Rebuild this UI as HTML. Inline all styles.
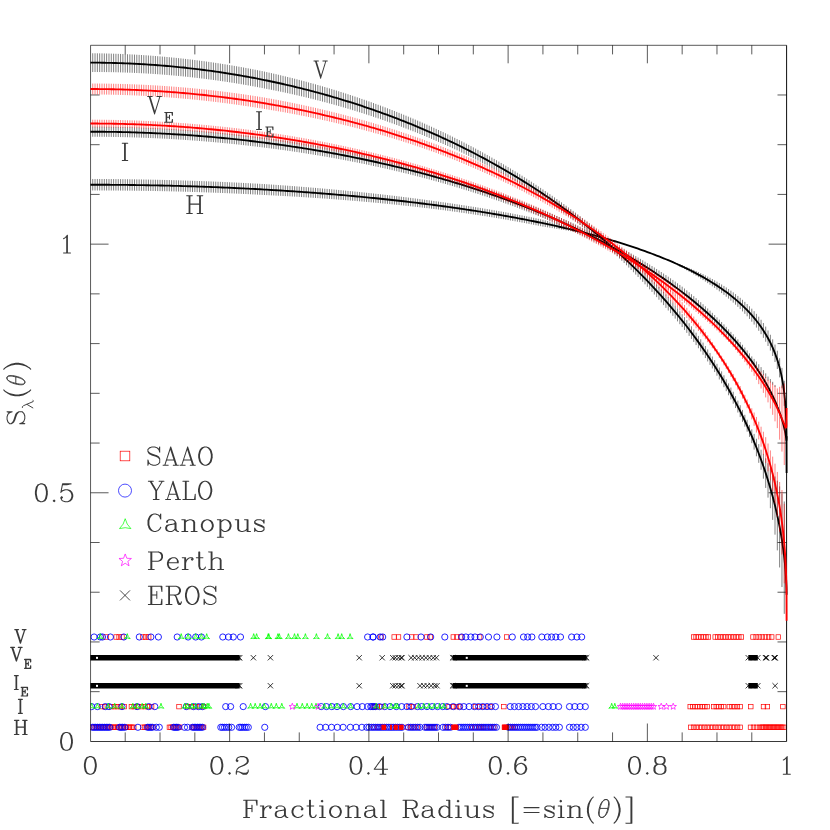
<!DOCTYPE html>
<html><head><meta charset="utf-8"><title>Limb darkening</title>
<style>html,body{margin:0;padding:0;background:#fff;font-family:"Liberation Serif",serif}body{width:830px;height:830px;overflow:hidden;position:relative}</style></head>
<body>
<svg width="830" height="830" viewBox="0 0 830 830" style="position:absolute;left:0;top:0">
<rect width="830" height="830" fill="#fff"/>
<clipPath id="cp"><rect x="90.4" y="40" width="700" height="705"/></clipPath>
<g clip-path="url(#cp)">
<rect x="88.00" y="655.00" width="151.70" height="5.5" fill="#000"/>
<rect x="452.60" y="655.00" width="134.00" height="5.5" fill="#000"/>
<rect x="748.30" y="655.00" width="9.50" height="5.5" fill="#000"/>
<rect x="88.00" y="683.00" width="151.70" height="5.5" fill="#000"/>
<rect x="452.60" y="683.00" width="134.00" height="5.5" fill="#000"/>
<rect x="748.30" y="683.00" width="9.50" height="5.5" fill="#000"/>
<path d="M237.05 655.10l5.30 5.30M237.05 660.40l5.30 -5.30M235.85 655.10l5.30 5.30M235.85 660.40l5.30 -5.30M250.75 655.10l5.30 5.30M250.75 660.40l5.30 -5.30M267.75 655.10l5.30 5.30M267.75 660.40l5.30 -5.30M356.55 655.10l5.30 5.30M356.55 660.40l5.30 -5.30M379.55 655.10l5.30 5.30M379.55 660.40l5.30 -5.30M390.15 655.10l5.30 5.30M390.15 660.40l5.30 -5.30M392.65 655.10l5.30 5.30M392.65 660.40l5.30 -5.30M395.85 655.10l5.30 5.30M395.85 660.40l5.30 -5.30M398.55 655.10l5.30 5.30M398.55 660.40l5.30 -5.30M399.35 655.10l5.30 5.30M399.35 660.40l5.30 -5.30M408.45 655.10l5.30 5.30M408.45 660.40l5.30 -5.30M412.05 655.10l5.30 5.30M412.05 660.40l5.30 -5.30M415.85 655.10l5.30 5.30M415.85 660.40l5.30 -5.30M419.45 655.10l5.30 5.30M419.45 660.40l5.30 -5.30M423.25 655.10l5.30 5.30M423.25 660.40l5.30 -5.30M426.85 655.10l5.30 5.30M426.85 660.40l5.30 -5.30M430.65 655.10l5.30 5.30M430.65 660.40l5.30 -5.30M433.75 655.10l5.30 5.30M433.75 660.40l5.30 -5.30M449.95 655.10l5.30 5.30M449.95 660.40l5.30 -5.30M451.15 655.10l5.30 5.30M451.15 660.40l5.30 -5.30M583.95 655.10l5.30 5.30M583.95 660.40l5.30 -5.30M582.75 655.10l5.30 5.30M582.75 660.40l5.30 -5.30M745.65 655.10l5.30 5.30M745.65 660.40l5.30 -5.30M755.15 655.10l5.30 5.30M755.15 660.40l5.30 -5.30M653.35 655.10l5.30 5.30M653.35 660.40l5.30 -5.30M762.85 655.10l5.30 5.30M762.85 660.40l5.30 -5.30M763.35 655.10l5.30 5.30M763.35 660.40l5.30 -5.30M763.85 655.10l5.30 5.30M763.85 660.40l5.30 -5.30M771.55 655.10l5.30 5.30M771.55 660.40l5.30 -5.30M772.05 655.10l5.30 5.30M772.05 660.40l5.30 -5.30M772.55 655.10l5.30 5.30M772.55 660.40l5.30 -5.30M237.05 683.10l5.30 5.30M237.05 688.40l5.30 -5.30M235.85 683.10l5.30 5.30M235.85 688.40l5.30 -5.30M267.75 683.10l5.30 5.30M267.75 688.40l5.30 -5.30M356.55 683.10l5.30 5.30M356.55 688.40l5.30 -5.30M390.15 683.10l5.30 5.30M390.15 688.40l5.30 -5.30M392.65 683.10l5.30 5.30M392.65 688.40l5.30 -5.30M395.85 683.10l5.30 5.30M395.85 688.40l5.30 -5.30M398.55 683.10l5.30 5.30M398.55 688.40l5.30 -5.30M399.35 683.10l5.30 5.30M399.35 688.40l5.30 -5.30M417.35 683.10l5.30 5.30M417.35 688.40l5.30 -5.30M421.15 683.10l5.30 5.30M421.15 688.40l5.30 -5.30M424.65 683.10l5.30 5.30M424.65 688.40l5.30 -5.30M428.45 683.10l5.30 5.30M428.45 688.40l5.30 -5.30M432.05 683.10l5.30 5.30M432.05 688.40l5.30 -5.30M434.35 683.10l5.30 5.30M434.35 688.40l5.30 -5.30M449.95 683.10l5.30 5.30M449.95 688.40l5.30 -5.30M451.15 683.10l5.30 5.30M451.15 688.40l5.30 -5.30M583.95 683.10l5.30 5.30M583.95 688.40l5.30 -5.30M582.75 683.10l5.30 5.30M582.75 688.40l5.30 -5.30M745.65 683.10l5.30 5.30M745.65 688.40l5.30 -5.30M755.15 683.10l5.30 5.30M755.15 688.40l5.30 -5.30M772.45 683.10l5.30 5.30M772.45 688.40l5.30 -5.30" stroke="#000" stroke-width="0.8" fill="none" stroke-linejoin="miter"/>
<g stroke="#f00" stroke-width="0.7" fill="none"><rect x="103.85" y="634.75" width="4.50" height="4.50"/><rect x="113.95" y="634.75" width="4.50" height="4.50"/><rect x="116.85" y="634.75" width="4.50" height="4.50"/><rect x="119.75" y="634.75" width="4.50" height="4.50"/><rect x="140.65" y="634.75" width="4.50" height="4.50"/><rect x="143.55" y="634.75" width="4.50" height="4.50"/><rect x="146.45" y="634.75" width="4.50" height="4.50"/><rect x="378.75" y="634.75" width="4.50" height="4.50"/><rect x="391.95" y="634.75" width="4.50" height="4.50"/><rect x="396.25" y="634.75" width="4.50" height="4.50"/><rect x="409.45" y="634.75" width="4.50" height="4.50"/><rect x="413.75" y="634.75" width="4.50" height="4.50"/><rect x="424.65" y="634.75" width="4.50" height="4.50"/><rect x="427.85" y="634.75" width="4.50" height="4.50"/><rect x="451.05" y="634.75" width="4.50" height="4.50"/><rect x="454.65" y="634.75" width="4.50" height="4.50"/><rect x="458.45" y="634.75" width="4.50" height="4.50"/><rect x="477.35" y="634.75" width="4.50" height="4.50"/><rect x="504.35" y="634.75" width="4.50" height="4.50"/><rect x="691.35" y="634.75" width="4.50" height="4.50"/><rect x="693.82" y="634.75" width="4.50" height="4.50"/><rect x="696.28" y="634.75" width="4.50" height="4.50"/><rect x="698.75" y="634.75" width="4.50" height="4.50"/><rect x="701.22" y="634.75" width="4.50" height="4.50"/><rect x="703.68" y="634.75" width="4.50" height="4.50"/><rect x="706.15" y="634.75" width="4.50" height="4.50"/><rect x="712.95" y="634.75" width="4.50" height="4.50"/><rect x="715.57" y="634.75" width="4.50" height="4.50"/><rect x="718.19" y="634.75" width="4.50" height="4.50"/><rect x="720.81" y="634.75" width="4.50" height="4.50"/><rect x="723.43" y="634.75" width="4.50" height="4.50"/><rect x="726.05" y="634.75" width="4.50" height="4.50"/><rect x="728.67" y="634.75" width="4.50" height="4.50"/><rect x="731.29" y="634.75" width="4.50" height="4.50"/><rect x="733.91" y="634.75" width="4.50" height="4.50"/><rect x="736.53" y="634.75" width="4.50" height="4.50"/><rect x="739.15" y="634.75" width="4.50" height="4.50"/><rect x="750.75" y="634.75" width="4.50" height="4.50"/><rect x="753.87" y="634.75" width="4.50" height="4.50"/><rect x="756.98" y="634.75" width="4.50" height="4.50"/><rect x="760.10" y="634.75" width="4.50" height="4.50"/><rect x="763.22" y="634.75" width="4.50" height="4.50"/><rect x="766.33" y="634.75" width="4.50" height="4.50"/><rect x="769.45" y="634.75" width="4.50" height="4.50"/><rect x="776.05" y="634.75" width="4.50" height="4.50"/><rect x="99.45" y="704.35" width="4.50" height="4.50"/><rect x="102.35" y="704.35" width="4.50" height="4.50"/><rect x="109.55" y="704.35" width="4.50" height="4.50"/><rect x="112.45" y="704.35" width="4.50" height="4.50"/><rect x="115.35" y="704.35" width="4.50" height="4.50"/><rect x="118.25" y="704.35" width="4.50" height="4.50"/><rect x="121.85" y="704.35" width="4.50" height="4.50"/><rect x="129.15" y="704.35" width="4.50" height="4.50"/><rect x="131.95" y="704.35" width="4.50" height="4.50"/><rect x="135.65" y="704.35" width="4.50" height="4.50"/><rect x="139.25" y="704.35" width="4.50" height="4.50"/><rect x="142.85" y="704.35" width="4.50" height="4.50"/><rect x="145.75" y="704.35" width="4.50" height="4.50"/><rect x="149.35" y="704.35" width="4.50" height="4.50"/><rect x="176.75" y="704.35" width="4.50" height="4.50"/><rect x="185.45" y="704.35" width="4.50" height="4.50"/><rect x="189.05" y="704.35" width="4.50" height="4.50"/><rect x="193.45" y="704.35" width="4.50" height="4.50"/><rect x="197.75" y="704.35" width="4.50" height="4.50"/><rect x="201.35" y="704.35" width="4.50" height="4.50"/><rect x="372.75" y="704.35" width="4.50" height="4.50"/><rect x="371.97" y="704.35" width="4.50" height="4.50"/><rect x="375.13" y="704.35" width="4.50" height="4.50"/><rect x="379.35" y="704.35" width="4.50" height="4.50"/><rect x="406.75" y="704.35" width="4.50" height="4.50"/><rect x="410.97" y="704.35" width="4.50" height="4.50"/><rect x="446.81" y="704.35" width="4.50" height="4.50"/><rect x="451.03" y="704.35" width="4.50" height="4.50"/><rect x="454.19" y="704.35" width="4.50" height="4.50"/><rect x="457.36" y="704.35" width="4.50" height="4.50"/><rect x="473.17" y="704.35" width="4.50" height="4.50"/><rect x="477.39" y="704.35" width="4.50" height="4.50"/><rect x="481.60" y="704.35" width="4.50" height="4.50"/><rect x="487.93" y="704.35" width="4.50" height="4.50"/><rect x="501.63" y="704.35" width="4.50" height="4.50"/><rect x="687.95" y="704.35" width="4.50" height="4.50"/><rect x="690.39" y="704.35" width="4.50" height="4.50"/><rect x="692.84" y="704.35" width="4.50" height="4.50"/><rect x="695.28" y="704.35" width="4.50" height="4.50"/><rect x="697.72" y="704.35" width="4.50" height="4.50"/><rect x="700.16" y="704.35" width="4.50" height="4.50"/><rect x="702.61" y="704.35" width="4.50" height="4.50"/><rect x="705.05" y="704.35" width="4.50" height="4.50"/><rect x="711.55" y="704.35" width="4.50" height="4.50"/><rect x="714.02" y="704.35" width="4.50" height="4.50"/><rect x="716.50" y="704.35" width="4.50" height="4.50"/><rect x="718.98" y="704.35" width="4.50" height="4.50"/><rect x="721.45" y="704.35" width="4.50" height="4.50"/><rect x="727.05" y="704.35" width="4.50" height="4.50"/><rect x="729.75" y="704.35" width="4.50" height="4.50"/><rect x="732.45" y="704.35" width="4.50" height="4.50"/><rect x="735.15" y="704.35" width="4.50" height="4.50"/><rect x="737.85" y="704.35" width="4.50" height="4.50"/><rect x="748.55" y="704.35" width="4.50" height="4.50"/><rect x="761.25" y="704.35" width="4.50" height="4.50"/><rect x="765.15" y="704.35" width="4.50" height="4.50"/><rect x="780.65" y="704.35" width="4.50" height="4.50"/><rect x="90.25" y="725.05" width="4.50" height="4.50"/><rect x="91.72" y="725.05" width="4.50" height="4.50"/><rect x="93.20" y="725.05" width="4.50" height="4.50"/><rect x="94.67" y="725.05" width="4.50" height="4.50"/><rect x="96.15" y="725.05" width="4.50" height="4.50"/><rect x="97.62" y="725.05" width="4.50" height="4.50"/><rect x="99.10" y="725.05" width="4.50" height="4.50"/><rect x="100.58" y="725.05" width="4.50" height="4.50"/><rect x="102.05" y="725.05" width="4.50" height="4.50"/><rect x="103.53" y="725.05" width="4.50" height="4.50"/><rect x="105.00" y="725.05" width="4.50" height="4.50"/><rect x="106.48" y="725.05" width="4.50" height="4.50"/><rect x="107.95" y="725.05" width="4.50" height="4.50"/><rect x="109.43" y="725.05" width="4.50" height="4.50"/><rect x="110.90" y="725.05" width="4.50" height="4.50"/><rect x="112.38" y="725.05" width="4.50" height="4.50"/><rect x="113.85" y="725.05" width="4.50" height="4.50"/><rect x="115.33" y="725.05" width="4.50" height="4.50"/><rect x="116.80" y="725.05" width="4.50" height="4.50"/><rect x="118.28" y="725.05" width="4.50" height="4.50"/><rect x="119.75" y="725.05" width="4.50" height="4.50"/><rect x="121.23" y="725.05" width="4.50" height="4.50"/><rect x="122.70" y="725.05" width="4.50" height="4.50"/><rect x="124.18" y="725.05" width="4.50" height="4.50"/><rect x="125.65" y="725.05" width="4.50" height="4.50"/><rect x="127.12" y="725.05" width="4.50" height="4.50"/><rect x="128.60" y="725.05" width="4.50" height="4.50"/><rect x="130.08" y="725.05" width="4.50" height="4.50"/><rect x="131.55" y="725.05" width="4.50" height="4.50"/><rect x="140.55" y="725.05" width="4.50" height="4.50"/><rect x="142.25" y="725.05" width="4.50" height="4.50"/><rect x="143.95" y="725.05" width="4.50" height="4.50"/><rect x="145.65" y="725.05" width="4.50" height="4.50"/><rect x="147.35" y="725.05" width="4.50" height="4.50"/><rect x="149.05" y="725.05" width="4.50" height="4.50"/><rect x="150.75" y="725.05" width="4.50" height="4.50"/><rect x="167.15" y="725.05" width="4.50" height="4.50"/><rect x="168.85" y="725.05" width="4.50" height="4.50"/><rect x="170.55" y="725.05" width="4.50" height="4.50"/><rect x="172.25" y="725.05" width="4.50" height="4.50"/><rect x="173.95" y="725.05" width="4.50" height="4.50"/><rect x="175.65" y="725.05" width="4.50" height="4.50"/><rect x="177.35" y="725.05" width="4.50" height="4.50"/><rect x="189.95" y="725.05" width="4.50" height="4.50"/><rect x="191.58" y="725.05" width="4.50" height="4.50"/><rect x="193.21" y="725.05" width="4.50" height="4.50"/><rect x="194.84" y="725.05" width="4.50" height="4.50"/><rect x="196.46" y="725.05" width="4.50" height="4.50"/><rect x="198.09" y="725.05" width="4.50" height="4.50"/><rect x="199.72" y="725.05" width="4.50" height="4.50"/><rect x="201.35" y="725.05" width="4.50" height="4.50"/><rect x="371.65" y="725.05" width="4.50" height="4.50"/><rect x="375.75" y="725.05" width="4.50" height="4.50"/><rect x="381.55" y="725.05" width="4.50" height="4.50"/><rect x="393.55" y="725.05" width="4.50" height="4.50"/><rect x="398.85" y="725.05" width="4.50" height="4.50"/><rect x="405.25" y="725.05" width="4.50" height="4.50"/><rect x="408.58" y="725.05" width="4.50" height="4.50"/><rect x="411.92" y="725.05" width="4.50" height="4.50"/><rect x="415.25" y="725.05" width="4.50" height="4.50"/><rect x="424.25" y="725.05" width="4.50" height="4.50"/><rect x="426.92" y="725.05" width="4.50" height="4.50"/><rect x="429.58" y="725.05" width="4.50" height="4.50"/><rect x="432.25" y="725.05" width="4.50" height="4.50"/><rect x="444.25" y="725.05" width="4.50" height="4.50"/><rect x="446.75" y="725.05" width="4.50" height="4.50"/><rect x="451.55" y="725.05" width="4.50" height="4.50"/><rect x="453.75" y="725.05" width="4.50" height="4.50"/><rect x="469.25" y="725.05" width="4.50" height="4.50"/><rect x="472.75" y="725.05" width="4.50" height="4.50"/><rect x="476.75" y="725.05" width="4.50" height="4.50"/><rect x="479.00" y="725.05" width="4.50" height="4.50"/><rect x="481.25" y="725.05" width="4.50" height="4.50"/><rect x="488.25" y="725.05" width="4.50" height="4.50"/><rect x="491.45" y="725.05" width="4.50" height="4.50"/><rect x="502.15" y="725.05" width="4.50" height="4.50"/><rect x="503.85" y="725.05" width="4.50" height="4.50"/><rect x="507.75" y="725.05" width="4.50" height="4.50"/><rect x="510.25" y="725.05" width="4.50" height="4.50"/><rect x="512.75" y="725.05" width="4.50" height="4.50"/><rect x="688.55" y="725.05" width="4.50" height="4.50"/><rect x="691.30" y="725.05" width="4.50" height="4.50"/><rect x="694.05" y="725.05" width="4.50" height="4.50"/><rect x="696.80" y="725.05" width="4.50" height="4.50"/><rect x="699.55" y="725.05" width="4.50" height="4.50"/><rect x="702.30" y="725.05" width="4.50" height="4.50"/><rect x="705.05" y="725.05" width="4.50" height="4.50"/><rect x="707.80" y="725.05" width="4.50" height="4.50"/><rect x="710.55" y="725.05" width="4.50" height="4.50"/><rect x="713.30" y="725.05" width="4.50" height="4.50"/><rect x="716.05" y="725.05" width="4.50" height="4.50"/><rect x="718.80" y="725.05" width="4.50" height="4.50"/><rect x="721.55" y="725.05" width="4.50" height="4.50"/><rect x="724.30" y="725.05" width="4.50" height="4.50"/><rect x="727.05" y="725.05" width="4.50" height="4.50"/><rect x="729.80" y="725.05" width="4.50" height="4.50"/><rect x="732.55" y="725.05" width="4.50" height="4.50"/><rect x="735.30" y="725.05" width="4.50" height="4.50"/><rect x="738.05" y="725.05" width="4.50" height="4.50"/><rect x="748.25" y="725.05" width="4.50" height="4.50"/><rect x="751.25" y="725.05" width="4.50" height="4.50"/><rect x="754.25" y="725.05" width="4.50" height="4.50"/><rect x="757.25" y="725.05" width="4.50" height="4.50"/><rect x="759.25" y="725.05" width="4.50" height="4.50"/><rect x="760.57" y="725.05" width="4.50" height="4.50"/><rect x="761.90" y="725.05" width="4.50" height="4.50"/><rect x="763.22" y="725.05" width="4.50" height="4.50"/><rect x="764.54" y="725.05" width="4.50" height="4.50"/><rect x="765.87" y="725.05" width="4.50" height="4.50"/><rect x="767.19" y="725.05" width="4.50" height="4.50"/><rect x="768.51" y="725.05" width="4.50" height="4.50"/><rect x="769.84" y="725.05" width="4.50" height="4.50"/><rect x="771.16" y="725.05" width="4.50" height="4.50"/><rect x="772.49" y="725.05" width="4.50" height="4.50"/><rect x="773.81" y="725.05" width="4.50" height="4.50"/><rect x="775.13" y="725.05" width="4.50" height="4.50"/><rect x="776.46" y="725.05" width="4.50" height="4.50"/><rect x="777.78" y="725.05" width="4.50" height="4.50"/><rect x="779.10" y="725.05" width="4.50" height="4.50"/><rect x="780.43" y="725.05" width="4.50" height="4.50"/><rect x="781.75" y="725.05" width="4.50" height="4.50"/></g>
<g stroke="#00f" stroke-width="0.85" fill="none"><circle cx="94.10" cy="637.00" r="3.10"/><circle cx="100.30" cy="637.00" r="3.10"/><circle cx="102.50" cy="637.00" r="3.10"/><circle cx="110.40" cy="637.00" r="3.10"/><circle cx="123.80" cy="637.00" r="3.10"/><circle cx="139.30" cy="637.00" r="3.10"/><circle cx="150.90" cy="637.00" r="3.10"/><circle cx="158.40" cy="637.00" r="3.10"/><circle cx="177.20" cy="637.00" r="3.10"/><circle cx="188.10" cy="637.00" r="3.10"/><circle cx="195.70" cy="637.00" r="3.10"/><circle cx="201.40" cy="637.00" r="3.10"/><circle cx="222.80" cy="637.00" r="3.10"/><circle cx="228.50" cy="637.00" r="3.10"/><circle cx="233.30" cy="637.00" r="3.10"/><circle cx="240.50" cy="637.00" r="3.10"/><circle cx="367.60" cy="637.00" r="3.10"/><circle cx="372.90" cy="637.00" r="3.10"/><circle cx="373.20" cy="637.00" r="3.10"/><circle cx="380.10" cy="637.00" r="3.10"/><circle cx="382.70" cy="637.00" r="3.10"/><circle cx="406.90" cy="637.00" r="3.10"/><circle cx="421.00" cy="637.00" r="3.10"/><circle cx="430.70" cy="637.00" r="3.10"/><circle cx="444.80" cy="637.00" r="3.10"/><circle cx="461.70" cy="637.00" r="3.10"/><circle cx="465.90" cy="637.00" r="3.10"/><circle cx="470.80" cy="637.00" r="3.10"/><circle cx="475.00" cy="637.00" r="3.10"/><circle cx="480.30" cy="637.00" r="3.10"/><circle cx="488.50" cy="637.00" r="3.10"/><circle cx="496.90" cy="637.00" r="3.10"/><circle cx="512.30" cy="637.00" r="3.10"/><circle cx="523.50" cy="637.00" r="3.10"/><circle cx="527.70" cy="637.00" r="3.10"/><circle cx="531.90" cy="637.00" r="3.10"/><circle cx="541.80" cy="637.00" r="3.10"/><circle cx="547.40" cy="637.00" r="3.10"/><circle cx="551.60" cy="637.00" r="3.10"/><circle cx="555.80" cy="637.00" r="3.10"/><circle cx="560.50" cy="637.00" r="3.10"/><circle cx="571.60" cy="637.00" r="3.10"/><circle cx="576.90" cy="637.00" r="3.10"/><circle cx="581.70" cy="637.00" r="3.10"/><circle cx="91.60" cy="706.60" r="3.10"/><circle cx="97.40" cy="706.60" r="3.10"/><circle cx="105.30" cy="706.60" r="3.10"/><circle cx="109.00" cy="706.60" r="3.10"/><circle cx="122.00" cy="706.60" r="3.10"/><circle cx="137.10" cy="706.60" r="3.10"/><circle cx="148.70" cy="706.60" r="3.10"/><circle cx="154.80" cy="706.60" r="3.10"/><circle cx="186.30" cy="706.60" r="3.10"/><circle cx="193.50" cy="706.60" r="3.10"/><circle cx="198.50" cy="706.60" r="3.10"/><circle cx="202.50" cy="706.60" r="3.10"/><circle cx="225.70" cy="706.60" r="3.10"/><circle cx="230.60" cy="706.60" r="3.10"/><circle cx="243.20" cy="706.60" r="3.10"/><circle cx="265.40" cy="706.60" r="3.10"/><circle cx="321.20" cy="706.60" r="3.10"/><circle cx="326.50" cy="706.60" r="3.10"/><circle cx="331.80" cy="706.60" r="3.10"/><circle cx="337.00" cy="706.60" r="3.10"/><circle cx="343.40" cy="706.60" r="3.10"/><circle cx="350.70" cy="706.60" r="3.10"/><circle cx="357.10" cy="706.60" r="3.10"/><circle cx="362.30" cy="706.60" r="3.10"/><circle cx="367.60" cy="706.60" r="3.10"/><circle cx="370.80" cy="706.60" r="3.10"/><circle cx="373.90" cy="706.60" r="3.10"/><circle cx="372.11" cy="706.60" r="3.10"/><circle cx="375.27" cy="706.60" r="3.10"/><circle cx="379.49" cy="706.60" r="3.10"/><circle cx="384.76" cy="706.60" r="3.10"/><circle cx="390.03" cy="706.60" r="3.10"/><circle cx="396.35" cy="706.60" r="3.10"/><circle cx="401.63" cy="706.60" r="3.10"/><circle cx="406.90" cy="706.60" r="3.10"/><circle cx="411.11" cy="706.60" r="3.10"/><circle cx="417.44" cy="706.60" r="3.10"/><circle cx="421.66" cy="706.60" r="3.10"/><circle cx="426.93" cy="706.60" r="3.10"/><circle cx="432.20" cy="706.60" r="3.10"/><circle cx="437.47" cy="706.60" r="3.10"/><circle cx="442.74" cy="706.60" r="3.10"/><circle cx="446.96" cy="706.60" r="3.10"/><circle cx="453.28" cy="706.60" r="3.10"/><circle cx="459.61" cy="706.60" r="3.10"/><circle cx="463.82" cy="706.60" r="3.10"/><circle cx="469.09" cy="706.60" r="3.10"/><circle cx="474.36" cy="706.60" r="3.10"/><circle cx="478.58" cy="706.60" r="3.10"/><circle cx="482.80" cy="706.60" r="3.10"/><circle cx="487.01" cy="706.60" r="3.10"/><circle cx="491.23" cy="706.60" r="3.10"/><circle cx="495.45" cy="706.60" r="3.10"/><circle cx="510.21" cy="706.60" r="3.10"/><circle cx="514.42" cy="706.60" r="3.10"/><circle cx="518.64" cy="706.60" r="3.10"/><circle cx="522.86" cy="706.60" r="3.10"/><circle cx="527.07" cy="706.60" r="3.10"/><circle cx="531.29" cy="706.60" r="3.10"/><circle cx="535.51" cy="706.60" r="3.10"/><circle cx="542.89" cy="706.60" r="3.10"/><circle cx="548.40" cy="706.60" r="3.10"/><circle cx="553.10" cy="706.60" r="3.10"/><circle cx="558.60" cy="706.60" r="3.10"/><circle cx="569.50" cy="706.60" r="3.10"/><circle cx="574.80" cy="706.60" r="3.10"/><circle cx="580.10" cy="706.60" r="3.10"/><circle cx="585.30" cy="706.60" r="3.10"/><circle cx="92.30" cy="727.30" r="3.10"/><circle cx="94.04" cy="727.30" r="3.10"/><circle cx="95.78" cy="727.30" r="3.10"/><circle cx="97.52" cy="727.30" r="3.10"/><circle cx="99.26" cy="727.30" r="3.10"/><circle cx="101.00" cy="727.30" r="3.10"/><circle cx="102.74" cy="727.30" r="3.10"/><circle cx="104.48" cy="727.30" r="3.10"/><circle cx="106.22" cy="727.30" r="3.10"/><circle cx="107.96" cy="727.30" r="3.10"/><circle cx="109.70" cy="727.30" r="3.10"/><circle cx="119.50" cy="727.30" r="3.10"/><circle cx="121.00" cy="727.30" r="3.10"/><circle cx="122.70" cy="727.30" r="3.10"/><circle cx="124.80" cy="727.30" r="3.10"/><circle cx="137.90" cy="727.30" r="3.10"/><circle cx="147.50" cy="727.30" r="3.10"/><circle cx="149.00" cy="727.30" r="3.10"/><circle cx="150.90" cy="727.30" r="3.10"/><circle cx="152.30" cy="727.30" r="3.10"/><circle cx="156.30" cy="727.30" r="3.10"/><circle cx="159.30" cy="727.30" r="3.10"/><circle cx="173.50" cy="727.30" r="3.10"/><circle cx="175.00" cy="727.30" r="3.10"/><circle cx="176.50" cy="727.30" r="3.10"/><circle cx="178.00" cy="727.30" r="3.10"/><circle cx="184.50" cy="727.30" r="3.10"/><circle cx="187.50" cy="727.30" r="3.10"/><circle cx="192.50" cy="727.30" r="3.10"/><circle cx="194.17" cy="727.30" r="3.10"/><circle cx="195.83" cy="727.30" r="3.10"/><circle cx="197.50" cy="727.30" r="3.10"/><circle cx="199.17" cy="727.30" r="3.10"/><circle cx="200.83" cy="727.30" r="3.10"/><circle cx="202.50" cy="727.30" r="3.10"/><circle cx="220.80" cy="727.30" r="3.10"/><circle cx="222.50" cy="727.30" r="3.10"/><circle cx="224.50" cy="727.30" r="3.10"/><circle cx="226.60" cy="727.30" r="3.10"/><circle cx="228.80" cy="727.30" r="3.10"/><circle cx="231.60" cy="727.30" r="3.10"/><circle cx="239.20" cy="727.30" r="3.10"/><circle cx="240.80" cy="727.30" r="3.10"/><circle cx="242.50" cy="727.30" r="3.10"/><circle cx="244.50" cy="727.30" r="3.10"/><circle cx="246.30" cy="727.30" r="3.10"/><circle cx="248.30" cy="727.30" r="3.10"/><circle cx="264.75" cy="727.30" r="3.10"/><circle cx="320.10" cy="727.30" r="3.10"/><circle cx="325.70" cy="727.30" r="3.10"/><circle cx="331.50" cy="727.30" r="3.10"/><circle cx="337.30" cy="727.30" r="3.10"/><circle cx="343.10" cy="727.30" r="3.10"/><circle cx="350.30" cy="727.30" r="3.10"/><circle cx="356.10" cy="727.30" r="3.10"/><circle cx="361.90" cy="727.30" r="3.10"/><circle cx="366.70" cy="727.30" r="3.10"/><circle cx="369.10" cy="727.30" r="3.10"/><circle cx="371.50" cy="727.30" r="3.10"/><circle cx="373.50" cy="727.30" r="3.10"/><circle cx="375.69" cy="727.30" r="3.10"/><circle cx="377.88" cy="727.30" r="3.10"/><circle cx="380.08" cy="727.30" r="3.10"/><circle cx="382.27" cy="727.30" r="3.10"/><circle cx="384.46" cy="727.30" r="3.10"/><circle cx="386.65" cy="727.30" r="3.10"/><circle cx="388.85" cy="727.30" r="3.10"/><circle cx="391.04" cy="727.30" r="3.10"/><circle cx="393.23" cy="727.30" r="3.10"/><circle cx="395.42" cy="727.30" r="3.10"/><circle cx="397.62" cy="727.30" r="3.10"/><circle cx="399.81" cy="727.30" r="3.10"/><circle cx="402.00" cy="727.30" r="3.10"/><circle cx="408.50" cy="727.30" r="3.10"/><circle cx="410.80" cy="727.30" r="3.10"/><circle cx="413.10" cy="727.30" r="3.10"/><circle cx="415.40" cy="727.30" r="3.10"/><circle cx="417.70" cy="727.30" r="3.10"/><circle cx="420.00" cy="727.30" r="3.10"/><circle cx="425.00" cy="727.30" r="3.10"/><circle cx="427.00" cy="727.30" r="3.10"/><circle cx="429.00" cy="727.30" r="3.10"/><circle cx="431.00" cy="727.30" r="3.10"/><circle cx="433.00" cy="727.30" r="3.10"/><circle cx="435.00" cy="727.30" r="3.10"/><circle cx="437.00" cy="727.30" r="3.10"/><circle cx="443.00" cy="727.30" r="3.10"/><circle cx="445.50" cy="727.30" r="3.10"/><circle cx="448.00" cy="727.30" r="3.10"/><circle cx="450.50" cy="727.30" r="3.10"/><circle cx="459.00" cy="727.30" r="3.10"/><circle cx="461.08" cy="727.30" r="3.10"/><circle cx="463.16" cy="727.30" r="3.10"/><circle cx="465.23" cy="727.30" r="3.10"/><circle cx="467.31" cy="727.30" r="3.10"/><circle cx="469.39" cy="727.30" r="3.10"/><circle cx="471.47" cy="727.30" r="3.10"/><circle cx="473.54" cy="727.30" r="3.10"/><circle cx="475.62" cy="727.30" r="3.10"/><circle cx="477.70" cy="727.30" r="3.10"/><circle cx="479.78" cy="727.30" r="3.10"/><circle cx="481.86" cy="727.30" r="3.10"/><circle cx="483.93" cy="727.30" r="3.10"/><circle cx="486.01" cy="727.30" r="3.10"/><circle cx="488.09" cy="727.30" r="3.10"/><circle cx="490.17" cy="727.30" r="3.10"/><circle cx="492.24" cy="727.30" r="3.10"/><circle cx="494.32" cy="727.30" r="3.10"/><circle cx="496.40" cy="727.30" r="3.10"/><circle cx="508.50" cy="727.30" r="3.10"/><circle cx="510.54" cy="727.30" r="3.10"/><circle cx="512.57" cy="727.30" r="3.10"/><circle cx="514.61" cy="727.30" r="3.10"/><circle cx="516.64" cy="727.30" r="3.10"/><circle cx="518.68" cy="727.30" r="3.10"/><circle cx="520.71" cy="727.30" r="3.10"/><circle cx="522.75" cy="727.30" r="3.10"/><circle cx="524.79" cy="727.30" r="3.10"/><circle cx="526.82" cy="727.30" r="3.10"/><circle cx="528.86" cy="727.30" r="3.10"/><circle cx="530.89" cy="727.30" r="3.10"/><circle cx="532.93" cy="727.30" r="3.10"/><circle cx="534.96" cy="727.30" r="3.10"/><circle cx="537.00" cy="727.30" r="3.10"/><circle cx="541.60" cy="727.30" r="3.10"/><circle cx="545.00" cy="727.30" r="3.10"/><circle cx="548.90" cy="727.30" r="3.10"/><circle cx="552.70" cy="727.30" r="3.10"/><circle cx="555.80" cy="727.30" r="3.10"/><circle cx="559.40" cy="727.30" r="3.10"/><circle cx="569.50" cy="727.30" r="3.10"/><circle cx="573.30" cy="727.30" r="3.10"/><circle cx="576.90" cy="727.30" r="3.10"/><circle cx="581.10" cy="727.30" r="3.10"/><circle cx="585.30" cy="727.30" r="3.10"/></g>
<rect x="381.50" y="724.65" width="4.60" height="5.3" fill="#f00"/>
<rect x="390.00" y="724.65" width="2.00" height="5.3" fill="#f00"/>
<rect x="393.80" y="724.65" width="4.00" height="5.3" fill="#f00"/>
<rect x="399.10" y="724.65" width="4.00" height="5.3" fill="#f00"/>
<rect x="451.50" y="724.65" width="6.80" height="5.3" fill="#f00"/>
<rect x="502.10" y="724.65" width="6.30" height="5.3" fill="#f00"/>
<path d="M100.30 633.65L101.17 636.50L103.20 638.67L100.30 638.00L97.40 638.67L99.43 636.50ZM127.30 633.65L128.17 636.50L130.20 638.67L127.30 638.00L124.40 638.67L126.43 636.50ZM181.20 633.65L182.07 636.50L184.10 638.67L181.20 638.00L178.30 638.67L180.33 636.50ZM188.10 633.65L188.97 636.50L191.00 638.67L188.10 638.00L185.20 638.67L187.23 636.50ZM195.70 633.65L196.57 636.50L198.60 638.67L195.70 638.00L192.80 638.67L194.83 636.50ZM201.40 633.65L202.27 636.50L204.30 638.67L201.40 638.00L198.50 638.67L200.53 636.50ZM206.70 633.65L207.57 636.50L209.60 638.67L206.70 638.00L203.80 638.67L205.83 636.50ZM253.70 633.65L254.57 636.50L256.60 638.67L253.70 638.00L250.80 638.67L252.83 636.50ZM256.60 633.65L257.47 636.50L259.50 638.67L256.60 638.00L253.70 638.67L255.73 636.50ZM268.20 633.65L269.07 636.50L271.10 638.67L268.20 638.00L265.30 638.67L267.33 636.50ZM268.80 633.65L269.67 636.50L271.70 638.67L268.80 638.00L265.90 638.67L267.93 636.50ZM277.90 633.65L278.77 636.50L280.80 638.67L277.90 638.00L275.00 638.67L277.03 636.50ZM279.30 633.65L280.17 636.50L282.20 638.67L279.30 638.00L276.40 638.67L278.43 636.50ZM288.40 633.65L289.27 636.50L291.30 638.67L288.40 638.00L285.50 638.67L287.53 636.50ZM294.50 633.65L295.37 636.50L297.40 638.67L294.50 638.00L291.60 638.67L293.63 636.50ZM297.80 633.65L298.67 636.50L300.70 638.67L297.80 638.00L294.90 638.67L296.93 636.50ZM305.40 633.65L306.27 636.50L308.30 638.67L305.40 638.00L302.50 638.67L304.53 636.50ZM316.40 633.65L317.27 636.50L319.30 638.67L316.40 638.00L313.50 638.67L315.53 636.50ZM327.50 633.65L328.37 636.50L330.40 638.67L327.50 638.00L324.60 638.67L326.63 636.50ZM338.10 633.65L338.97 636.50L341.00 638.67L338.10 638.00L335.20 638.67L337.23 636.50ZM341.70 633.65L342.57 636.50L344.60 638.67L341.70 638.00L338.80 638.67L340.83 636.50ZM350.10 633.65L350.97 636.50L353.00 638.67L350.10 638.00L347.20 638.67L349.23 636.50ZM91.60 703.25L92.47 706.10L94.50 708.27L91.60 707.61L88.70 708.27L90.73 706.10ZM97.40 703.25L98.27 706.10L100.30 708.27L97.40 707.61L94.50 708.27L96.53 706.10ZM108.20 703.25L109.07 706.10L111.10 708.27L108.20 707.61L105.30 708.27L107.33 706.10ZM114.70 703.25L115.57 706.10L117.60 708.27L114.70 707.61L111.80 708.27L113.83 706.10ZM122.00 703.25L122.87 706.10L124.90 708.27L122.00 707.61L119.10 708.27L121.13 706.10ZM132.80 703.25L133.67 706.10L135.70 708.27L132.80 707.61L129.90 708.27L131.93 706.10ZM137.10 703.25L137.97 706.10L140.00 708.27L137.10 707.61L134.20 708.27L136.23 706.10ZM142.20 703.25L143.07 706.10L145.10 708.27L142.20 707.61L139.30 708.27L141.33 706.10ZM145.80 703.25L146.67 706.10L148.70 708.27L145.80 707.61L142.90 708.27L144.93 706.10ZM161.00 703.25L161.87 706.10L163.90 708.27L161.00 707.61L158.10 708.27L160.13 706.10ZM184.80 703.25L185.67 706.10L187.70 708.27L184.80 707.61L181.90 708.27L183.93 706.10ZM187.70 703.25L188.57 706.10L190.60 708.27L187.70 707.61L184.80 708.27L186.83 706.10ZM192.00 703.25L192.87 706.10L194.90 708.27L192.00 707.61L189.10 708.27L191.13 706.10ZM195.70 703.25L196.57 706.10L198.60 708.27L195.70 707.61L192.80 708.27L194.83 706.10ZM202.20 703.25L203.07 706.10L205.10 708.27L202.20 707.61L199.30 708.27L201.33 706.10ZM207.20 703.25L208.07 706.10L210.10 708.27L207.20 707.61L204.30 708.27L206.33 706.10ZM204.20 703.25L205.07 706.10L207.10 708.27L204.20 707.61L201.30 708.27L203.33 706.10ZM208.90 703.25L209.77 706.10L211.80 708.27L208.90 707.61L206.00 708.27L208.03 706.10ZM250.60 703.25L251.47 706.10L253.50 708.27L250.60 707.61L247.70 708.27L249.73 706.10ZM255.20 703.25L256.07 706.10L258.10 708.27L255.20 707.61L252.30 708.27L254.33 706.10ZM260.10 703.25L260.97 706.10L263.00 708.27L260.10 707.61L257.20 708.27L259.23 706.10ZM264.30 703.25L265.17 706.10L267.20 708.27L264.30 707.61L261.40 708.27L263.43 706.10ZM271.30 703.25L272.17 706.10L274.20 708.27L271.30 707.61L268.40 708.27L270.43 706.10ZM276.30 703.25L277.17 706.10L279.20 708.27L276.30 707.61L273.40 708.27L275.43 706.10ZM281.80 703.25L282.67 706.10L284.70 708.27L281.80 707.61L278.90 708.27L280.93 706.10ZM297.00 703.25L297.87 706.10L299.90 708.27L297.00 707.61L294.10 708.27L296.13 706.10ZM302.30 703.25L303.17 706.10L305.20 708.27L302.30 707.61L299.40 708.27L301.43 706.10ZM307.10 703.25L307.97 706.10L310.00 708.27L307.10 707.61L304.20 708.27L306.23 706.10ZM311.70 703.25L312.57 706.10L314.60 708.27L311.70 707.61L308.80 708.27L310.83 706.10ZM316.00 703.25L316.87 706.10L318.90 708.27L316.00 707.61L313.10 708.27L315.13 706.10ZM324.40 703.25L325.27 706.10L327.30 708.27L324.40 707.61L321.50 708.27L323.53 706.10ZM330.70 703.25L331.57 706.10L333.60 708.27L330.70 707.61L327.80 708.27L329.83 706.10ZM337.00 703.25L337.87 706.10L339.90 708.27L337.00 707.61L334.10 708.27L336.13 706.10ZM343.40 703.25L344.27 706.10L346.30 708.27L343.40 707.61L340.50 708.27L342.53 706.10ZM350.70 703.25L351.57 706.10L353.60 708.27L350.70 707.61L347.80 708.27L349.83 706.10ZM376.33 703.25L377.20 706.10L379.23 708.27L376.33 707.61L373.42 708.27L375.45 706.10ZM384.76 703.25L385.63 706.10L387.66 708.27L384.76 707.61L381.86 708.27L383.89 706.10ZM391.08 703.25L391.95 706.10L393.98 708.27L391.08 707.61L388.18 708.27L390.21 706.10ZM395.30 703.25L396.17 706.10L398.20 708.27L395.30 707.61L392.40 708.27L394.43 706.10ZM397.41 703.25L398.28 706.10L400.31 708.27L397.41 707.61L394.51 708.27L396.54 706.10ZM418.49 703.25L419.36 706.10L421.39 708.27L418.49 707.61L415.59 708.27L417.62 706.10ZM423.76 703.25L424.63 706.10L426.66 708.27L423.76 707.61L420.86 708.27L422.89 706.10ZM429.03 703.25L429.90 706.10L431.94 708.27L429.03 707.61L426.13 708.27L428.16 706.10ZM434.31 703.25L435.18 706.10L437.21 708.27L434.31 707.61L431.40 708.27L433.43 706.10ZM439.58 703.25L440.45 706.10L442.48 708.27L439.58 707.61L436.68 708.27L438.71 706.10ZM443.79 703.25L444.66 706.10L446.69 708.27L443.79 707.61L440.89 708.27L442.92 706.10ZM611.70 703.25L612.57 706.10L614.60 708.27L611.70 707.61L608.80 708.27L610.83 706.10ZM614.80 703.25L615.67 706.10L617.70 708.27L614.80 707.61L611.90 708.27L613.93 706.10Z" stroke="#0f0" stroke-width="0.8" fill="none" stroke-linejoin="miter"/>
<path d="M292.30 703.20L293.14 705.44L295.53 705.55L293.66 707.04L294.30 709.35L292.30 708.03L290.30 709.35L290.94 707.04L289.07 705.55L291.46 705.44ZM318.10 703.20L318.94 705.44L321.33 705.55L319.46 707.04L320.10 709.35L318.10 708.03L316.10 709.35L316.74 707.04L314.87 705.55L317.26 705.44ZM620.50 703.20L621.34 705.44L623.73 705.55L621.86 707.04L622.50 709.35L620.50 708.03L618.50 709.35L619.14 707.04L617.27 705.55L619.66 705.44ZM622.70 703.20L623.54 705.44L625.93 705.55L624.06 707.04L624.70 709.35L622.70 708.03L620.70 709.35L621.34 707.04L619.47 705.55L621.86 705.44ZM624.90 703.20L625.74 705.44L628.13 705.55L626.26 707.04L626.90 709.35L624.90 708.03L622.90 709.35L623.54 707.04L621.67 705.55L624.06 705.44ZM627.10 703.20L627.94 705.44L630.33 705.55L628.46 707.04L629.10 709.35L627.10 708.03L625.10 709.35L625.74 707.04L623.87 705.55L626.26 705.44ZM629.30 703.20L630.14 705.44L632.53 705.55L630.66 707.04L631.30 709.35L629.30 708.03L627.30 709.35L627.94 707.04L626.07 705.55L628.46 705.44ZM631.50 703.20L632.34 705.44L634.73 705.55L632.86 707.04L633.50 709.35L631.50 708.03L629.50 709.35L630.14 707.04L628.27 705.55L630.66 705.44ZM633.70 703.20L634.54 705.44L636.93 705.55L635.06 707.04L635.70 709.35L633.70 708.03L631.70 709.35L632.34 707.04L630.47 705.55L632.86 705.44ZM635.90 703.20L636.74 705.44L639.13 705.55L637.26 707.04L637.90 709.35L635.90 708.03L633.90 709.35L634.54 707.04L632.67 705.55L635.06 705.44ZM638.10 703.20L638.94 705.44L641.33 705.55L639.46 707.04L640.10 709.35L638.10 708.03L636.10 709.35L636.74 707.04L634.87 705.55L637.26 705.44ZM640.30 703.20L641.14 705.44L643.53 705.55L641.66 707.04L642.30 709.35L640.30 708.03L638.30 709.35L638.94 707.04L637.07 705.55L639.46 705.44ZM642.50 703.20L643.34 705.44L645.73 705.55L643.86 707.04L644.50 709.35L642.50 708.03L640.50 709.35L641.14 707.04L639.27 705.55L641.66 705.44ZM644.70 703.20L645.54 705.44L647.93 705.55L646.06 707.04L646.70 709.35L644.70 708.03L642.70 709.35L643.34 707.04L641.47 705.55L643.86 705.44ZM646.90 703.20L647.74 705.44L650.13 705.55L648.26 707.04L648.90 709.35L646.90 708.03L644.90 709.35L645.54 707.04L643.67 705.55L646.06 705.44ZM649.10 703.20L649.94 705.44L652.33 705.55L650.46 707.04L651.10 709.35L649.10 708.03L647.10 709.35L647.74 707.04L645.87 705.55L648.26 705.44ZM651.30 703.20L652.14 705.44L654.53 705.55L652.66 707.04L653.30 709.35L651.30 708.03L649.30 709.35L649.94 707.04L648.07 705.55L650.46 705.44ZM653.50 703.20L654.34 705.44L656.73 705.55L654.86 707.04L655.50 709.35L653.50 708.03L651.50 709.35L652.14 707.04L650.27 705.55L652.66 705.44ZM661.20 703.20L662.04 705.44L664.43 705.55L662.56 707.04L663.20 709.35L661.20 708.03L659.20 709.35L659.84 707.04L657.97 705.55L660.36 705.44ZM666.50 703.20L667.34 705.44L669.73 705.55L667.86 707.04L668.50 709.35L666.50 708.03L664.50 709.35L665.14 707.04L663.27 705.55L665.66 705.44ZM673.20 703.20L674.04 705.44L676.43 705.55L674.56 707.04L675.20 709.35L673.20 708.03L671.20 709.35L671.84 707.04L669.97 705.55L672.36 705.44Z" stroke="#f0f" stroke-width="0.7" fill="none" stroke-linejoin="miter"/>
</g>
<rect x="96.00" y="656.85" width="2.0" height="2.0" fill="#fff"/>
<rect x="465.75" y="656.85" width="2.0" height="2.0" fill="#fff"/>
<rect x="96.00" y="684.85" width="2.0" height="2.0" fill="#fff"/>
<rect x="465.75" y="684.85" width="2.0" height="2.0" fill="#fff"/>
<rect x="120.20" y="451.20" width="9.6" height="9.6" stroke="#f00" stroke-width="0.7" fill="none"/>
<circle cx="125.00" cy="490.60" r="6.5" stroke="#00f" stroke-width="0.7" fill="none"/>
<path d="M125.20 518.70L127.26 524.11L130.92 528.60L125.20 527.68L119.48 528.60L123.14 524.11Z" stroke="#0f0" stroke-width="0.7" fill="none"/>
<path d="M125.20 553.95L126.82 558.27L131.43 558.48L127.82 561.35L129.05 565.80L125.20 563.25L121.35 565.80L122.58 561.35L118.97 558.48L123.58 558.27Z" stroke="#f0f" stroke-width="0.7" fill="none"/>
<path d="M120.00 590.40l10.00 10.00M120.00 600.40l10.00 -10.00" stroke="#000" stroke-width="0.7" fill="none"/>
<path d="M125.21 741.50v-9.10 M125.21 45.30v9.10 M160.02 741.50v-9.10 M160.02 45.30v9.10 M194.83 741.50v-9.10 M194.83 45.30v9.10 M229.64 741.50v-18.00 M229.64 45.30v18.00 M264.45 741.50v-9.10 M264.45 45.30v9.10 M299.26 741.50v-9.10 M299.26 45.30v9.10 M334.07 741.50v-9.10 M334.07 45.30v9.10 M368.88 741.50v-18.00 M368.88 45.30v18.00 M403.69 741.50v-9.10 M403.69 45.30v9.10 M438.50 741.50v-9.10 M438.50 45.30v9.10 M473.31 741.50v-9.10 M473.31 45.30v9.10 M508.12 741.50v-18.00 M508.12 45.30v18.00 M542.93 741.50v-9.10 M542.93 45.30v9.10 M577.74 741.50v-9.10 M577.74 45.30v9.10 M612.55 741.50v-9.10 M612.55 45.30v9.10 M647.36 741.50v-18.00 M647.36 45.30v18.00 M682.17 741.50v-9.10 M682.17 45.30v9.10 M716.98 741.50v-9.10 M716.98 45.30v9.10 M751.79 741.50v-9.10 M751.79 45.30v9.10 M90.55 691.67h9.10 M786.60 691.67h-9.10 M90.55 641.95h9.10 M786.60 641.95h-9.10 M90.55 592.22h9.10 M786.60 592.22h-9.10 M90.55 542.50h9.10 M786.60 542.50h-9.10 M90.55 492.77h18.00 M786.60 492.77h-18.00 M90.55 443.05h9.10 M786.60 443.05h-9.10 M90.55 393.32h9.10 M786.60 393.32h-9.10 M90.55 343.60h9.10 M786.60 343.60h-9.10 M90.55 293.87h9.10 M786.60 293.87h-9.10 M90.55 244.15h18.00 M786.60 244.15h-18.00 M90.55 194.42h9.10 M786.60 194.42h-9.10 M90.55 144.70h9.10 M786.60 144.70h-9.10 M90.55 94.97h9.10 M786.60 94.97h-9.10" stroke="#000" stroke-width="0.65" fill="none"/>
<path d="M90.55 45.30H786.60 M90.55 45.30V741.50" stroke="#000" stroke-width="0.65" fill="none"/>
<path d="M90.55 741.50H786.60" stroke="#000" stroke-width="0.78" fill="none"/>
<path d="M786.60 45.30V741.50" stroke="#000" stroke-width="0.95" fill="none"/>
<path d="M92.72 53.27V72.04M95.04 53.29V72.04M97.36 53.32V72.04M99.68 53.35V72.05M102.00 53.39V72.06M104.32 53.44V72.09M106.64 53.49V72.11M108.97 53.55V72.15M111.29 53.62V72.18M113.61 53.69V72.23M115.93 53.76V72.28M118.25 53.85V72.34M120.57 53.93V72.40M122.89 54.03V72.47M125.21 54.13V72.55M127.53 54.24V72.63M129.85 54.35V72.72M132.17 54.47V72.81M134.49 54.59V72.91M136.81 54.73V73.02M139.13 54.86V73.13M141.45 55.01V73.25M143.78 55.16V73.37M146.10 55.31V73.50M148.42 55.48V73.64M150.74 55.64V73.78M153.06 55.82V73.93M155.38 56.00V74.09M157.70 56.19V74.25M160.02 56.38V74.42M162.34 56.58V74.59M164.66 56.78V74.77M166.98 56.99V74.96M169.30 57.21V75.15M171.62 57.44V75.35M173.94 57.67V75.56M176.26 57.90V75.77M178.59 58.14V75.98M180.91 58.39V76.21M183.23 58.65V76.44M185.55 58.91V76.67M187.87 59.18V76.92M190.19 59.45V77.16M192.51 59.73V77.42M194.83 60.02V77.68M197.15 60.31V77.95M199.47 60.61V78.22M201.79 60.91V78.50M204.11 61.23V78.79M206.43 61.54V79.08M208.75 61.87V79.38M211.07 62.20V79.68M213.40 62.54V80.00M215.72 62.88V80.31M218.04 63.23V80.64M220.36 63.58V80.97M222.68 63.95V81.31M225.00 64.32V81.65M227.32 64.69V82.00M229.64 65.07V82.36M231.96 65.46V82.72M234.28 65.86V83.09M236.60 66.26V83.47M238.92 66.67V83.85M241.24 67.08V84.24M243.56 67.50V84.63M245.88 67.93V85.04M248.21 68.36V85.45M250.53 68.80V85.86M252.85 69.25V86.28M255.17 69.70V86.71M257.49 70.16V87.15M259.81 70.63V87.59M262.13 71.10V88.04M264.45 71.58V88.49M266.77 72.09V88.93M269.09 72.61V89.38M271.41 73.13V89.84M273.73 73.66V90.30M276.05 74.19V90.77M278.37 74.73V91.24M280.69 75.28V91.72M283.02 75.83V92.21M285.34 76.40V92.71M287.66 76.97V93.21M289.98 77.54V93.72M292.30 78.12V94.23M294.62 78.71V94.76M296.94 79.31V95.29M299.26 79.91V95.82M301.58 80.52V96.37M303.90 81.14V96.92M306.22 81.76V97.48M308.54 82.40V98.04M310.86 83.03V98.61M313.18 83.68V99.19M315.50 84.33V99.78M317.83 84.99V100.37M320.15 85.66V100.97M322.47 86.33V101.58M324.79 87.02V102.20M327.11 87.70V102.82M329.43 88.40V103.45M331.75 89.10V104.09M334.07 89.81V104.73M336.39 90.53V105.38M338.71 91.26V106.04M341.03 91.99V106.71M343.35 92.73V107.38M345.67 93.48V108.07M347.99 94.24V108.76M350.31 95.00V109.45M352.64 95.77V110.16M354.96 96.55V110.87M357.28 97.33V111.59M359.60 98.13V112.32M361.92 98.93V113.05M364.24 99.74V113.79M366.56 100.56V114.54M368.88 101.38V115.30M371.20 102.21V116.07M373.52 103.05V116.84M375.84 103.90V117.63M378.16 104.76V118.42M380.48 105.62V119.21M382.80 106.50V120.02M385.12 107.38V120.84M387.45 108.27V121.66M389.77 109.16V122.49M392.09 110.07V123.33M394.41 110.98V124.18M396.73 111.90V125.03M399.05 112.83V125.89M401.37 113.77V126.77M403.69 114.72V127.65M406.01 115.68V128.54M408.33 116.64V129.44M410.65 117.61V130.34M412.97 118.59V131.26M415.29 119.58V132.18M417.61 120.58V133.11M419.93 121.59V134.06M422.26 122.61V135.01M424.58 123.63V135.96M426.90 124.67V136.93M429.22 125.71V137.91M431.54 126.76V138.90M433.86 127.82V139.89M436.18 128.90V140.90M438.50 129.98V141.91M440.82 131.07V142.93M443.14 132.17V143.96M445.46 133.28V145.00M447.78 134.40V146.05M450.10 135.53V147.11M452.42 136.67V148.18M454.74 137.82V149.26M457.07 138.98V150.34M459.39 140.14V151.44M461.71 141.32V152.55M464.03 142.51V153.67M466.35 143.71V154.79M468.67 144.92V155.93M470.99 146.14V157.08M473.31 147.37V158.24M475.63 148.60V159.41M477.95 149.85V160.59M480.27 151.11V161.78M482.59 152.39V162.98M484.91 153.67V164.19M487.23 154.96V165.41M489.55 156.26V166.64M491.88 157.58V167.89M494.20 158.90V169.14M496.52 160.24V170.41M498.84 161.59V171.68M501.16 162.95V172.97M503.48 164.32V174.27M505.80 165.70V175.58M508.12 167.09V176.91M510.44 168.50V178.24M512.76 169.92V179.59M515.08 171.35V180.95M517.40 172.79V182.32M519.72 174.24V183.70M522.04 175.71V185.10M524.36 177.19V186.50M526.69 178.68V187.92M529.01 180.18V189.36M531.33 181.70V190.80M533.65 183.23V192.26M535.97 184.77V193.74M538.29 186.33V195.22M540.61 187.90V196.72M542.93 189.48V198.23M545.25 191.04V199.80M547.57 192.61V201.38M549.89 194.20V202.97M552.21 195.80V204.58M554.53 197.41V206.20M556.85 199.04V207.83M559.17 200.69V209.48M561.50 202.35V211.15M563.82 204.02V212.83M566.14 205.71V214.53M568.46 207.41V216.24M570.78 209.13V217.96M573.10 210.87V219.71M575.42 212.62V221.47M577.74 214.39V223.24M580.06 216.17V225.03M582.38 217.98V226.84M584.70 219.79V228.67M587.02 221.63V230.51M589.34 223.48V232.37M591.66 225.35V234.24M593.98 227.24V236.14M596.31 229.15V238.05M598.63 231.08V239.99M600.95 233.02V241.94M603.27 234.98V243.91M605.59 236.97V245.90M607.91 238.97V247.90M610.23 240.99V249.93M612.55 243.03V251.98M614.87 245.00V254.15M617.19 246.99V256.33M619.51 249.00V258.54M621.83 251.04V260.77M624.15 253.09V263.02M626.47 255.17V265.29M628.79 257.27V267.59M631.12 259.40V269.91M633.44 261.54V272.25M635.76 263.72V274.62M638.08 265.92V277.01M640.40 268.14V279.43M642.72 270.39V281.87M645.04 272.66V284.34M647.36 274.97V286.84M649.68 277.30V289.37M652.00 279.65V291.92M654.32 282.04V294.50M656.64 284.46V297.11M658.96 286.90V299.75M661.28 289.38V302.43M663.60 291.89V305.13M665.93 294.44V307.86M668.25 297.15V310.50M670.57 299.90V313.17M672.89 302.68V315.87M675.21 305.50V318.61M677.53 308.35V321.38M679.85 311.25V324.20M682.17 314.18V327.05M684.49 317.15V329.95M686.81 320.17V332.89M689.13 323.23V335.87M691.45 326.33V338.89M693.77 329.48V341.96M696.09 332.68V345.08M698.41 335.92V348.25M700.74 339.22V351.47M703.06 342.57V354.74M705.38 345.98V358.07M707.70 349.44V361.45M710.02 352.96V364.90M712.34 356.51V368.44M714.66 360.12V372.05M716.98 363.80V375.73M719.30 367.55V379.48M721.62 371.37V383.31M723.94 375.27V387.21M726.26 379.26V391.19M728.58 383.33V395.27M730.90 387.50V399.43M733.22 391.76V403.69M735.55 396.12V408.06M737.87 400.60V412.53M740.19 405.19V417.13M742.51 409.91V421.85M744.83 414.77V426.70M747.15 419.77V431.71M749.47 424.92V436.89M751.79 429.32V443.15M754.11 433.92V449.61M756.43 438.74V456.27M758.75 444.11V462.84M761.07 449.68V469.76M763.39 453.82V478.68M765.71 458.32V487.95M768.03 463.21V497.62M770.36 468.12V508.23M772.68 473.14V519.88M775.00 476.50V534.66M777.32 480.81V550.39M779.64 486.42V567.47M781.96 493.65V587.04M784.28 501.47V613.83" stroke="#000" stroke-width="0.5" fill="none"/>
<polyline points="90.40,62.65 92.72,62.66 95.04,62.67 97.36,62.68 99.68,62.70 102.00,62.73 104.32,62.76 106.64,62.80 108.97,62.85 111.29,62.90 113.61,62.96 115.93,63.02 118.25,63.09 120.57,63.17 122.89,63.25 125.21,63.34 127.53,63.43 129.85,63.53 132.17,63.64 134.49,63.75 136.81,63.87 139.13,64.00 141.45,64.13 143.78,64.27 146.10,64.41 148.42,64.56 150.74,64.71 153.06,64.88 155.38,65.04 157.70,65.22 160.02,65.40 162.34,65.59 164.66,65.78 166.98,65.98 169.30,66.18 171.62,66.39 173.94,66.61 176.26,66.83 178.59,67.06 180.91,67.30 183.23,67.54 185.55,67.79 187.87,68.05 190.19,68.31 192.51,68.58 194.83,68.85 197.15,69.13 199.47,69.42 201.79,69.71 204.11,70.01 206.43,70.31 208.75,70.62 211.07,70.94 213.40,71.27 215.72,71.60 218.04,71.93 220.36,72.28 222.68,72.63 225.00,72.98 227.32,73.35 229.64,73.72 231.96,74.09 234.28,74.47 236.60,74.86 238.92,75.26 241.24,75.66 243.56,76.07 245.88,76.48 248.21,76.90 250.53,77.33 252.85,77.77 255.17,78.21 257.49,78.66 259.81,79.11 262.13,79.57 264.45,80.04 266.77,80.51 269.09,80.99 271.41,81.48 273.73,81.98 276.05,82.48 278.37,82.99 280.69,83.50 283.02,84.02 285.34,84.55 287.66,85.09 289.98,85.63 292.30,86.18 294.62,86.73 296.94,87.30 299.26,87.87 301.58,88.45 303.90,89.03 306.22,89.62 308.54,90.22 310.86,90.82 313.18,91.44 315.50,92.06 317.83,92.68 320.15,93.32 322.47,93.96 324.79,94.61 327.11,95.26 329.43,95.93 331.75,96.60 334.07,97.27 336.39,97.96 338.71,98.65 341.03,99.35 343.35,100.06 345.67,100.77 347.99,101.50 350.31,102.23 352.64,102.96 354.96,103.71 357.28,104.46 359.60,105.22 361.92,105.99 364.24,106.77 366.56,107.55 368.88,108.34 371.20,109.14 373.52,109.95 375.84,110.76 378.16,111.59 380.48,112.42 382.80,113.26 385.12,114.11 387.45,114.96 389.77,115.83 392.09,116.70 394.41,117.58 396.73,118.47 399.05,119.36 401.37,120.27 403.69,121.18 406.01,122.11 408.33,123.04 410.65,123.98 412.97,124.93 415.29,125.88 417.61,126.85 419.93,127.82 422.26,128.81 424.58,129.80 426.90,130.80 429.22,131.81 431.54,132.83 433.86,133.86 436.18,134.90 438.50,135.94 440.82,137.00 443.14,138.06 445.46,139.14 447.78,140.22 450.10,141.32 452.42,142.42 454.74,143.54 457.07,144.66 459.39,145.79 461.71,146.94 464.03,148.09 466.35,149.25 468.67,150.42 470.99,151.61 473.31,152.80 475.63,154.01 477.95,155.22 480.27,156.45 482.59,157.68 484.91,158.93 487.23,160.18 489.55,161.45 491.88,162.73 494.20,164.02 496.52,165.32 498.84,166.64 501.16,167.96 503.48,169.29 505.80,170.64 508.12,172.00 510.44,173.37 512.76,174.75 515.08,176.15 517.40,177.55 519.72,178.97 522.04,180.40 524.36,181.85 526.69,183.30 529.01,184.77 531.33,186.25 533.65,187.75 535.97,189.25 538.29,190.78 540.61,192.31 542.93,193.86 545.25,195.42 547.57,196.99 549.89,198.58 552.21,200.19 554.53,201.81 556.85,203.44 559.17,205.09 561.50,206.75 563.82,208.42 566.14,210.12 568.46,211.83 570.78,213.55 573.10,215.29 575.42,217.04 577.74,218.82 580.06,220.60 582.38,222.41 584.70,224.23 587.02,226.07 589.34,227.93 591.66,229.80 593.98,231.69 596.31,233.60 598.63,235.53 600.95,237.48 603.27,239.44 605.59,241.43 607.91,243.44 610.23,245.46 612.55,247.51 614.87,249.57 617.19,251.66 619.51,253.77 621.83,255.90 624.15,258.05 626.47,260.23 628.79,262.43 631.12,264.65 633.44,266.90 635.76,269.17 638.08,271.46 640.40,273.78 642.72,276.13 645.04,278.50 647.36,280.90 649.68,283.33 652.00,285.79 654.32,288.27 656.64,290.79 658.96,293.33 661.28,295.91 663.60,298.51 665.93,301.15 668.25,303.83 670.57,306.53 672.89,309.28 675.21,312.05 677.53,314.87 679.85,317.72 682.17,320.62 684.49,323.55 686.81,326.53 689.13,329.55 691.45,332.61 693.77,335.72 696.09,338.88 698.41,342.09 700.74,345.34 703.06,348.66 705.38,352.02 707.70,355.45 710.02,358.93 712.34,362.47 714.66,366.09 716.98,369.76 719.30,373.51 721.62,377.34 723.94,381.24 726.26,385.23 728.58,389.30 730.90,393.46 733.22,397.73 735.55,402.09 737.87,406.57 740.19,411.16 742.51,415.88 744.83,420.74 747.15,425.74 749.47,430.90 751.79,436.24 754.11,441.77 756.43,447.50 758.75,453.48 761.07,459.72 763.39,466.25 765.71,473.13 768.03,480.42 770.36,488.17 772.68,496.51 775.00,505.58 777.32,515.60 777.34,515.70 777.46,516.23 777.57,516.77 777.69,517.31 777.80,517.85 777.92,518.39 778.03,518.94 778.15,519.49 778.27,520.05 778.38,520.61 778.50,521.17 778.61,521.74 778.73,522.31 778.85,522.88 778.96,523.46 779.08,524.05 779.19,524.64 779.31,525.23 779.42,525.83 779.54,526.43 779.66,527.04 779.77,527.65 779.89,528.26 780.00,528.89 780.12,529.51 780.23,530.15 780.35,530.79 780.47,531.43 780.58,532.08 780.70,532.74 780.81,533.40 780.93,534.07 781.04,534.75 781.16,535.43 781.28,536.12 781.39,536.82 781.51,537.52 781.62,538.23 781.74,538.95 781.85,539.68 781.97,540.42 782.09,541.17 782.20,541.92 782.32,542.69 782.43,543.46 782.55,544.25 782.66,545.05 782.78,545.86 782.90,546.68 783.01,547.51 783.13,548.35 783.24,549.21 783.36,550.09 783.47,550.98 783.59,551.88 783.71,552.80 783.82,553.74 783.94,554.70 784.05,555.68 784.17,556.68 784.29,557.70 784.40,558.75 784.52,559.82 784.63,560.92 784.75,562.05 784.86,563.22 784.98,564.43 785.10,565.67 785.21,566.97 785.33,568.31 785.44,569.71 785.56,571.18 785.67,572.73 785.79,574.38 785.91,576.13 786.02,578.03 786.14,580.11 786.25,582.45 786.37,585.18 786.48,588.64 786.60,594.71" stroke="#000" stroke-width="1.85" fill="none" stroke-linejoin="round"/>
<path d="M92.72 126.64V136.78M95.04 126.65V136.79M97.36 126.66V136.79M99.68 126.67V136.81M102.00 126.69V136.82M104.32 126.71V136.84M106.64 126.74V136.87M108.97 126.77V136.89M111.29 126.80V136.92M113.61 126.84V136.96M115.93 126.88V137.00M118.25 126.93V137.04M120.57 126.98V137.09M122.89 127.03V137.14M125.21 127.09V137.19M127.53 127.15V137.25M129.85 127.22V137.31M132.17 127.28V137.38M134.49 127.36V137.45M136.81 127.43V137.52M139.13 127.51V137.60M141.45 127.60V137.68M143.78 127.68V137.77M146.10 127.78V137.86M148.42 127.87V137.95M150.74 127.97V138.05M153.06 128.08V138.15M155.38 128.18V138.25M157.70 128.29V138.36M160.02 128.41V138.47M162.34 128.53V138.59M164.66 128.65V138.71M166.98 128.78V138.83M169.30 128.91V138.96M171.62 129.04V139.09M173.94 129.18V139.23M176.26 129.32V139.37M178.59 129.47V139.51M180.91 129.62V139.66M183.23 129.77V139.81M185.55 129.93V139.97M187.87 130.09V140.13M190.19 130.26V140.29M192.51 130.43V140.46M194.83 130.60V140.63M197.15 130.78V140.80M199.47 130.96V140.98M201.79 131.15V141.17M204.11 131.34V141.35M206.43 131.53V141.55M208.75 131.73V141.74M211.07 131.93V141.94M213.40 132.14V142.14M215.72 132.35V142.35M218.04 132.56V142.56M220.36 132.78V142.78M222.68 133.00V143.00M225.00 133.23V143.22M227.32 133.46V143.45M229.64 133.69V143.68M231.96 133.93V143.91M234.28 134.17V144.15M236.60 134.42V144.40M238.92 134.67V144.64M241.24 134.92V144.90M243.56 135.18V145.15M245.88 135.45V145.41M248.21 135.71V145.68M250.53 135.98V145.94M252.85 136.26V146.22M255.17 136.54V146.49M257.49 136.82V146.77M259.81 137.11V147.06M262.13 137.40V147.35M264.45 137.70V147.64M266.77 138.01V147.93M269.09 138.32V148.22M271.41 138.64V148.52M273.73 138.96V148.82M276.05 139.28V149.13M278.37 139.61V149.44M280.69 139.95V149.75M283.02 140.29V150.07M285.34 140.63V150.40M287.66 140.98V150.72M289.98 141.33V151.05M292.30 141.68V151.39M294.62 142.04V151.73M296.94 142.41V152.08M299.26 142.78V152.42M301.58 143.15V152.78M303.90 143.53V153.14M306.22 143.91V153.50M308.54 144.30V153.86M310.86 144.69V154.24M313.18 145.08V154.61M315.50 145.48V154.99M317.83 145.89V155.38M320.15 146.30V155.76M322.47 146.71V156.16M324.79 147.13V156.56M327.11 147.55V156.96M329.43 147.98V157.37M331.75 148.41V157.78M334.07 148.85V158.19M336.39 149.29V158.61M338.71 149.73V159.04M341.03 150.18V159.47M343.35 150.64V159.91M345.67 151.10V160.35M347.99 151.56V160.79M350.31 152.03V161.24M352.64 152.50V161.69M354.96 152.98V162.15M357.28 153.47V162.61M359.60 153.95V163.08M361.92 154.45V163.56M364.24 154.94V164.03M366.56 155.45V164.52M368.88 155.95V165.00M371.20 156.47V165.50M373.52 156.98V165.99M375.84 157.51V166.50M378.16 158.03V167.00M380.48 158.57V167.52M382.80 159.10V168.03M385.12 159.64V168.56M387.45 160.19V169.08M389.77 160.74V169.62M392.09 161.30V170.15M394.41 161.86V170.70M396.73 162.43V171.24M399.05 163.01V171.80M401.37 163.58V172.36M403.69 164.17V172.92M406.01 164.76V173.49M408.33 165.35V174.06M410.65 165.95V174.64M412.97 166.56V175.23M415.29 167.17V175.82M417.61 167.78V176.41M419.93 168.40V177.02M422.26 169.03V177.62M424.58 169.66V178.23M426.90 170.30V178.85M429.22 170.94V179.48M431.54 171.59V180.11M433.86 172.25V180.74M436.18 172.91V181.38M438.50 173.57V182.03M440.82 174.24V182.68M443.14 174.91V183.35M445.46 175.59V184.01M447.78 176.28V184.69M450.10 176.97V185.37M452.42 177.67V186.05M454.74 178.37V186.74M457.07 179.08V187.44M459.39 179.79V188.15M461.71 180.51V188.86M464.03 181.24V189.57M466.35 181.97V190.30M468.67 182.71V191.02M470.99 183.46V191.76M473.31 184.21V192.50M475.63 184.97V193.25M477.95 185.74V194.00M480.27 186.51V194.76M482.59 187.29V195.53M484.91 188.07V196.30M487.23 188.86V197.08M489.55 189.66V197.87M491.88 190.46V198.66M494.20 191.28V199.46M496.52 192.09V200.27M498.84 192.92V201.09M501.16 193.75V201.91M503.48 194.59V202.74M505.80 195.44V203.57M508.12 196.29V204.41M510.44 197.15V205.26M512.76 198.02V206.12M515.08 198.90V206.99M517.40 199.78V207.86M519.72 200.67V208.74M522.04 201.57V209.62M524.36 202.47V210.52M526.69 203.39V211.42M529.01 204.31V212.33M531.33 205.24V213.25M533.65 206.17V214.17M535.97 207.12V215.11M538.29 208.07V216.05M540.61 209.03V217.00M542.93 210.00V217.96M545.25 210.97V218.93M547.57 211.95V219.91M549.89 212.94V220.90M552.21 213.94V221.90M554.53 214.95V222.90M556.85 215.96V223.92M559.17 216.99V224.94M561.50 218.02V225.97M563.82 219.06V227.02M566.14 220.11V228.07M568.46 221.17V229.13M570.78 222.24V230.20M573.10 223.32V231.28M575.42 224.41V232.37M577.74 225.51V233.47M580.06 226.62V234.58M582.38 227.74V235.70M584.70 228.87V236.83M587.02 230.01V237.97M589.34 231.16V239.12M591.66 232.32V240.28M593.98 233.49V241.45M596.31 234.68V242.63M598.63 235.87V243.83M600.95 237.08V245.03M603.27 238.29V246.25M605.59 239.52V247.48M607.91 240.76V248.72M610.23 242.01V249.97M612.55 243.28V251.23M614.87 244.51V252.56M617.19 245.74V253.90M619.51 247.00V255.25M621.83 248.26V256.62M624.15 249.54V257.99M626.47 250.83V259.39M628.79 252.14V260.79M631.12 253.46V262.21M633.44 254.79V263.64M635.76 256.14V265.09M638.08 257.50V266.55M640.40 258.88V268.03M642.72 260.27V269.52M645.04 261.68V271.03M647.36 263.11V272.56M649.68 264.55V269.51M652.00 266.01V271.09M654.32 267.48V272.69M656.64 268.97V274.31M658.96 270.48V275.94M661.28 272.01V277.59M663.60 273.56V279.26M665.93 275.12V280.95M668.25 276.71V282.66M670.57 278.31V284.38M672.89 279.94V286.13M675.21 281.59V287.90M677.53 283.26V289.68M679.85 284.95V291.49M682.17 286.66V293.33M684.49 288.51V295.28M686.81 290.38V297.25M689.13 292.27V299.25M691.45 294.20V301.28M693.77 296.14V303.33M696.09 298.12V305.40M698.41 300.12V307.51M700.74 302.15V309.64M703.06 304.22V311.79M705.38 306.31V313.98M707.70 308.44V316.20M710.02 310.60V318.45M712.34 312.80V320.73M714.66 315.03V323.05M716.98 317.31V325.40M719.30 319.62V327.78M721.62 321.97V330.21M723.94 324.37V332.67M726.26 326.82V335.18M728.58 329.31V337.73M730.90 331.86V340.31M733.22 334.31V342.60M735.55 336.83V344.93M737.87 339.40V347.31M740.19 342.04V349.75M742.51 344.75V352.25M744.83 347.54V354.81M747.15 350.40V357.43M749.47 353.35V360.13M751.79 356.40V362.91M754.11 358.90V365.17M756.43 361.51V367.51M758.75 364.24V369.96M761.07 367.12V372.51M763.39 370.15V375.18M765.71 373.36V377.98M768.03 376.55V380.69M770.36 379.04V382.55M772.68 381.82V384.60M775.00 384.96V386.87" stroke="#000" stroke-width="0.5" fill="none"/>
<polyline points="90.40,131.71 92.72,131.71 95.04,131.72 97.36,131.73 99.68,131.74 102.00,131.76 104.32,131.78 106.64,131.80 108.97,131.83 111.29,131.86 113.61,131.90 115.93,131.94 118.25,131.99 120.57,132.03 122.89,132.09 125.21,132.14 127.53,132.20 129.85,132.26 132.17,132.33 134.49,132.40 136.81,132.48 139.13,132.56 141.45,132.64 143.78,132.73 146.10,132.82 148.42,132.91 150.74,133.01 153.06,133.11 155.38,133.22 157.70,133.33 160.02,133.44 162.34,133.56 164.66,133.68 166.98,133.81 169.30,133.93 171.62,134.07 173.94,134.21 176.26,134.35 178.59,134.49 180.91,134.64 183.23,134.79 185.55,134.95 187.87,135.11 190.19,135.28 192.51,135.44 194.83,135.62 197.15,135.79 199.47,135.97 201.79,136.16 204.11,136.35 206.43,136.54 208.75,136.74 211.07,136.94 213.40,137.14 215.72,137.35 218.04,137.56 220.36,137.78 222.68,138.00 225.00,138.22 227.32,138.45 229.64,138.69 231.96,138.92 234.28,139.16 236.60,139.41 238.92,139.66 241.24,139.91 243.56,140.17 245.88,140.43 248.21,140.69 250.53,140.96 252.85,141.24 255.17,141.52 257.49,141.80 259.81,142.08 262.13,142.38 264.45,142.67 266.77,142.97 269.09,143.27 271.41,143.58 273.73,143.89 276.05,144.21 278.37,144.53 280.69,144.85 283.02,145.18 285.34,145.51 287.66,145.85 289.98,146.19 292.30,146.54 294.62,146.89 296.94,147.24 299.26,147.60 301.58,147.96 303.90,148.33 306.22,148.70 308.54,149.08 310.86,149.46 313.18,149.85 315.50,150.24 317.83,150.63 320.15,151.03 322.47,151.43 324.79,151.84 327.11,152.25 329.43,152.67 331.75,153.09 334.07,153.52 336.39,153.95 338.71,154.39 341.03,154.83 343.35,155.27 345.67,155.72 347.99,156.18 350.31,156.63 352.64,157.10 354.96,157.57 357.28,158.04 359.60,158.52 361.92,159.00 364.24,159.49 366.56,159.98 368.88,160.48 371.20,160.98 373.52,161.49 375.84,162.00 378.16,162.52 380.48,163.04 382.80,163.57 385.12,164.10 387.45,164.64 389.77,165.18 392.09,165.73 394.41,166.28 396.73,166.84 399.05,167.40 401.37,167.97 403.69,168.54 406.01,169.12 408.33,169.71 410.65,170.30 412.97,170.89 415.29,171.49 417.61,172.10 419.93,172.71 422.26,173.33 424.58,173.95 426.90,174.58 429.22,175.21 431.54,175.85 433.86,176.49 436.18,177.14 438.50,177.80 440.82,178.46 443.14,179.13 445.46,179.80 447.78,180.48 450.10,181.17 452.42,181.86 454.74,182.56 457.07,183.26 459.39,183.97 461.71,184.69 464.03,185.41 466.35,186.13 468.67,186.87 470.99,187.61 473.31,188.36 475.63,189.11 477.95,189.87 480.27,190.63 482.59,191.41 484.91,192.19 487.23,192.97 489.55,193.77 491.88,194.56 494.20,195.37 496.52,196.18 498.84,197.00 501.16,197.83 503.48,198.66 505.80,199.50 508.12,200.35 510.44,201.21 512.76,202.07 515.08,202.94 517.40,203.82 519.72,204.70 522.04,205.60 524.36,206.50 526.69,207.40 529.01,208.32 531.33,209.24 533.65,210.17 535.97,211.11 538.29,212.06 540.61,213.01 542.93,213.98 545.25,214.95 547.57,215.93 549.89,216.92 552.21,217.92 554.53,218.92 556.85,219.94 559.17,220.96 561.50,222.00 563.82,223.04 566.14,224.09 568.46,225.15 570.78,226.22 573.10,227.30 575.42,228.39 577.74,229.49 580.06,230.60 582.38,231.72 584.70,232.85 587.02,233.99 589.34,235.14 591.66,236.30 593.98,237.47 596.31,238.66 598.63,239.85 600.95,241.05 603.27,242.27 605.59,243.50 607.91,244.74 610.23,245.99 612.55,247.26 614.87,248.53 617.19,249.82 619.51,251.12 621.83,252.44 624.15,253.77 626.47,255.11 628.79,256.46 631.12,257.83 633.44,259.22 635.76,260.61 638.08,262.03 640.40,263.45 642.72,264.90 645.04,266.36 647.36,267.83 649.68,269.32 652.00,270.83 654.32,272.35 656.64,273.90 658.96,275.46 661.28,277.03 663.60,278.63 665.93,280.25 668.25,281.88 670.57,283.54 672.89,285.21 675.21,286.91 677.53,288.63 679.85,290.37 682.17,292.13 684.49,293.92 686.81,295.73 689.13,297.57 691.45,299.43 693.77,301.32 696.09,303.23 698.41,305.18 700.74,307.15 703.06,309.16 705.38,311.19 707.70,313.26 710.02,315.36 712.34,317.50 714.66,319.68 716.98,321.89 719.30,324.14 721.62,326.44 723.94,328.78 726.26,331.16 728.58,333.60 730.90,336.08 733.22,338.62 735.55,341.22 737.87,343.88 740.19,346.60 742.51,349.39 744.83,352.26 747.15,355.21 749.47,358.24 751.79,361.37 754.11,364.60 756.43,367.94 758.75,371.41 761.07,375.01 763.39,378.77 765.71,382.71 768.03,386.85 770.36,391.24 772.68,395.91 775.00,400.94 777.32,406.43 777.34,406.49 777.46,406.78 777.57,407.07 777.69,407.36 777.80,407.65 777.92,407.94 778.03,408.24 778.15,408.54 778.27,408.84 778.38,409.14 778.50,409.44 778.61,409.75 778.73,410.06 778.85,410.36 778.96,410.67 779.08,410.99 779.19,411.30 779.31,411.62 779.42,411.94 779.54,412.26 779.66,412.58 779.77,412.91 779.89,413.23 780.00,413.56 780.12,413.90 780.23,414.23 780.35,414.57 780.47,414.91 780.58,415.25 780.70,415.60 780.81,415.94 780.93,416.29 781.04,416.65 781.16,417.00 781.28,417.36 781.39,417.72 781.51,418.09 781.62,418.46 781.74,418.83 781.85,419.21 781.97,419.59 782.09,419.97 782.20,420.36 782.32,420.75 782.43,421.14 782.55,421.54 782.66,421.95 782.78,422.36 782.90,422.77 783.01,423.19 783.13,423.61 783.24,424.04 783.36,424.48 783.47,424.92 783.59,425.36 783.71,425.81 783.82,426.27 783.94,426.74 784.05,427.22 784.17,427.70 784.29,428.19 784.40,428.69 784.52,429.19 784.63,429.71 784.75,430.24 784.86,430.78 784.98,431.34 785.10,431.90 785.21,432.48 785.33,433.08 785.44,433.69 785.56,434.32 785.67,434.98 785.79,435.65 785.91,436.36 786.02,437.09 786.14,437.86 786.25,438.66 786.37,439.50 786.48,440.33 786.60,436.34" stroke="#000" stroke-width="1.85" fill="none" stroke-linejoin="round"/>
<path d="M92.72 178.97V190.49M95.04 178.97V190.49M97.36 178.98V190.49M99.68 178.99V190.49M102.00 179.00V190.50M104.32 179.01V190.50M106.64 179.03V190.51M108.97 179.05V190.52M111.29 179.06V190.53M113.61 179.08V190.54M115.93 179.11V190.55M118.25 179.13V190.57M120.57 179.15V190.59M122.89 179.18V190.61M125.21 179.21V190.63M127.53 179.24V190.65M129.85 179.27V190.67M132.17 179.30V190.70M134.49 179.34V190.72M136.81 179.38V190.75M139.13 179.41V190.78M141.45 179.45V190.82M143.78 179.50V190.85M146.10 179.54V190.88M148.42 179.58V190.92M150.74 179.63V190.96M153.06 179.68V191.00M155.38 179.73V191.04M157.70 179.78V191.09M160.02 179.84V191.13M162.34 179.89V191.18M164.66 179.95V191.23M166.98 180.01V191.28M169.30 180.07V191.33M171.62 180.13V191.39M173.94 180.20V191.44M176.26 180.26V191.50M178.59 180.33V191.56M180.91 180.40V191.62M183.23 180.47V191.69M185.55 180.54V191.75M187.87 180.62V191.82M190.19 180.69V191.89M192.51 180.77V191.96M194.83 180.85V192.03M197.15 180.93V192.10M199.47 181.01V192.18M201.79 181.10V192.25M204.11 181.19V192.33M206.43 181.28V192.41M208.75 181.37V192.50M211.07 181.46V192.58M213.40 181.55V192.67M215.72 181.65V192.75M218.04 181.75V192.84M220.36 181.84V192.94M222.68 181.95V193.03M225.00 182.05V193.12M227.32 182.15V193.22M229.64 182.26V193.32M231.96 182.37V193.42M234.28 182.48V193.52M236.60 182.59V193.63M238.92 182.70V193.73M241.24 182.82V193.84M243.56 182.94V193.95M245.88 183.06V194.06M248.21 183.18V194.17M250.53 183.30V194.29M252.85 183.43V194.41M255.17 183.55V194.53M257.49 183.68V194.65M259.81 183.81V194.77M262.13 183.95V194.90M264.45 184.08V195.02M266.77 184.23V195.13M269.09 184.39V195.25M271.41 184.55V195.37M273.73 184.70V195.48M276.05 184.86V195.61M278.37 185.03V195.73M280.69 185.19V195.85M283.02 185.36V195.98M285.34 185.53V196.11M287.66 185.70V196.24M289.98 185.87V196.37M292.30 186.04V196.50M294.62 186.22V196.64M296.94 186.40V196.78M299.26 186.58V196.92M301.58 186.76V197.06M303.90 186.94V197.21M306.22 187.13V197.35M308.54 187.32V197.50M310.86 187.51V197.65M313.18 187.70V197.81M315.50 187.90V197.96M317.83 188.10V198.12M320.15 188.29V198.28M322.47 188.50V198.44M324.79 188.70V198.60M327.11 188.90V198.77M329.43 189.11V198.94M331.75 189.32V199.11M334.07 189.54V199.28M336.39 189.75V199.46M338.71 189.97V199.63M341.03 190.19V199.81M343.35 190.41V199.99M345.67 190.63V200.18M347.99 190.86V200.36M350.31 191.08V200.55M352.64 191.31V200.74M354.96 191.55V200.93M357.28 191.78V201.13M359.60 192.02V201.33M361.92 192.26V201.53M364.24 192.50V201.73M366.56 192.75V201.93M368.88 192.99V202.14M371.20 193.24V202.35M373.52 193.49V202.56M375.84 193.75V202.78M378.16 194.00V203.00M380.48 194.26V203.21M382.80 194.53V203.44M385.12 194.79V203.66M387.45 195.06V203.89M389.77 195.33V204.12M392.09 195.60V204.35M394.41 195.87V204.58M396.73 196.15V204.82M399.05 196.43V205.06M401.37 196.71V205.31M403.69 197.00V205.55M406.01 197.29V205.80M408.33 197.58V206.05M410.65 197.87V206.30M412.97 198.17V206.56M415.29 198.47V206.82M417.61 198.77V207.08M419.93 199.07V207.35M422.26 199.38V207.61M424.58 199.69V207.88M426.90 200.00V208.16M429.22 200.32V208.43M431.54 200.64V208.71M433.86 200.96V209.00M436.18 201.29V209.28M438.50 201.61V209.57M440.82 201.94V209.87M443.14 202.26V210.17M445.46 202.59V210.48M447.78 202.92V210.79M450.10 203.26V211.10M452.42 203.60V211.42M454.74 203.94V211.74M457.07 204.28V212.06M459.39 204.63V212.39M461.71 204.98V212.72M464.03 205.34V213.05M466.35 205.70V213.39M468.67 206.06V213.73M470.99 206.42V214.07M473.31 206.79V214.42M475.63 207.16V214.77M477.95 207.54V215.12M480.27 207.92V215.48M482.59 208.30V215.84M484.91 208.69V216.20M487.23 209.08V216.57M489.55 209.47V216.94M491.88 209.87V217.32M494.20 210.27V217.70M496.52 210.68V218.08M498.84 211.09V218.47M501.16 211.50V218.86M503.48 211.92V219.26M505.80 212.34V219.66M508.12 212.77V220.06M510.44 213.20V220.47M512.76 213.64V220.89M515.08 214.08V221.30M517.40 214.52V221.72M519.72 214.97V222.15M522.04 215.42V222.58M524.36 215.88V223.02M526.69 216.34V223.46M529.01 216.81V223.90M531.33 217.28V224.35M533.65 217.75V224.80M535.97 218.23V225.26M538.29 218.72V225.73M540.61 219.21V226.19M542.93 219.71V226.67M545.25 220.34V227.02M547.57 220.98V227.37M549.89 221.62V227.73M552.21 222.27V228.09M554.53 222.92V228.46M556.85 223.58V228.84M559.17 224.25V229.22M561.50 224.92V229.60M563.82 225.59V230.00M566.14 226.28V230.40M568.46 226.96V230.80M570.78 227.66V231.21M573.10 228.36V231.63M575.42 229.07V232.05M577.74 229.78V232.48M580.06 230.50V232.92M582.38 231.23V233.36M584.70 231.96V233.81M587.02 232.70V234.27M589.34 233.45V234.73M591.66 234.21V235.20M593.98 234.83V235.81M596.31 235.47V236.43M598.63 236.11V237.06M600.95 236.76V237.70M603.27 237.42V238.34M605.59 238.09V238.99M607.91 238.76V239.65M610.23 239.45V240.32M612.55 240.14V241.00M614.87 240.84V241.68M617.19 241.55V242.38M619.51 242.27V243.08M621.83 243.00V243.80M624.15 243.74V244.52M626.47 244.49V245.25M628.79 245.24V246.00M631.12 246.01V246.75M633.44 246.79V247.52M635.76 247.58V248.29M638.08 248.38V249.08M640.40 249.20V249.88M642.72 250.02V250.68M645.04 250.86V251.51M647.36 251.71V252.34M649.68 252.57V253.19M652.00 253.44V254.05M654.32 254.33V254.92M656.64 255.23V255.81M658.96 256.15V256.71M661.28 257.08V257.63M663.60 258.03V258.56M665.93 258.99V259.50M668.25 259.97V260.47M670.57 260.78V261.63M672.89 261.60V262.82M675.21 262.45V264.02M677.53 263.31V265.24M679.85 264.19V266.48M682.17 265.09V267.74M684.49 266.01V269.02M686.81 266.95V270.32M689.13 267.92V271.65M691.45 268.90V272.99M693.77 269.92V274.36M696.09 270.95V275.76M698.41 272.02V277.18M700.74 273.11V278.63M703.06 274.23V280.11M705.38 275.38V281.62M707.70 276.56V283.16M710.02 277.77V284.73M712.34 279.03V286.33M714.66 280.33V287.96M716.98 281.67V289.63M719.30 283.05V291.34M721.62 284.47V293.09M723.94 285.94V294.89M726.26 287.46V296.74M728.58 289.03V298.65M730.90 290.66V300.61M733.22 292.35V302.62M735.55 294.10V304.71M737.87 295.92V306.86M740.19 297.82V309.09M742.51 299.80V311.40M744.83 301.87V313.80M747.15 304.02V316.31M749.47 306.29V318.94M751.79 308.67V321.68M754.11 311.19V324.56M756.43 313.86V327.59M758.75 316.71V330.79M761.07 319.76V334.20M763.39 323.03V337.83M765.71 326.58V341.74M768.03 330.46V345.98M770.36 334.75V350.62M772.68 339.33V355.99M775.00 344.56V362.04M777.32 350.71V369.02M779.64 358.23V377.38M781.96 367.88V388.24M784.28 380.77V405.87" stroke="#000" stroke-width="0.5" fill="none"/>
<polyline points="90.40,184.73 92.72,184.73 95.04,184.73 97.36,184.74 99.68,184.74 102.00,184.75 104.32,184.76 106.64,184.77 108.97,184.78 111.29,184.80 113.61,184.81 115.93,184.83 118.25,184.85 120.57,184.87 122.89,184.89 125.21,184.92 127.53,184.94 129.85,184.97 132.17,185.00 134.49,185.03 136.81,185.06 139.13,185.10 141.45,185.13 143.78,185.17 146.10,185.21 148.42,185.25 150.74,185.30 153.06,185.34 155.38,185.39 157.70,185.44 160.02,185.49 162.34,185.54 164.66,185.59 166.98,185.64 169.30,185.70 171.62,185.76 173.94,185.82 176.26,185.88 178.59,185.95 180.91,186.01 183.23,186.08 185.55,186.15 187.87,186.22 190.19,186.29 192.51,186.36 194.83,186.44 197.15,186.52 199.47,186.60 201.79,186.68 204.11,186.76 206.43,186.84 208.75,186.93 211.07,187.02 213.40,187.11 215.72,187.20 218.04,187.29 220.36,187.39 222.68,187.49 225.00,187.59 227.32,187.69 229.64,187.79 231.96,187.89 234.28,188.00 236.60,188.11 238.92,188.22 241.24,188.33 243.56,188.44 245.88,188.56 248.21,188.68 250.53,188.80 252.85,188.92 255.17,189.04 257.49,189.17 259.81,189.29 262.13,189.42 264.45,189.55 266.77,189.68 269.09,189.82 271.41,189.96 273.73,190.09 276.05,190.23 278.37,190.38 280.69,190.52 283.02,190.67 285.34,190.82 287.66,190.97 289.98,191.12 292.30,191.27 294.62,191.43 296.94,191.59 299.26,191.75 301.58,191.91 303.90,192.08 306.22,192.24 308.54,192.41 310.86,192.58 313.18,192.76 315.50,192.93 317.83,193.11 320.15,193.29 322.47,193.47 324.79,193.65 327.11,193.84 329.43,194.03 331.75,194.22 334.07,194.41 336.39,194.60 338.71,194.80 341.03,195.00 343.35,195.20 345.67,195.40 347.99,195.61 350.31,195.82 352.64,196.03 354.96,196.24 357.28,196.46 359.60,196.67 361.92,196.89 364.24,197.12 366.56,197.34 368.88,197.57 371.20,197.80 373.52,198.03 375.84,198.26 378.16,198.50 380.48,198.74 382.80,198.98 385.12,199.23 387.45,199.47 389.77,199.72 392.09,199.97 394.41,200.23 396.73,200.49 399.05,200.75 401.37,201.01 403.69,201.27 406.01,201.54 408.33,201.81 410.65,202.09 412.97,202.36 415.29,202.64 417.61,202.92 419.93,203.21 422.26,203.50 424.58,203.79 426.90,204.08 429.22,204.38 431.54,204.68 433.86,204.98 436.18,205.28 438.50,205.59 440.82,205.90 443.14,206.22 445.46,206.54 447.78,206.86 450.10,207.18 452.42,207.51 454.74,207.84 457.07,208.17 459.39,208.51 461.71,208.85 464.03,209.19 466.35,209.54 468.67,209.89 470.99,210.25 473.31,210.60 475.63,210.96 477.95,211.33 480.27,211.70 482.59,212.07 484.91,212.45 487.23,212.83 489.55,213.21 491.88,213.60 494.20,213.99 496.52,214.38 498.84,214.78 501.16,215.18 503.48,215.59 505.80,216.00 508.12,216.42 510.44,216.84 512.76,217.26 515.08,217.69 517.40,218.12 519.72,218.56 522.04,219.00 524.36,219.45 526.69,219.90 529.01,220.35 531.33,220.81 533.65,221.28 535.97,221.75 538.29,222.22 540.61,222.70 542.93,223.19 545.25,223.68 547.57,224.17 549.89,224.67 552.21,225.18 554.53,225.69 556.85,226.21 559.17,226.73 561.50,227.26 563.82,227.80 566.14,228.34 568.46,228.88 570.78,229.43 573.10,229.99 575.42,230.56 577.74,231.13 580.06,231.71 582.38,232.29 584.70,232.89 587.02,233.48 589.34,234.09 591.66,234.70 593.98,235.32 596.31,235.95 598.63,236.59 600.95,237.23 603.27,237.88 605.59,238.54 607.91,239.21 610.23,239.88 612.55,240.57 614.87,241.26 617.19,241.97 619.51,242.68 621.83,243.40 624.15,244.13 626.47,244.87 628.79,245.62 631.12,246.38 633.44,247.15 635.76,247.94 638.08,248.73 640.40,249.54 642.72,250.35 645.04,251.18 647.36,252.02 649.68,252.88 652.00,253.75 654.32,254.63 656.64,255.52 658.96,256.43 661.28,257.35 663.60,258.29 665.93,259.25 668.25,260.22 670.57,261.21 672.89,262.21 675.21,263.23 677.53,264.27 679.85,265.33 682.17,266.41 684.49,267.51 686.81,268.64 689.13,269.78 691.45,270.95 693.77,272.14 696.09,273.36 698.41,274.60 700.74,275.87 703.06,277.17 705.38,278.50 707.70,279.86 710.02,281.25 712.34,282.68 714.66,284.15 716.98,285.65 719.30,287.20 721.62,288.78 723.94,290.42 726.26,292.10 728.58,293.84 730.90,295.63 733.22,297.49 735.55,299.40 737.87,301.39 740.19,303.45 742.51,305.60 744.83,307.83 747.15,310.17 749.47,312.61 751.79,315.18 754.11,317.87 756.43,320.73 758.75,323.75 761.07,326.98 763.39,330.43 765.71,334.16 768.03,338.22 770.36,342.69 772.68,347.66 775.00,353.30 777.32,359.87 777.34,359.94 777.46,360.30 777.57,360.66 777.69,361.03 777.80,361.39 777.92,361.77 778.03,362.14 778.15,362.53 778.27,362.91 778.38,363.30 778.50,363.69 778.61,364.09 778.73,364.49 778.85,364.90 778.96,365.31 779.08,365.72 779.19,366.14 779.31,366.57 779.42,367.00 779.54,367.43 779.66,367.87 779.77,368.32 779.89,368.77 780.00,369.23 780.12,369.69 780.23,370.16 780.35,370.64 780.47,371.12 780.58,371.61 780.70,372.11 780.81,372.61 780.93,373.12 781.04,373.64 781.16,374.17 781.28,374.71 781.39,375.25 781.51,375.80 781.62,376.37 781.74,376.94 781.85,377.52 781.97,378.12 782.09,378.73 782.20,379.34 782.32,379.97 782.43,380.61 782.55,381.27 782.66,381.94 782.78,382.62 782.90,383.33 783.01,384.04 783.13,384.78 783.24,385.53 783.36,386.30 783.47,387.10 783.59,387.91 783.71,388.75 783.82,389.62 783.94,390.51 784.05,391.43 784.17,392.38 784.29,393.37 784.40,394.40 784.52,395.46 784.63,396.57 784.75,397.73 784.86,398.95 784.98,400.23 785.10,401.58 785.21,403.01 785.33,404.53 785.44,406.15 785.56,407.91 785.67,409.81 785.79,411.90 785.91,414.23 786.02,416.87 786.14,419.93 786.25,423.64 786.37,428.42 786.48,435.54 786.60,472.88" stroke="#000" stroke-width="1.85" fill="none" stroke-linejoin="round"/>
<path d="M92.72 83.54V94.48M95.04 83.54V94.49M97.36 83.55V94.51M99.68 83.56V94.53M102.00 83.58V94.56M104.32 83.61V94.59M106.64 83.64V94.62M108.97 83.67V94.66M111.29 83.71V94.71M113.61 83.75V94.76M115.93 83.80V94.82M118.25 83.86V94.88M120.57 83.92V94.94M122.89 83.98V95.01M125.21 84.05V95.09M127.53 84.12V95.17M129.85 84.20V95.26M132.17 84.29V95.35M134.49 84.38V95.44M136.81 84.47V95.54M139.13 84.57V95.65M141.45 84.67V95.76M143.78 84.78V95.88M146.10 84.90V96.00M148.42 85.02V96.12M150.74 85.14V96.25M153.06 85.27V96.39M155.38 85.41V96.53M157.70 85.54V96.68M160.02 85.69V96.83M162.34 85.84V96.98M164.66 85.99V97.15M166.98 86.15V97.31M169.30 86.32V97.48M171.62 86.49V97.66M173.94 86.66V97.84M176.26 86.84V98.03M178.59 87.03V98.22M180.91 87.22V98.42M183.23 87.41V98.62M185.55 87.62V98.83M187.87 87.82V99.04M190.19 88.03V99.26M192.51 88.25V99.48M194.83 88.47V99.71M197.15 88.70V99.94M199.47 88.93V100.18M201.79 89.16V100.42M204.11 89.41V100.67M206.43 89.65V100.93M208.75 89.91V101.18M211.07 90.16V101.45M213.40 90.43V101.72M215.72 90.70V101.99M218.04 90.97V102.27M220.36 91.25V102.56M222.68 91.53V102.85M225.00 91.82V103.15M227.32 92.12V103.45M229.64 92.42V103.75M231.96 92.72V104.07M234.28 93.03V104.38M236.60 93.35V104.71M238.92 93.67V105.03M241.24 94.00V105.37M243.56 94.33V105.71M245.88 94.67V106.05M248.21 95.01V106.40M250.53 95.36V106.75M252.85 95.71V107.11M255.17 96.07V107.48M257.49 96.44V107.85M259.81 96.81V108.23M262.13 97.18V108.61M264.45 97.56V109.00M266.77 97.97V109.37M269.09 98.39V109.75M271.41 98.81V110.13M273.73 99.24V110.51M276.05 99.67V110.91M278.37 100.11V111.31M280.69 100.55V111.71M283.02 101.00V112.12M285.34 101.46V112.53M287.66 101.92V112.96M289.98 102.38V113.38M292.30 102.86V113.81M294.62 103.33V114.25M296.94 103.82V114.70M299.26 104.31V115.15M301.58 104.80V115.60M303.90 105.30V116.06M306.22 105.81V116.53M308.54 106.32V117.00M310.86 106.84V117.48M313.18 107.37V117.97M315.50 107.90V118.46M317.83 108.43V118.96M320.15 108.98V119.46M322.47 109.53V119.97M324.79 110.08V120.48M327.11 110.64V121.00M329.43 111.21V121.53M331.75 111.78V122.06M334.07 112.36V122.60M336.39 112.95V123.15M338.71 113.54V123.70M341.03 114.14V124.26M343.35 114.74V124.82M345.67 115.35V125.39M347.99 115.97V125.97M350.31 116.59V126.55M352.64 117.22V127.14M354.96 117.85V127.74M357.28 118.50V128.34M359.60 119.15V128.95M361.92 119.80V129.57M364.24 120.46V130.19M366.56 121.13V130.82M368.88 121.81V131.45M371.20 122.49V132.09M373.52 123.18V132.74M375.84 123.87V133.40M378.16 124.57V134.06M380.48 125.28V134.73M382.80 126.00V135.40M385.12 126.72V136.09M387.45 127.45V136.78M389.77 128.18V137.47M392.09 128.93V138.17M394.41 129.68V138.88M396.73 130.43V139.60M399.05 131.20V140.33M401.37 131.97V141.06M403.69 132.75V141.80M406.01 133.53V142.54M408.33 134.32V143.29M410.65 135.12V144.06M412.97 135.93V144.82M415.29 136.75V145.60M417.61 137.57V146.38M419.93 138.40V147.17M422.26 139.24V147.97M424.58 140.08V148.77M426.90 140.93V149.59M429.22 141.79V150.41M431.54 142.66V151.23M433.86 143.54V152.07M436.18 144.42V152.91M438.50 145.31V153.77M440.82 146.19V154.65M443.14 147.08V155.53M445.46 147.98V156.43M447.78 148.88V157.33M450.10 149.79V158.25M452.42 150.71V159.17M454.74 151.64V160.09M457.07 152.58V161.03M459.39 153.52V161.98M461.71 154.48V162.93M464.03 155.44V163.89M466.35 156.41V164.87M468.67 157.39V165.85M470.99 158.38V166.84M473.31 159.38V167.83M475.63 160.39V168.84M477.95 161.40V169.86M480.27 162.43V170.88M482.59 163.46V171.92M484.91 164.51V172.96M487.23 165.56V174.01M489.55 166.62V175.07M491.88 167.69V176.15M494.20 168.77V177.23M496.52 169.87V178.32M498.84 170.97V179.42M501.16 172.08V180.53M503.48 173.20V181.65M505.80 174.33V182.78M508.12 175.47V183.93M510.44 176.62V185.08M512.76 177.79V186.24M515.08 178.96V187.41M517.40 180.14V188.60M519.72 181.34V189.79M522.04 182.54V190.99M524.36 183.76V192.21M526.69 184.98V193.44M529.01 186.22V194.68M531.33 187.47V195.93M533.65 188.73V197.19M535.97 190.01V198.46M538.29 191.29V199.74M540.61 192.59V201.04M542.93 193.90V202.35M545.25 195.22V203.66M547.57 196.57V204.99M549.89 197.92V206.32M552.21 199.29V207.67M554.53 200.66V209.03M556.85 202.06V210.41M559.17 203.46V211.80M561.50 204.88V213.20M563.82 206.31V214.62M566.14 207.76V216.05M568.46 209.22V217.49M570.78 210.69V218.95M573.10 212.18V220.42M575.42 213.68V221.90M577.74 215.20V223.40M580.06 216.73V224.92M582.38 218.28V226.45M584.70 219.84V228.00M587.02 221.42V229.56M589.34 223.01V231.13M591.66 224.62V232.73M593.98 226.25V234.34M596.31 227.89V235.96M598.63 229.55V237.61M600.95 231.23V239.27M603.27 232.92V240.94M605.59 234.63V242.64M607.91 236.36V244.35M610.23 238.11V246.09M612.55 239.88V247.84M614.87 241.61V249.66M617.19 243.36V251.51M619.51 245.12V253.38M621.83 246.91V255.26M624.15 248.72V257.17M626.47 250.55V259.10M628.79 252.40V261.05M631.12 254.27V263.02M633.44 256.17V265.02M635.76 258.08V267.03M638.08 260.02V269.07M640.40 261.99V271.14M642.72 263.98V273.23M645.04 265.99V275.34M647.36 268.03V277.48M649.68 270.10V279.64M652.00 272.19V281.84M654.32 274.31V284.06M656.64 276.46V286.30M658.96 278.63V288.58M661.28 280.84V290.88M663.60 283.08V293.22M665.93 285.34V295.59M668.25 287.64V297.99M670.57 289.98V300.42M672.89 292.34V302.89M675.21 294.75V305.39M677.53 297.18V307.92M679.85 299.66V310.50M682.17 302.17V313.11M684.49 304.96V315.53M686.81 307.79V317.99M689.13 310.66V320.49M691.45 313.58V323.03M693.77 316.54V325.62M696.09 319.55V328.26M698.41 322.60V330.94M700.74 325.71V333.68M703.06 328.87V336.47M705.38 332.09V339.32M707.70 335.36V342.22M710.02 338.70V345.18M712.34 342.10V348.21M714.66 345.56V351.30M716.98 349.09V354.46M719.30 352.38V358.01M721.62 355.75V361.64M723.94 359.20V365.34M726.26 362.74V369.13M728.58 366.36V373.01M730.90 370.08V376.99M733.22 373.91V381.07M735.55 377.84V385.26M737.87 381.89V389.57M740.19 386.07V394.00M742.51 390.38V398.57M744.83 394.84V403.28M747.15 399.46V408.16M749.47 404.23V413.23M751.79 408.25V419.44M754.11 412.48V425.86M756.43 416.94V432.53M758.75 421.67V439.45M761.07 426.69V446.70M763.39 431.73V454.61M765.71 437.16V462.94M768.03 443.50V471.31M770.36 450.43V480.25M772.68 456.60V491.37M775.00 463.66V503.42M777.32 471.95V516.69M779.64 482.01V531.74M781.96 489.98V554.61M784.28 503.80V583.34" stroke="#f00" stroke-width="0.5" fill="none"/>
<polyline points="90.40,89.01 92.72,89.01 95.04,89.02 97.36,89.03 99.68,89.05 102.00,89.07 104.32,89.10 106.64,89.13 108.97,89.17 111.29,89.21 113.61,89.26 115.93,89.31 118.25,89.37 120.57,89.43 122.89,89.50 125.21,89.57 127.53,89.65 129.85,89.73 132.17,89.82 134.49,89.91 136.81,90.01 139.13,90.11 141.45,90.22 143.78,90.33 146.10,90.45 148.42,90.57 150.74,90.70 153.06,90.83 155.38,90.97 157.70,91.11 160.02,91.26 162.34,91.41 164.66,91.57 166.98,91.73 169.30,91.90 171.62,92.07 173.94,92.25 176.26,92.44 178.59,92.62 180.91,92.82 183.23,93.02 185.55,93.22 187.87,93.43 190.19,93.64 192.51,93.86 194.83,94.09 197.15,94.32 199.47,94.55 201.79,94.79 204.11,95.04 206.43,95.29 208.75,95.55 211.07,95.81 213.40,96.07 215.72,96.34 218.04,96.62 220.36,96.90 222.68,97.19 225.00,97.48 227.32,97.78 229.64,98.08 231.96,98.39 234.28,98.71 236.60,99.03 238.92,99.35 241.24,99.68 243.56,100.02 245.88,100.36 248.21,100.70 250.53,101.06 252.85,101.41 255.17,101.78 257.49,102.14 259.81,102.52 262.13,102.90 264.45,103.28 266.77,103.67 269.09,104.07 271.41,104.47 273.73,104.88 276.05,105.29 278.37,105.71 280.69,106.13 283.02,106.56 285.34,107.00 287.66,107.44 289.98,107.88 292.30,108.33 294.62,108.79 296.94,109.26 299.26,109.73 301.58,110.20 303.90,110.68 306.22,111.17 308.54,111.66 310.86,112.16 313.18,112.67 315.50,113.18 317.83,113.70 320.15,114.22 322.47,114.75 324.79,115.28 327.11,115.82 329.43,116.37 331.75,116.92 334.07,117.48 336.39,118.05 338.71,118.62 341.03,119.20 343.35,119.78 345.67,120.37 347.99,120.97 350.31,121.57 352.64,122.18 354.96,122.80 357.28,123.42 359.60,124.05 361.92,124.68 364.24,125.33 366.56,125.97 368.88,126.63 371.20,127.29 373.52,127.96 375.84,128.63 378.16,129.32 380.48,130.00 382.80,130.70 385.12,131.40 387.45,132.11 389.77,132.83 392.09,133.55 394.41,134.28 396.73,135.02 399.05,135.76 401.37,136.51 403.69,137.27 406.01,138.04 408.33,138.81 410.65,139.59 412.97,140.38 415.29,141.17 417.61,141.97 419.93,142.78 422.26,143.60 424.58,144.43 426.90,145.26 429.22,146.10 431.54,146.95 433.86,147.80 436.18,148.67 438.50,149.54 440.82,150.42 443.14,151.31 445.46,152.20 447.78,153.11 450.10,154.02 452.42,154.94 454.74,155.87 457.07,156.81 459.39,157.75 461.71,158.71 464.03,159.67 466.35,160.64 468.67,161.62 470.99,162.61 473.31,163.61 475.63,164.61 477.95,165.63 480.27,166.65 482.59,167.69 484.91,168.73 487.23,169.79 489.55,170.85 491.88,171.92 494.20,173.00 496.52,174.09 498.84,175.19 501.16,176.31 503.48,177.43 505.80,178.56 508.12,179.70 510.44,180.85 512.76,182.01 515.08,183.19 517.40,184.37 519.72,185.56 522.04,186.77 524.36,187.98 526.69,189.21 529.01,190.45 531.33,191.70 533.65,192.96 535.97,194.23 538.29,195.52 540.61,196.81 542.93,198.12 545.25,199.44 547.57,200.78 549.89,202.12 552.21,203.48 554.53,204.85 556.85,206.23 559.17,207.63 561.50,209.04 563.82,210.46 566.14,211.90 568.46,213.35 570.78,214.82 573.10,216.30 575.42,217.79 577.74,219.30 580.06,220.82 582.38,222.36 584.70,223.92 587.02,225.49 589.34,227.07 591.66,228.67 593.98,230.29 596.31,231.93 598.63,233.58 600.95,235.25 603.27,236.93 605.59,238.64 607.91,240.36 610.23,242.10 612.55,243.86 614.87,245.64 617.19,247.43 619.51,249.25 621.83,251.09 624.15,252.95 626.47,254.82 628.79,256.73 631.12,258.65 633.44,260.59 635.76,262.56 638.08,264.55 640.40,266.56 642.72,268.60 645.04,270.67 647.36,272.76 649.68,274.87 652.00,277.01 654.32,279.18 656.64,281.38 658.96,283.61 661.28,285.86 663.60,288.15 665.93,290.47 668.25,292.82 670.57,295.20 672.89,297.61 675.21,300.07 677.53,302.55 679.85,305.08 682.17,307.64 684.49,310.24 686.81,312.89 689.13,315.57 691.45,318.30 693.77,321.08 696.09,323.90 698.41,326.77 700.74,329.70 703.06,332.67 705.38,335.70 707.70,338.79 710.02,341.94 712.34,345.15 714.66,348.43 716.98,351.78 719.30,355.20 721.62,358.69 723.94,362.27 726.26,365.93 728.58,369.69 730.90,373.54 733.22,377.49 735.55,381.55 737.87,385.73 740.19,390.03 742.51,394.47 744.83,399.06 747.15,403.81 749.47,408.73 751.79,413.84 754.11,419.17 756.43,424.73 758.75,430.56 761.07,436.69 763.39,443.17 765.71,450.05 768.03,457.41 770.36,465.34 772.68,473.98 775.00,483.54 777.32,494.32 777.34,494.44 777.46,495.02 777.57,495.60 777.69,496.19 777.80,496.78 777.92,497.38 778.03,497.98 778.15,498.59 778.27,499.20 778.38,499.82 778.50,500.44 778.61,501.07 778.73,501.70 778.85,502.34 778.96,502.98 779.08,503.63 779.19,504.29 779.31,504.95 779.42,505.62 779.54,506.30 779.66,506.98 779.77,507.67 779.89,508.36 780.00,509.07 780.12,509.78 780.23,510.50 780.35,511.22 780.47,511.96 780.58,512.70 780.70,513.45 780.81,514.21 780.93,514.98 781.04,515.76 781.16,516.55 781.28,517.35 781.39,518.16 781.51,518.98 781.62,519.81 781.74,520.66 781.85,521.51 781.97,522.38 782.09,523.27 782.20,524.16 782.32,525.07 782.43,526.00 782.55,526.94 782.66,527.90 782.78,528.87 782.90,529.86 783.01,530.88 783.13,531.91 783.24,532.96 783.36,534.04 783.47,535.14 783.59,536.26 783.71,537.41 783.82,538.59 783.94,539.80 784.05,541.04 784.17,542.32 784.29,543.64 784.40,544.99 784.52,546.39 784.63,547.84 784.75,549.34 784.86,550.91 784.98,552.53 785.10,554.24 785.21,556.02 785.33,557.90 785.44,559.89 785.56,562.00 785.67,564.27 785.79,566.73 785.91,569.41 786.02,572.40 786.14,575.79 786.25,579.77 786.37,584.73 786.48,591.74 786.60,620.82" stroke="#f00" stroke-width="1.85" fill="none" stroke-linejoin="round"/>
<path d="M92.72 119.69V127.35M95.04 119.70V127.35M97.36 119.71V127.36M99.68 119.73V127.37M102.00 119.75V127.39M104.32 119.77V127.41M106.64 119.80V127.44M108.97 119.83V127.47M111.29 119.87V127.51M113.61 119.91V127.54M115.93 119.96V127.59M118.25 120.01V127.64M120.57 120.06V127.69M122.89 120.12V127.74M125.21 120.19V127.80M127.53 120.25V127.87M129.85 120.32V127.94M132.17 120.40V128.01M134.49 120.48V128.09M136.81 120.56V128.17M139.13 120.65V128.25M141.45 120.74V128.34M143.78 120.84V128.44M146.10 120.94V128.54M148.42 121.05V128.64M150.74 121.16V128.75M153.06 121.27V128.86M155.38 121.39V128.97M157.70 121.51V129.09M160.02 121.64V129.22M162.34 121.77V129.35M164.66 121.91V129.48M166.98 122.04V129.61M169.30 122.19V129.76M171.62 122.34V129.90M173.94 122.49V130.05M176.26 122.65V130.21M178.59 122.81V130.36M180.91 122.97V130.53M183.23 123.14V130.70M185.55 123.32V130.87M187.87 123.50V131.04M190.19 123.68V131.22M192.51 123.87V131.41M194.83 124.06V131.60M197.15 124.25V131.79M199.47 124.45V131.99M201.79 124.66V132.19M204.11 124.87V132.40M206.43 125.08V132.61M208.75 125.30V132.82M211.07 125.52V133.04M213.40 125.75V133.27M215.72 125.98V133.50M218.04 126.22V133.73M220.36 126.46V133.97M222.68 126.70V134.21M225.00 126.95V134.45M227.32 127.20V134.70M229.64 127.46V134.96M231.96 127.72V135.22M234.28 127.99V135.48M236.60 128.26V135.75M238.92 128.54V136.02M241.24 128.82V136.30M243.56 129.10V136.58M245.88 129.39V136.87M248.21 129.69V137.16M250.53 129.98V137.46M252.85 130.29V137.76M255.17 130.59V138.06M257.49 130.91V138.37M259.81 131.22V138.69M262.13 131.54V139.00M264.45 131.87V139.33M266.77 132.20V139.65M269.09 132.54V139.98M271.41 132.89V140.31M273.73 133.24V140.65M276.05 133.59V140.99M278.37 133.95V141.34M280.69 134.31V141.69M283.02 134.68V142.04M285.34 135.05V142.40M287.66 135.43V142.77M289.98 135.81V143.14M292.30 136.20V143.51M294.62 136.59V143.89M296.94 136.98V144.28M299.26 137.39V144.67M301.58 137.79V145.06M303.90 138.20V145.46M306.22 138.62V145.86M308.54 139.04V146.27M310.86 139.46V146.68M313.18 139.89V147.10M315.50 140.33V147.52M317.83 140.77V147.95M320.15 141.21V148.38M322.47 141.66V148.82M324.79 142.11V149.26M327.11 142.57V149.71M329.43 143.04V150.16M331.75 143.51V150.62M334.07 143.98V151.08M336.39 144.46V151.55M338.71 144.94V152.02M341.03 145.43V152.50M343.35 145.93V152.98M345.67 146.43V153.47M347.99 146.93V153.96M350.31 147.44V154.46M352.64 147.96V154.96M354.96 148.48V155.47M357.28 149.00V155.98M359.60 149.53V156.50M361.92 150.07V157.03M364.24 150.61V157.56M366.56 151.16V158.09M368.88 151.71V158.63M371.20 152.27V159.18M373.52 152.83V159.73M375.84 153.40V160.28M378.16 153.97V160.84M380.48 154.55V161.41M382.80 155.13V161.98M385.12 155.72V162.56M387.45 156.32V163.14M389.77 156.92V163.73M392.09 157.52V164.32M394.41 158.13V164.92M396.73 158.75V165.53M399.05 159.37V166.14M401.37 160.00V166.76M403.69 160.64V167.38M406.01 161.28V168.01M408.33 161.92V168.64M410.65 162.57V169.28M412.97 163.23V169.92M415.29 163.89V170.58M417.61 164.56V171.23M419.93 165.24V171.90M422.26 165.92V172.56M424.58 166.60V173.24M426.90 167.30V173.92M429.22 167.99V174.60M431.54 168.70V175.30M433.86 169.41V176.00M436.18 170.12V176.70M438.50 170.85V177.41M440.82 171.56V178.15M443.14 172.27V178.89M445.46 173.00V179.64M447.78 173.72V180.39M450.10 174.46V181.15M452.42 175.20V181.92M454.74 175.95V182.70M457.07 176.70V183.48M459.39 177.46V184.26M461.71 178.23V185.06M464.03 179.00V185.86M466.35 179.78V186.66M468.67 180.57V187.48M470.99 181.36V188.30M473.31 182.16V189.12M475.63 182.97V189.96M477.95 183.78V190.80M480.27 184.60V191.65M482.59 185.43V192.50M484.91 186.27V193.36M487.23 187.11V194.23M489.55 187.96V195.10M491.88 188.81V195.99M494.20 189.68V196.88M496.52 190.55V197.77M498.84 191.42V198.68M501.16 192.31V199.59M503.48 193.20V200.51M505.80 194.10V201.43M508.12 195.01V202.37M510.44 195.92V203.31M512.76 196.85V204.26M515.08 197.78V205.22M517.40 198.72V206.18M519.72 199.66V207.15M522.04 200.62V208.14M524.36 201.58V209.12M526.69 202.55V210.12M529.01 203.53V211.13M531.33 204.51V212.14M533.65 205.51V213.16M535.97 206.51V214.19M538.29 207.52V215.23M540.61 208.54V216.27M542.93 209.57V217.33M545.25 210.62V218.38M547.57 211.68V219.45M549.89 212.74V220.52M552.21 213.82V221.60M554.53 214.90V222.69M556.85 215.99V223.79M559.17 217.09V224.90M561.50 218.20V226.01M563.82 219.32V227.14M566.14 220.45V228.28M568.46 221.59V229.42M570.78 222.74V230.58M573.10 223.90V231.74M575.42 225.07V232.92M577.74 226.25V234.11M580.06 227.44V235.30M582.38 228.64V236.51M584.70 229.85V237.73M587.02 231.07V238.95M589.34 232.30V240.19M591.66 233.55V241.44M593.98 234.80V242.70M596.31 236.06V243.97M598.63 237.34V245.26M600.95 238.63V246.55M603.27 239.93V247.86M605.59 241.24V249.17M607.91 242.56V250.50M610.23 243.90V251.85M612.55 245.24V253.20M614.87 246.60V254.57M617.19 247.96V255.96M619.51 249.34V257.36M621.83 250.73V258.78M624.15 252.13V260.20M626.47 253.55V261.64M628.79 254.98V263.10M631.12 256.42V264.57M633.44 257.88V266.05M635.76 259.36V267.54M638.08 260.84V269.06M640.40 262.35V270.58M642.72 263.87V272.12M645.04 265.40V273.68M647.36 266.95V275.25M649.68 268.52V276.84M652.00 270.10V278.45M654.32 271.70V280.07M656.64 273.31V281.71M658.96 274.95V283.37M661.28 276.60V285.04M663.60 278.27V286.73M665.93 279.96V288.45M668.25 281.66V290.18M670.57 283.39V291.93M672.89 285.14V293.69M675.21 286.90V295.49M677.53 288.69V297.30M679.85 290.50V299.13M682.17 292.33V300.98M684.49 294.28V302.76M686.81 296.26V304.56M689.13 298.26V306.39M691.45 300.28V308.24M693.77 302.33V310.11M696.09 304.41V312.01M698.41 306.51V313.94M700.74 308.64V315.89M703.06 310.80V317.87M705.38 312.99V319.89M707.70 315.20V321.93M710.02 317.45V324.00M712.34 319.74V326.11M714.66 322.05V328.25M716.98 324.40V330.43M719.30 326.79V332.64M721.62 329.21V334.89M723.94 331.68V337.18M726.26 334.19V339.51M728.58 336.74V341.88M730.90 339.33V344.30M733.22 341.61V347.13M735.55 343.94V350.02M737.87 346.32V352.95M740.19 348.76V355.94M742.51 351.25V358.99M744.83 353.81V362.10M747.15 356.44V365.28M749.47 359.14V368.53M751.79 361.91V371.86M754.11 364.17V375.87M756.43 366.52V379.97M758.75 368.96V384.17M761.07 371.52V388.47M763.39 374.19V392.89M765.71 376.99V397.45M768.03 379.69V402.38M770.36 381.55V408.50M772.68 383.60V414.82M775.00 385.88V421.35M777.32 388.41V428.15M779.64 386.84V439.67M781.96 385.60V451.61M784.28 383.50V465.05" stroke="#f00" stroke-width="0.5" fill="none"/>
<polyline points="90.40,123.52 92.72,123.52 95.04,123.53 97.36,123.54 99.68,123.55 102.00,123.57 104.32,123.59 106.64,123.62 108.97,123.65 111.29,123.69 113.61,123.73 115.93,123.77 118.25,123.82 120.57,123.88 122.89,123.93 125.21,123.99 127.53,124.06 129.85,124.13 132.17,124.20 134.49,124.28 136.81,124.37 139.13,124.45 141.45,124.54 143.78,124.64 146.10,124.74 148.42,124.84 150.74,124.95 153.06,125.06 155.38,125.18 157.70,125.30 160.02,125.43 162.34,125.56 164.66,125.69 166.98,125.83 169.30,125.97 171.62,126.12 173.94,126.27 176.26,126.43 178.59,126.59 180.91,126.75 183.23,126.92 185.55,127.09 187.87,127.27 190.19,127.45 192.51,127.64 194.83,127.83 197.15,128.02 199.47,128.22 201.79,128.42 204.11,128.63 206.43,128.84 208.75,129.06 211.07,129.28 213.40,129.51 215.72,129.74 218.04,129.97 220.36,130.21 222.68,130.45 225.00,130.70 227.32,130.95 229.64,131.21 231.96,131.47 234.28,131.74 236.60,132.01 238.92,132.28 241.24,132.56 243.56,132.84 245.88,133.13 248.21,133.42 250.53,133.72 252.85,134.02 255.17,134.33 257.49,134.64 259.81,134.95 262.13,135.27 264.45,135.60 266.77,135.93 269.09,136.26 271.41,136.60 273.73,136.94 276.05,137.29 278.37,137.64 280.69,138.00 283.02,138.36 285.34,138.73 287.66,139.10 289.98,139.47 292.30,139.86 294.62,140.24 296.94,140.63 299.26,141.03 301.58,141.43 303.90,141.83 306.22,142.24 308.54,142.65 310.86,143.07 313.18,143.50 315.50,143.92 317.83,144.36 320.15,144.80 322.47,145.24 324.79,145.69 327.11,146.14 329.43,146.60 331.75,147.06 334.07,147.53 336.39,148.00 338.71,148.48 341.03,148.97 343.35,149.46 345.67,149.95 347.99,150.45 350.31,150.95 352.64,151.46 354.96,151.97 357.28,152.49 359.60,153.02 361.92,153.55 364.24,154.08 366.56,154.62 368.88,155.17 371.20,155.72 373.52,156.28 375.84,156.84 378.16,157.41 380.48,157.98 382.80,158.56 385.12,159.14 387.45,159.73 389.77,160.32 392.09,160.92 394.41,161.53 396.73,162.14 399.05,162.76 401.37,163.38 403.69,164.01 406.01,164.64 408.33,165.28 410.65,165.93 412.97,166.58 415.29,167.23 417.61,167.90 419.93,168.57 422.26,169.24 424.58,169.92 426.90,170.61 429.22,171.30 431.54,172.00 433.86,172.70 436.18,173.41 438.50,174.13 440.82,174.85 443.14,175.58 445.46,176.32 447.78,177.06 450.10,177.81 452.42,178.56 454.74,179.32 457.07,180.09 459.39,180.86 461.71,181.64 464.03,182.43 466.35,183.22 468.67,184.02 470.99,184.83 473.31,185.64 475.63,186.46 477.95,187.29 480.27,188.12 482.59,188.97 484.91,189.81 487.23,190.67 489.55,191.53 491.88,192.40 494.20,193.28 496.52,194.16 498.84,195.05 501.16,195.95 503.48,196.86 505.80,197.77 508.12,198.69 510.44,199.62 512.76,200.55 515.08,201.50 517.40,202.45 519.72,203.41 522.04,204.38 524.36,205.35 526.69,206.33 529.01,207.33 531.33,208.33 533.65,209.33 535.97,210.35 538.29,211.38 540.61,212.41 542.93,213.45 545.25,214.50 547.57,215.56 549.89,216.63 552.21,217.71 554.53,218.79 556.85,219.89 559.17,220.99 561.50,222.11 563.82,223.23 566.14,224.37 568.46,225.51 570.78,226.66 573.10,227.82 575.42,229.00 577.74,230.18 580.06,231.37 582.38,232.57 584.70,233.79 587.02,235.01 589.34,236.25 591.66,237.49 593.98,238.75 596.31,240.02 598.63,241.30 600.95,242.59 603.27,243.89 605.59,245.21 607.91,246.53 610.23,247.87 612.55,249.22 614.87,250.58 617.19,251.96 619.51,253.35 621.83,254.75 624.15,256.17 626.47,257.60 628.79,259.04 631.12,260.49 633.44,261.97 635.76,263.45 638.08,264.95 640.40,266.47 642.72,268.00 645.04,269.54 647.36,271.10 649.68,272.68 652.00,274.27 654.32,275.88 656.64,277.51 658.96,279.16 661.28,280.82 663.60,282.50 665.93,284.20 668.25,285.92 670.57,287.66 672.89,289.42 675.21,291.19 677.53,292.99 679.85,294.81 682.17,296.66 684.49,298.52 686.81,300.41 689.13,302.32 691.45,304.26 693.77,306.22 696.09,308.21 698.41,310.22 700.74,312.27 703.06,314.34 705.38,316.44 707.70,318.57 710.02,320.73 712.34,322.92 714.66,325.15 716.98,327.41 719.30,329.71 721.62,332.05 723.94,334.43 726.26,336.85 728.58,339.31 730.90,341.82 733.22,344.37 735.55,346.98 737.87,349.63 740.19,352.35 742.51,355.12 744.83,357.96 747.15,360.86 749.47,363.83 751.79,366.89 754.11,370.02 756.43,373.24 758.75,376.56 761.07,379.99 763.39,383.54 765.71,387.22 768.03,391.04 770.36,395.03 772.68,399.21 775.00,403.61 777.32,408.28 777.34,408.33 777.46,408.57 777.57,408.81 777.69,409.05 777.80,409.29 777.92,409.54 778.03,409.78 778.15,410.03 778.27,410.27 778.38,410.52 778.50,410.77 778.61,411.02 778.73,411.27 778.85,411.52 778.96,411.77 779.08,412.02 779.19,412.27 779.31,412.53 779.42,412.78 779.54,413.04 779.66,413.29 779.77,413.55 779.89,413.81 780.00,414.07 780.12,414.33 780.23,414.59 780.35,414.86 780.47,415.12 780.58,415.38 780.70,415.65 780.81,415.91 780.93,416.18 781.04,416.45 781.16,416.72 781.28,416.99 781.39,417.26 781.51,417.53 781.62,417.81 781.74,418.08 781.85,418.36 781.97,418.63 782.09,418.91 782.20,419.19 782.32,419.47 782.43,419.75 782.55,420.03 782.66,420.31 782.78,420.59 782.90,420.87 783.01,421.16 783.13,421.44 783.24,421.73 783.36,422.01 783.47,422.30 783.59,422.58 783.71,422.87 783.82,423.15 783.94,423.44 784.05,423.73 784.17,424.01 784.29,424.29 784.40,424.58 784.52,424.86 784.63,425.13 784.75,425.41 784.86,425.68 784.98,425.94 785.10,426.20 785.21,426.45 785.33,426.69 785.44,426.91 785.56,427.12 785.67,427.30 785.79,427.45 785.91,427.55 786.02,427.59 786.14,427.52 786.25,427.29 786.37,426.75 786.48,425.41 786.60,407.99" stroke="#f00" stroke-width="1.85" fill="none" stroke-linejoin="round"/>
<g fill="#3a3a3a" fill-rule="evenodd" stroke="none"><path transform="translate(241.95 817.38) scale(1.0219 1)" d="M275.50 -5.12L275.50 -4.75L275.88 -4.38L290.88 -4.38L291.25 -4.75L291.25 -5.12L290.75 -5.50L290.50 -5.38L276.25 -5.38L276.00 -5.50ZM275.50 -10.00L275.50 -9.62L276.00 -9.25L290.88 -9.25L291.25 -9.62L291.25 -10.00L290.75 -10.38L276.00 -10.38ZM318.00 -11.62L318.00 -11.25L318.50 -10.88L320.25 -10.88L320.38 -10.75L320.38 -0.62L320.25 -0.50L318.25 -0.50L318.00 -0.25L318.00 0.25L318.25 0.50L324.38 0.50L324.75 0.12L324.75 -0.12L324.38 -0.50L322.38 -0.50L322.25 -0.62L322.25 -8.62L322.38 -8.88L323.62 -10.12L325.62 -10.75L325.75 -10.88L327.50 -10.88L328.50 -10.38L328.88 -10.00L329.38 -9.00L329.38 -0.62L329.25 -0.50L327.25 -0.50L327.00 -0.25L327.00 0.25L327.25 0.50L333.38 0.50L333.75 0.12L333.75 -0.12L333.38 -0.50L331.38 -0.50L331.25 -0.62L331.25 -9.25L330.50 -10.75L330.12 -11.12L328.12 -11.75L328.00 -11.88L327.75 -11.88L327.62 -12.00L325.75 -12.00L325.62 -11.88L323.50 -11.25L323.00 -11.00L322.38 -10.38L322.25 -10.50L322.25 -11.12L322.38 -11.25L322.38 -11.50L322.25 -11.75L321.88 -12.00L318.50 -12.00ZM309.50 -12.00L309.00 -11.62L309.00 -11.25L309.50 -10.88L311.38 -10.88L311.50 -10.75L311.50 -0.75L311.25 -0.50L309.38 -0.50L309.00 -0.25L309.00 0.25L309.38 0.50L315.38 0.50L315.75 0.25L315.75 -0.25L315.38 -0.50L313.50 -0.50L313.25 -0.75L313.25 -11.12L313.38 -11.25L313.38 -11.50L313.25 -11.75L312.88 -12.00ZM298.50 -11.88L297.00 -11.12L296.00 -10.12L295.88 -9.88L295.88 -8.12L296.00 -7.88L297.00 -6.88L298.38 -6.25L298.62 -6.00L299.25 -5.88L299.62 -5.62L299.88 -5.62L300.25 -5.38L300.50 -5.38L300.88 -5.12L301.12 -5.12L301.50 -4.88L302.38 -4.62L304.38 -3.62L304.88 -3.12L304.88 -1.88L304.12 -1.12L302.88 -0.50L299.88 -0.50L298.38 -1.25L297.50 -2.25L297.00 -3.25L297.00 -3.50L296.62 -3.75L296.25 -3.75L295.88 -3.25L295.88 0.00L296.25 0.50L296.62 0.50L297.00 0.12L297.25 -0.50L297.50 -0.62L297.75 -0.38L299.50 0.50L303.25 0.50L304.75 -0.25L305.75 -1.25L305.88 -1.25L305.88 -1.50L306.00 -1.62L306.00 -4.12L305.88 -4.38L304.88 -5.38L303.50 -6.00L303.25 -6.25L302.62 -6.38L302.25 -6.62L302.00 -6.62L301.62 -6.88L301.38 -6.88L301.00 -7.12L300.75 -7.12L300.38 -7.38L299.50 -7.62L297.75 -8.50L297.00 -9.12L297.00 -9.62L297.50 -10.12L298.88 -10.88L302.12 -10.88L303.38 -10.25L304.25 -9.38L304.88 -8.00L305.12 -7.75L305.50 -7.62L305.75 -7.75L306.00 -8.12L306.00 -11.50L305.75 -11.88L305.38 -12.00L304.88 -11.62L304.88 -11.38L304.62 -10.88L304.38 -10.75L304.25 -11.00L302.25 -12.00L298.88 -12.00L298.75 -11.88ZM238.88 -11.88L237.38 -11.12L236.38 -10.12L236.25 -9.88L236.25 -8.12L236.38 -7.88L237.38 -6.88L238.75 -6.25L239.00 -6.00L239.62 -5.88L240.00 -5.62L240.25 -5.62L240.62 -5.38L240.88 -5.38L241.25 -5.12L241.50 -5.12L241.88 -4.88L242.75 -4.62L244.75 -3.62L245.25 -3.12L245.25 -1.88L244.50 -1.12L243.25 -0.50L240.25 -0.50L238.75 -1.25L237.88 -2.25L237.38 -3.25L237.38 -3.50L237.00 -3.75L236.62 -3.75L236.25 -3.25L236.25 0.00L236.62 0.50L237.00 0.50L237.38 0.25L237.38 0.00L237.62 -0.50L237.88 -0.62L238.12 -0.38L239.88 0.50L243.62 0.50L245.12 -0.25L246.25 -1.25L246.25 -1.50L246.38 -1.62L246.38 -4.25L246.25 -4.50L246.12 -4.50L245.25 -5.38L243.88 -6.00L243.62 -6.25L243.00 -6.38L242.62 -6.62L242.38 -6.62L242.00 -6.88L241.75 -6.88L241.38 -7.12L241.12 -7.12L240.75 -7.38L239.88 -7.62L238.12 -8.50L237.38 -9.25L237.38 -9.62L237.88 -10.12L239.25 -10.88L242.50 -10.88L243.75 -10.25L244.62 -9.38L245.25 -8.00L245.50 -7.75L245.88 -7.62L246.12 -7.75L246.38 -8.12L246.38 -11.50L246.12 -11.88L245.75 -12.00L245.25 -11.62L245.25 -11.38L245.00 -10.88L244.75 -10.75L244.62 -11.00L242.62 -12.00L239.25 -12.00L239.12 -11.88ZM217.50 -11.62L217.50 -11.25L218.00 -10.88L219.88 -10.88L220.00 -10.75L220.00 -2.12L220.25 -1.88L220.75 -0.88L220.75 -0.62L221.00 -0.38L223.00 0.25L223.38 0.50L225.75 0.50L225.88 0.38L228.00 -0.25L228.88 -1.12L229.00 -1.00L229.00 -0.25L228.88 0.00L229.25 0.50L233.00 0.50L233.25 0.25L233.25 -0.25L233.00 -0.50L231.00 -0.50L230.88 -0.62L230.88 -11.62L230.38 -12.00L227.00 -12.00L226.50 -11.62L226.50 -11.25L227.00 -10.88L228.88 -10.88L229.00 -10.75L229.00 -2.75L227.50 -1.25L225.88 -0.75L225.75 -0.62L225.38 -0.62L225.25 -0.50L224.00 -0.50L222.62 -1.12L221.88 -2.50L221.88 -11.62L221.38 -12.00L218.00 -12.00ZM209.00 -12.00L208.75 -11.88L208.50 -11.50L208.75 -11.00L209.00 -10.88L210.88 -10.88L211.00 -10.75L211.00 -0.62L210.88 -0.50L208.88 -0.50L208.50 0.00L208.88 0.50L215.00 0.50L215.25 0.25L215.25 -0.25L215.00 -0.50L213.00 -0.50L212.88 -0.62L212.88 -11.62L212.38 -12.00ZM176.75 -10.12L176.75 -9.88L176.62 -9.75L176.75 -9.25L176.62 -9.00L176.75 -8.75L177.25 -8.38L177.38 -8.50L177.88 -8.50L178.00 -8.38L178.50 -8.75L178.62 -9.00L178.50 -9.25L178.50 -9.50L178.62 -9.62L178.50 -10.25L179.62 -10.88L182.88 -10.88L184.12 -10.25L184.88 -9.50L184.88 -8.38L184.12 -7.75L183.50 -7.75L183.38 -7.62L182.75 -7.62L182.62 -7.50L182.00 -7.50L181.88 -7.38L181.25 -7.38L181.12 -7.25L180.50 -7.25L180.38 -7.12L179.50 -7.12L179.12 -6.88L177.00 -6.25L176.75 -6.00L176.12 -4.62L175.88 -4.38L175.88 -2.25L176.75 -0.50L177.12 -0.25L177.38 -0.25L179.38 0.50L182.38 0.50L184.25 -0.50L184.38 -0.75L185.12 -1.50L185.25 -1.50L185.88 -0.38L187.25 0.25L187.50 0.50L188.88 0.50L189.12 0.25L189.12 -0.25L188.88 -0.50L188.12 -0.50L187.38 -1.25L186.75 -2.50L186.75 -8.38L186.50 -8.62L186.00 -9.62L185.88 -10.12L185.50 -10.38L185.00 -11.00L183.00 -12.00L179.62 -12.00L177.75 -11.12ZM184.88 -6.75L184.88 -2.75L183.25 -1.12L182.00 -0.50L179.88 -0.50L178.75 -1.00L178.25 -1.50L177.75 -2.50L177.75 -4.00L178.50 -5.38L180.12 -6.12L180.75 -6.12L180.88 -6.25L181.50 -6.25L181.62 -6.38L182.25 -6.38L182.38 -6.50L183.00 -6.50L183.12 -6.62L183.75 -6.62L183.88 -6.75L184.62 -6.75L184.75 -6.88ZM120.50 -10.25L120.38 -10.00L120.38 -8.75L120.62 -8.50L121.50 -8.50L121.62 -8.38L122.25 -8.88L122.25 -9.88L122.12 -10.12L122.38 -10.38L123.38 -10.88L126.62 -10.88L127.62 -10.38L128.50 -9.62L128.50 -8.38L127.75 -7.75L127.12 -7.75L127.00 -7.62L126.38 -7.62L126.25 -7.50L125.62 -7.50L125.50 -7.38L124.88 -7.38L124.75 -7.25L124.12 -7.25L124.00 -7.12L123.25 -7.12L123.12 -7.00L120.62 -6.25L120.62 -6.12L120.38 -6.00L119.50 -4.25L119.50 -2.25L120.38 -0.50L120.75 -0.25L121.00 -0.25L123.00 0.50L126.00 0.50L127.75 -0.38L128.88 -1.50L129.38 -0.50L131.25 0.50L132.50 0.50L132.88 0.00L132.50 -0.50L131.75 -0.50L131.12 -1.12L130.38 -2.50L130.38 -8.38L129.50 -10.12L128.50 -11.12L126.62 -12.00L123.25 -12.00L121.25 -11.00L121.12 -10.75L120.62 -10.25ZM128.50 -6.75L128.50 -2.62L127.12 -1.25L125.62 -0.50L123.50 -0.50L123.12 -0.75L122.88 -0.75L122.38 -1.00L121.88 -1.50L121.38 -2.62L121.38 -4.00L122.12 -5.38L123.75 -6.12L124.38 -6.12L124.50 -6.25L125.12 -6.25L125.25 -6.38L125.88 -6.38L126.00 -6.50L126.62 -6.50L126.75 -6.62L127.38 -6.62L127.50 -6.75L128.25 -6.75L128.38 -6.88ZM100.75 -11.62L100.75 -11.25L101.25 -10.88L103.12 -10.88L103.25 -10.75L103.25 -0.75L103.00 -0.50L101.12 -0.50L100.75 -0.25L100.75 0.25L101.12 0.50L107.12 0.50L107.50 0.25L107.50 -0.25L107.12 -0.50L105.25 -0.50L105.00 -0.75L105.00 -8.62L105.12 -8.88L106.38 -10.12L108.38 -10.75L108.50 -10.88L110.25 -10.88L111.25 -10.38L111.62 -10.00L112.12 -9.00L112.12 -0.62L112.00 -0.50L110.00 -0.50L109.75 -0.25L109.75 0.25L110.00 0.50L116.12 0.50L116.50 0.12L116.50 -0.12L116.12 -0.50L114.12 -0.50L114.00 -0.62L114.00 -9.25L113.25 -10.75L112.88 -11.12L110.88 -11.75L110.50 -12.00L108.50 -12.00L108.38 -11.88L106.25 -11.25L105.75 -11.00L105.12 -10.38L105.00 -10.50L105.00 -11.12L105.12 -11.25L105.12 -11.50L105.00 -11.75L104.62 -12.00L101.25 -12.00ZM90.50 -12.00L87.75 -11.00L87.75 -10.88L86.25 -9.38L86.12 -9.38L85.50 -7.38L85.38 -7.25L85.38 -7.00L85.25 -6.88L85.25 -4.62L86.00 -2.62L86.00 -2.25L87.88 -0.38L89.88 0.25L90.00 0.38L90.25 0.38L90.38 0.50L92.62 0.50L92.75 0.38L94.88 -0.25L96.88 -2.25L97.50 -4.25L97.62 -4.38L97.62 -4.62L97.75 -4.75L97.75 -6.75L97.50 -7.12L96.88 -9.25L95.00 -11.12L92.88 -11.75L92.50 -12.00ZM90.62 -10.88L92.25 -10.88L93.50 -10.25L95.12 -8.62L95.62 -7.00L95.75 -6.88L95.75 -6.50L95.88 -6.38L95.88 -5.12L95.75 -5.00L95.75 -4.62L95.62 -4.50L95.12 -2.75L93.62 -1.25L92.12 -0.50L90.88 -0.50L89.50 -1.12L87.75 -2.88L87.75 -3.12L87.12 -4.75L87.12 -6.62L87.25 -6.75L87.88 -8.75L89.25 -10.12ZM75.88 -12.00L75.62 -11.88L75.38 -11.50L75.62 -11.00L75.88 -10.88L77.75 -10.88L77.88 -10.75L77.88 -0.62L77.75 -0.50L75.75 -0.50L75.38 0.00L75.75 0.50L81.88 0.50L82.25 0.00L81.88 -0.50L79.88 -0.50L79.75 -0.62L79.75 -11.62L79.38 -12.00ZM53.75 -12.00L51.00 -11.00L51.00 -10.88L49.50 -9.38L49.38 -9.38L48.75 -7.38L48.62 -7.25L48.62 -7.00L48.50 -6.88L48.50 -4.62L49.25 -2.62L49.25 -2.25L51.12 -0.38L53.12 0.25L53.25 0.38L53.50 0.38L53.62 0.50L55.88 0.50L56.00 0.38L58.12 -0.25L60.12 -2.25L60.12 -2.62L59.75 -3.00L59.50 -3.00L59.25 -2.88L57.62 -1.25L56.00 -0.75L55.88 -0.62L55.50 -0.62L55.38 -0.50L54.12 -0.50L52.75 -1.12L51.00 -2.88L51.00 -3.12L50.38 -4.75L50.38 -6.62L50.50 -6.75L51.12 -8.75L52.50 -10.12L53.88 -10.88L56.38 -10.88L57.75 -10.12L58.38 -9.50L58.25 -9.12L57.75 -8.62L57.62 -8.62L57.50 -8.38L57.50 -7.88L58.38 -7.00L59.00 -6.88L60.12 -7.88L60.12 -9.25L58.25 -11.12L56.75 -11.88L56.50 -11.88L56.38 -12.00ZM33.00 -10.12L33.00 -9.88L32.88 -9.75L33.00 -9.62L33.00 -9.12L32.88 -9.00L33.00 -8.75L33.50 -8.38L33.62 -8.50L34.12 -8.50L34.25 -8.38L34.75 -8.75L34.88 -9.00L34.88 -9.88L34.75 -10.00L34.75 -10.25L35.88 -10.88L39.25 -10.88L40.25 -10.38L41.12 -9.62L41.12 -8.38L40.38 -7.75L39.75 -7.75L39.62 -7.62L39.00 -7.62L38.88 -7.50L38.25 -7.50L38.12 -7.38L37.50 -7.38L37.38 -7.25L36.75 -7.25L36.62 -7.12L35.88 -7.12L35.75 -7.00L33.25 -6.25L33.00 -6.00L32.12 -4.25L32.12 -2.25L33.00 -0.50L33.38 -0.25L33.62 -0.25L35.62 0.50L38.62 0.50L40.50 -0.50L41.50 -1.50L42.00 -0.50L43.88 0.50L45.12 0.50L45.50 0.00L45.12 -0.50L44.38 -0.50L43.62 -1.25L43.00 -2.50L43.00 -8.38L42.12 -10.12L41.12 -11.12L40.62 -11.25L39.25 -12.00L35.88 -12.00L34.50 -11.25L34.25 -11.25ZM41.12 -6.75L41.12 -2.62L39.88 -1.38L38.25 -0.50L36.12 -0.50L35.00 -1.00L34.50 -1.50L34.00 -2.50L34.00 -4.00L34.75 -5.38L36.38 -6.12L37.00 -6.12L37.12 -6.25L37.75 -6.25L37.88 -6.38L38.50 -6.38L38.62 -6.50L39.25 -6.50L39.38 -6.62L40.00 -6.62L40.12 -6.75L40.88 -6.75L41.00 -6.88ZM17.88 -12.00L17.50 -11.75L17.50 -11.12L17.88 -10.88L19.75 -10.88L19.88 -10.75L19.88 -0.62L19.75 -0.50L17.75 -0.50L17.50 -0.25L17.50 0.25L17.75 0.50L23.88 0.50L24.25 0.00L23.88 -0.50L21.88 -0.50L21.75 -0.62L21.75 -6.50L21.88 -6.62L22.50 -8.62L24.12 -10.25L25.38 -10.88L27.00 -10.88L27.12 -10.75L26.50 -10.12L26.50 -9.88L26.38 -9.75L27.50 -8.50L28.00 -8.50L28.88 -9.38L29.00 -9.38L29.12 -9.62L29.12 -10.75L29.00 -11.00L27.88 -12.00L25.25 -12.00L23.25 -11.00L23.12 -10.75L21.88 -9.50L21.75 -9.62L21.75 -11.62L21.38 -12.00ZM65.88 -17.62L65.62 -17.38L65.62 -12.12L65.50 -12.00L63.62 -12.00L63.25 -11.75L63.12 -11.38L63.25 -11.12L63.62 -10.88L65.50 -10.88L65.62 -10.75L65.62 -3.00L65.75 -2.88L65.75 -2.62L65.88 -2.50L66.50 -0.50L68.38 0.50L70.50 0.50L72.00 -0.25L72.38 -0.62L73.25 -2.50L73.12 -2.75L72.75 -3.00L72.38 -2.88L72.12 -2.62L71.50 -1.25L70.12 -0.50L68.88 -0.50L68.12 -1.38L68.12 -1.62L67.50 -3.25L67.50 -10.75L67.62 -10.88L70.25 -10.88L70.75 -11.25L70.75 -11.62L70.25 -12.00L67.62 -12.00L67.50 -12.12L67.50 -17.38L67.25 -17.62L66.75 -17.62L66.62 -17.50L66.38 -17.62ZM312.00 -17.75L311.50 -17.50L310.62 -16.50L310.62 -16.12L311.75 -15.00L312.38 -15.12L313.25 -16.00L313.25 -16.62ZM211.50 -17.75L211.25 -17.62L210.12 -16.38L210.25 -16.25L210.25 -16.00L211.38 -15.00L211.88 -15.12L212.88 -16.12L212.75 -16.75L212.62 -16.75ZM200.12 -17.75L199.62 -17.38L199.62 -16.88L199.88 -16.62L201.88 -16.62L202.00 -16.50L202.00 -10.50L201.88 -10.38L201.12 -11.12L199.38 -12.00L197.50 -12.00L194.75 -11.00L194.62 -10.75L193.38 -9.50L193.25 -9.50L193.00 -9.12L193.00 -8.88L192.12 -6.50L192.25 -6.38L192.25 -4.50L192.38 -4.38L193.00 -2.25L194.88 -0.38L196.88 0.25L197.25 0.50L199.50 0.50L201.25 -0.38L201.88 -1.00L202.00 -0.88L202.00 0.25L202.25 0.50L206.00 0.50L206.38 0.00L206.00 -0.50L204.00 -0.50L203.88 -0.62L203.88 -17.38L203.38 -17.75L203.12 -17.62L202.75 -17.62L202.62 -17.75L202.38 -17.62L200.25 -17.62ZM197.62 -10.88L199.25 -10.88L200.50 -10.25L202.00 -8.75L202.00 -2.62L200.62 -1.25L199.12 -0.50L197.88 -0.50L196.50 -1.12L194.75 -2.88L194.75 -3.12L194.12 -4.75L194.12 -6.75L194.88 -8.75L196.38 -10.25ZM157.12 -17.38L157.12 -16.88L157.50 -16.62L159.38 -16.62L159.50 -16.50L159.50 -0.62L159.38 -0.50L157.38 -0.50L157.12 -0.25L157.12 0.25L157.38 0.50L163.50 0.50L163.88 0.12L163.88 -0.12L163.50 -0.50L161.50 -0.50L161.38 -0.62L161.38 -8.25L161.62 -8.50L164.75 -8.50L165.88 -8.00L166.38 -7.50L166.88 -6.50L166.88 -6.25L167.25 -5.38L167.25 -5.00L167.50 -4.50L167.50 -4.12L167.75 -3.62L167.75 -3.25L168.00 -2.75L168.00 -2.38L168.25 -1.88L168.25 -1.50L168.50 -1.00L168.50 -0.62L169.62 0.50L171.75 0.50L172.00 0.25L172.62 -1.12L172.88 -1.38L172.88 -2.62L172.38 -3.00L172.00 -2.88L171.75 -2.50L171.75 -1.88L171.25 -1.38L170.88 -1.38L170.12 -2.25L170.12 -2.50L169.75 -3.12L169.75 -3.38L169.38 -4.00L169.38 -4.25L168.25 -6.62L168.00 -7.50L167.25 -8.25L167.88 -8.62L170.00 -9.25L171.12 -10.25L172.00 -12.00L172.00 -14.12L171.12 -15.88L170.25 -16.75L168.25 -17.38L168.12 -17.50L167.88 -17.50L167.50 -17.75L167.25 -17.75L167.12 -17.62L161.12 -17.62L161.00 -17.75L160.75 -17.62L160.25 -17.62L160.12 -17.75L159.88 -17.62L157.88 -17.62L157.62 -17.75ZM161.38 -16.50L161.50 -16.62L167.25 -16.62L168.62 -16.00L169.50 -15.12L170.12 -13.88L170.12 -12.25L169.50 -11.00L168.75 -10.25L167.25 -9.50L161.50 -9.50L161.38 -9.62ZM135.62 -17.75L135.38 -17.62L135.00 -17.12L135.38 -16.62L137.38 -16.62L137.50 -16.50L137.50 -0.62L137.38 -0.50L135.38 -0.50L135.00 0.00L135.38 0.50L141.50 0.50L141.75 0.25L141.75 -0.25L141.50 -0.50L139.50 -0.50L139.38 -0.62L139.38 -17.38L138.88 -17.75L138.62 -17.62L138.25 -17.62L138.12 -17.75L137.88 -17.62L135.75 -17.62ZM78.38 -17.75L77.12 -16.62L77.12 -16.00L78.00 -15.12L78.62 -15.00L79.75 -16.12L79.75 -16.50L79.62 -16.75L79.50 -16.75L78.88 -17.38L78.88 -17.50ZM14.62 -17.75L14.50 -17.62L14.12 -17.62L14.00 -17.75L13.75 -17.62L5.12 -17.62L5.00 -17.75L4.75 -17.62L4.25 -17.62L4.12 -17.75L3.88 -17.62L1.88 -17.62L1.62 -17.75L1.12 -17.38L1.12 -16.88L1.50 -16.62L3.38 -16.62L3.50 -16.50L3.50 -0.62L3.38 -0.50L1.50 -0.50L1.12 -0.25L1.12 0.25L1.50 0.50L7.50 0.50L7.88 0.25L7.88 -0.25L7.50 -0.50L5.62 -0.50L5.38 -0.75L5.38 -8.25L5.62 -8.50L9.12 -8.50L9.25 -8.38L9.25 -5.62L9.38 -5.38L9.62 -5.25L10.00 -5.25L10.38 -5.62L10.38 -12.25L10.00 -12.75L9.62 -12.75L9.25 -12.38L9.25 -9.62L9.12 -9.50L5.50 -9.50L5.38 -9.62L5.38 -16.50L5.50 -16.62L13.38 -16.62L13.50 -16.50L13.50 -15.88L13.62 -15.75L13.62 -15.12L13.75 -15.00L13.75 -14.38L13.88 -14.25L14.12 -12.12L14.50 -11.75L14.88 -11.75L15.25 -12.12L15.25 -17.25L15.12 -17.50ZM343.62 -20.88L343.38 -20.75L341.62 -19.00L341.50 -18.62L340.50 -17.12L340.12 -16.75L338.38 -13.25L338.38 -12.75L338.25 -12.62L338.25 -12.12L338.12 -12.00L338.12 -11.50L338.00 -11.38L337.75 -9.62L337.50 -9.00L337.62 -8.75L337.62 -6.00L337.50 -5.88L337.50 -5.62L337.75 -5.00L337.75 -4.50L337.88 -4.38L337.88 -3.88L338.00 -3.75L338.00 -3.25L338.12 -3.12L338.38 -1.38L338.62 -1.12L340.00 1.62L340.00 1.88L340.38 2.25L341.62 4.12L341.75 4.50L341.88 4.50L343.62 6.25L344.00 6.25L344.38 5.88L344.25 5.38L342.38 3.38L340.88 0.25L340.88 0.00L340.25 -1.62L340.12 -2.62L340.00 -2.75L340.00 -3.25L339.88 -3.38L339.88 -3.88L339.75 -4.00L339.75 -4.50L339.62 -4.62L339.62 -5.12L339.50 -5.25L339.50 -9.50L339.62 -9.62L339.62 -10.12L339.75 -10.25L339.75 -10.75L339.88 -10.88L340.12 -12.62L340.38 -13.12L340.38 -13.50L340.50 -13.62L340.88 -15.00L342.62 -18.50L344.25 -20.12L344.38 -20.38L344.12 -20.88ZM264.50 -21.00L264.12 -20.75L264.00 -20.50L264.00 -20.25L264.12 -20.12L264.12 5.38L264.00 5.50L264.00 5.75L264.38 6.25L270.50 6.25L270.88 5.88L270.88 5.62L270.75 5.38L270.38 5.12L270.12 5.12L270.00 5.25L266.12 5.25L266.00 5.12L266.00 -19.75L266.12 -19.88L270.38 -19.88L270.75 -20.12L270.88 -20.50L270.75 -20.75L270.38 -21.00Z"/><path transform="translate(611.56 817.38) scale(1.0340 1)" d="M2.25 -20.88L2.00 -20.75L2.00 -20.50L1.88 -20.38L2.00 -20.12L3.88 -18.12L5.38 -15.00L5.38 -14.75L6.00 -13.12L6.00 -12.75L6.12 -12.62L6.12 -12.12L6.25 -12.00L6.25 -11.50L6.38 -11.38L6.38 -10.88L6.50 -10.75L6.50 -10.25L6.62 -10.12L6.62 -9.62L6.75 -9.50L6.75 -8.88L6.88 -8.75L6.88 -6.00L6.75 -5.88L6.75 -5.12L6.62 -5.00L6.62 -4.50L6.50 -4.38L6.50 -3.88L6.38 -3.75L6.12 -2.00L6.00 -1.88L5.25 0.62L3.75 3.62L2.00 5.38L2.00 5.62L1.88 5.75L2.00 6.00L2.38 6.25L2.62 6.25L2.88 6.12L2.88 6.00L4.38 4.50L4.62 4.38L4.75 4.00L6.25 1.88L6.38 1.38L7.62 -1.12L7.88 -1.38L7.88 -1.88L8.00 -2.00L8.00 -2.50L8.12 -2.62L8.12 -3.12L8.25 -3.25L8.50 -5.00L8.75 -5.62L8.75 -9.12L8.50 -9.75L8.50 -10.25L8.38 -10.38L8.38 -10.88L8.25 -11.00L8.25 -11.50L8.12 -11.62L7.88 -13.38L7.62 -13.62L6.12 -16.75L4.62 -19.00L2.75 -20.88ZM13.88 -21.00L13.38 -20.62L13.38 -20.25L13.75 -19.88L18.12 -19.88L18.25 -19.75L18.25 5.12L18.12 5.25L14.12 5.25L13.88 5.12L13.38 5.50L13.38 5.88L13.75 6.25L19.75 6.25L20.12 6.00L20.12 -20.62L19.62 -21.00Z"/><path transform="translate(81.88 774.18) scale(1.0097 1)" d="M7.38 -18.12L6.62 -17.75L4.88 -17.25L4.50 -17.00L4.38 -16.62L2.75 -14.25L2.75 -13.62L2.62 -13.50L2.62 -13.00L2.50 -12.88L2.50 -12.38L2.38 -12.25L2.38 -11.75L2.25 -11.62L2.25 -11.12L2.12 -11.00L2.12 -10.50L2.00 -10.38L2.00 -7.12L2.12 -7.00L2.12 -6.50L2.25 -6.38L2.25 -5.88L2.38 -5.75L2.38 -5.25L2.50 -5.12L2.50 -4.62L2.62 -4.50L2.62 -4.00L2.75 -3.88L2.75 -3.25L4.38 -0.75L5.00 -0.25L6.75 0.25L7.12 0.50L9.50 0.50L9.62 0.38L9.88 0.38L10.00 0.25L12.00 -0.38L13.88 -3.12L14.00 -4.00L14.12 -4.12L14.12 -4.62L14.25 -4.75L14.25 -5.25L14.38 -5.38L14.38 -5.88L14.50 -6.00L14.50 -6.50L14.62 -6.62L14.62 -7.12L14.75 -7.25L14.75 -10.25L14.62 -10.38L14.62 -10.88L14.50 -11.00L14.50 -11.50L14.38 -11.62L14.38 -12.12L14.25 -12.25L14.25 -12.75L14.12 -12.88L14.12 -13.38L14.00 -13.50L13.88 -14.50L13.50 -14.88L12.25 -16.88L11.88 -17.25L9.75 -17.88L9.38 -18.12ZM7.62 -17.00L9.12 -17.00L10.62 -16.25L11.25 -15.62L12.12 -13.75L12.25 -12.75L12.38 -12.62L12.38 -12.12L12.50 -12.00L12.50 -11.50L12.62 -11.38L12.62 -10.88L12.75 -10.75L12.75 -10.12L12.88 -10.00L12.88 -7.62L12.75 -7.50L12.75 -6.88L12.62 -6.75L12.62 -6.25L12.50 -6.12L12.50 -5.62L12.38 -5.50L12.38 -5.00L12.25 -4.88L12.25 -4.38L12.12 -4.25L12.00 -3.38L11.38 -2.12L10.50 -1.25L9.00 -0.50L7.75 -0.50L7.62 -0.62L7.38 -0.62L6.38 -1.12L5.62 -1.75L4.62 -3.62L4.50 -4.62L4.38 -4.75L4.38 -5.25L4.25 -5.38L4.25 -5.88L4.12 -6.00L4.12 -6.50L4.00 -6.62L4.00 -7.12L3.88 -7.25L3.88 -10.25L4.00 -10.38L4.00 -10.88L4.12 -11.00L4.12 -11.50L4.25 -11.62L4.25 -12.12L4.38 -12.25L4.38 -12.75L4.50 -12.88L4.50 -13.38L4.62 -13.50L4.75 -14.25L5.50 -15.62L6.12 -16.25Z"/><path transform="translate(208.31 774.18) scale(1.0158 1)" d="M20.88 -2.25L19.75 -1.25L19.62 -1.25L19.50 -0.75L20.50 0.38L21.12 0.50L22.25 -0.62L22.25 -1.00L21.38 -2.00ZM29.12 -17.25L27.88 -16.12L27.88 -15.88L27.00 -14.25L27.00 -13.38L27.12 -13.25L27.12 -13.00L27.25 -13.00L28.00 -12.25L28.00 -12.12L28.25 -12.00L28.75 -12.12L29.75 -13.12L29.75 -13.62L28.50 -14.75L28.88 -15.62L29.50 -16.25L31.50 -16.88L31.62 -17.00L35.00 -17.00L36.50 -16.25L37.12 -15.62L37.88 -14.25L37.88 -12.50L37.38 -11.50L36.75 -10.88L34.62 -9.50L31.88 -8.12L31.62 -8.12L31.38 -7.88L29.75 -7.12L27.88 -5.25L27.88 -4.88L27.00 -2.50L27.00 0.00L27.38 0.50L27.75 0.50L28.12 0.12L28.12 -1.50L28.62 -2.00L29.88 -2.00L31.88 -0.88L32.12 -0.62L32.50 -0.50L32.75 -0.25L33.12 -0.12L33.38 0.12L33.75 0.25L34.00 0.50L37.75 0.50L39.00 -0.62L39.00 -0.88L39.88 -2.50L39.88 -2.75L39.75 -2.88L39.75 -3.88L39.88 -4.12L39.75 -4.38L39.25 -4.75L38.75 -4.38L38.75 -2.75L38.00 -2.00L36.75 -1.38L34.25 -1.38L32.88 -2.00L32.62 -2.00L32.25 -2.25L32.00 -2.25L31.62 -2.50L31.38 -2.50L31.00 -2.75L30.75 -2.75L30.38 -3.00L28.50 -3.00L28.38 -3.12L28.38 -3.38L28.88 -4.75L30.38 -6.25L32.38 -7.25L32.62 -7.25L33.00 -7.50L33.25 -7.50L33.62 -7.75L33.88 -7.75L34.25 -8.00L34.50 -8.00L34.88 -8.25L35.75 -8.50L36.50 -8.88L38.75 -10.38L39.88 -12.50L39.88 -12.75L39.75 -12.88L39.75 -13.88L39.88 -14.00L39.88 -14.25L38.88 -16.25L38.00 -17.12L36.00 -17.75L35.88 -17.88L35.62 -17.88L35.25 -18.12L31.62 -18.12L31.25 -17.88ZM7.38 -18.12L6.62 -17.75L4.88 -17.25L4.50 -17.00L4.38 -16.62L2.75 -14.25L2.75 -13.62L2.62 -13.50L2.62 -13.00L2.50 -12.88L2.50 -12.38L2.38 -12.25L2.38 -11.75L2.25 -11.62L2.25 -11.12L2.12 -11.00L2.12 -10.50L2.00 -10.38L2.00 -7.12L2.12 -7.00L2.12 -6.50L2.25 -6.38L2.25 -5.88L2.38 -5.75L2.38 -5.25L2.50 -5.12L2.50 -4.62L2.62 -4.50L2.62 -4.00L2.75 -3.88L2.75 -3.25L4.38 -0.75L5.00 -0.25L6.75 0.25L7.12 0.50L9.50 0.50L9.62 0.38L9.88 0.38L10.00 0.25L12.00 -0.38L13.88 -3.12L14.00 -4.00L14.12 -4.12L14.12 -4.62L14.25 -4.75L14.25 -5.25L14.38 -5.38L14.38 -5.88L14.50 -6.00L14.50 -6.50L14.62 -6.62L14.62 -7.12L14.75 -7.25L14.75 -10.25L14.62 -10.38L14.62 -10.88L14.50 -11.00L14.50 -11.50L14.38 -11.62L14.38 -12.12L14.25 -12.25L14.25 -12.75L14.12 -12.88L14.12 -13.38L14.00 -13.50L13.88 -14.50L13.50 -14.88L12.25 -16.88L11.88 -17.25L9.75 -17.88L9.38 -18.12ZM7.62 -17.00L9.12 -17.00L10.62 -16.25L11.25 -15.62L12.12 -13.75L12.25 -12.75L12.38 -12.62L12.38 -12.12L12.50 -12.00L12.50 -11.50L12.62 -11.38L12.62 -10.88L12.75 -10.75L12.75 -10.12L12.88 -10.00L12.88 -7.62L12.75 -7.50L12.75 -6.88L12.62 -6.75L12.62 -6.25L12.50 -6.12L12.50 -5.62L12.38 -5.50L12.38 -5.00L12.25 -4.88L12.25 -4.38L12.12 -4.25L12.00 -3.38L11.38 -2.12L10.50 -1.25L9.00 -0.50L7.75 -0.50L7.62 -0.62L7.38 -0.62L6.38 -1.12L5.62 -1.75L4.62 -3.62L4.50 -4.62L4.38 -4.75L4.38 -5.25L4.25 -5.38L4.25 -5.88L4.12 -6.00L4.12 -6.50L4.00 -6.62L4.00 -7.12L3.88 -7.25L3.88 -10.25L4.00 -10.38L4.00 -10.88L4.12 -11.00L4.12 -11.50L4.25 -11.62L4.25 -12.12L4.38 -12.25L4.38 -12.75L4.50 -12.88L4.50 -13.38L4.62 -13.50L4.75 -14.25L5.50 -15.62L6.12 -16.25Z"/><path transform="translate(347.59 774.18) scale(0.9961 1)" d="M20.88 -2.25L19.75 -1.25L19.62 -1.25L19.50 -0.75L20.50 0.38L21.12 0.50L22.25 -0.62L22.25 -1.00L21.38 -2.00ZM36.00 -18.12L35.62 -18.00L35.38 -17.75L34.75 -16.75L33.62 -15.38L33.38 -14.88L32.25 -13.50L32.00 -13.00L30.88 -11.62L30.62 -11.12L29.50 -9.75L29.25 -9.25L26.25 -5.25L26.25 -4.75L26.62 -4.50L34.50 -4.50L34.62 -4.38L34.62 -0.75L34.38 -0.50L32.38 -0.50L32.12 -0.25L32.12 0.25L32.38 0.50L38.62 0.50L39.00 0.00L38.62 -0.50L36.62 -0.50L36.50 -0.62L36.50 -4.38L36.62 -4.50L40.25 -4.50L40.62 -4.75L40.62 -5.25L40.38 -5.50L36.62 -5.50L36.50 -5.62L36.50 -17.75ZM34.50 -14.62L34.62 -14.50L34.62 -5.75L34.38 -5.50L28.00 -5.50L27.88 -5.62L28.25 -6.25L29.38 -7.62L29.62 -8.12ZM7.38 -18.12L6.62 -17.75L4.88 -17.25L4.50 -17.00L4.38 -16.62L2.75 -14.25L2.75 -13.62L2.62 -13.50L2.62 -13.00L2.50 -12.88L2.50 -12.38L2.38 -12.25L2.38 -11.75L2.25 -11.62L2.25 -11.12L2.12 -11.00L2.12 -10.50L2.00 -10.38L2.00 -7.12L2.12 -7.00L2.12 -6.50L2.25 -6.38L2.25 -5.88L2.38 -5.75L2.38 -5.25L2.50 -5.12L2.50 -4.62L2.62 -4.50L2.62 -4.00L2.75 -3.88L2.75 -3.25L4.38 -0.75L5.00 -0.25L6.75 0.25L7.12 0.50L9.50 0.50L9.62 0.38L9.88 0.38L10.00 0.25L12.00 -0.38L13.88 -3.12L14.00 -4.00L14.12 -4.12L14.12 -4.62L14.25 -4.75L14.25 -5.25L14.38 -5.38L14.38 -5.88L14.50 -6.00L14.50 -6.50L14.62 -6.62L14.62 -7.12L14.75 -7.25L14.75 -10.25L14.62 -10.38L14.62 -10.88L14.50 -11.00L14.50 -11.50L14.38 -11.62L14.38 -12.12L14.25 -12.25L14.25 -12.75L14.12 -12.88L14.12 -13.38L14.00 -13.50L13.88 -14.50L13.50 -14.88L12.25 -16.88L11.88 -17.25L9.75 -17.88L9.38 -18.12ZM7.62 -17.00L9.12 -17.00L10.62 -16.25L11.25 -15.62L12.12 -13.75L12.25 -12.75L12.38 -12.62L12.38 -12.12L12.50 -12.00L12.50 -11.50L12.62 -11.38L12.62 -10.88L12.75 -10.75L12.75 -10.12L12.88 -10.00L12.88 -7.62L12.75 -7.50L12.75 -6.88L12.62 -6.75L12.62 -6.25L12.50 -6.12L12.50 -5.62L12.38 -5.50L12.38 -5.00L12.25 -4.88L12.25 -4.38L12.12 -4.25L12.00 -3.38L11.38 -2.12L10.50 -1.25L9.00 -0.50L7.75 -0.50L7.62 -0.62L7.38 -0.62L6.38 -1.12L5.62 -1.75L4.62 -3.62L4.50 -4.62L4.38 -4.75L4.38 -5.25L4.25 -5.38L4.25 -5.88L4.12 -6.00L4.12 -6.50L4.00 -6.62L4.00 -7.12L3.88 -7.25L3.88 -10.25L4.00 -10.38L4.00 -10.88L4.12 -11.00L4.12 -11.50L4.25 -11.62L4.25 -12.12L4.38 -12.25L4.38 -12.75L4.50 -12.88L4.50 -13.38L4.62 -13.50L4.75 -14.25L5.50 -15.62L6.12 -16.25Z"/><path transform="translate(486.79 774.18) scale(1.0158 1)" d="M20.88 -2.25L19.75 -1.25L19.62 -1.25L19.50 -0.75L20.50 0.38L21.12 0.50L22.25 -0.62L22.25 -1.00L21.38 -2.00ZM36.00 -18.12L33.25 -18.12L32.88 -17.88L32.62 -17.88L32.50 -17.75L30.50 -17.12L30.50 -17.00L28.75 -15.25L28.12 -13.88L27.88 -13.62L27.88 -13.25L27.75 -13.12L27.75 -12.75L27.62 -12.62L27.62 -12.25L27.50 -12.12L27.50 -11.75L27.38 -11.62L27.38 -11.25L27.25 -11.12L27.25 -10.75L27.00 -10.12L27.00 -4.88L27.25 -4.50L27.25 -4.25L27.88 -2.62L27.88 -2.25L30.00 -0.25L30.25 -0.25L32.25 0.50L34.62 0.50L35.00 0.25L35.25 0.25L36.50 -0.25L36.88 -0.25L37.25 -0.50L37.38 -0.75L38.62 -2.00L38.88 -2.12L39.50 -4.12L39.62 -4.25L39.62 -4.50L39.75 -4.62L39.75 -4.88L39.88 -5.00L39.75 -5.25L39.88 -5.88L39.75 -6.00L39.75 -6.25L39.62 -6.38L39.62 -6.62L39.50 -6.75L38.88 -8.75L38.75 -8.75L37.00 -10.50L35.00 -11.12L34.62 -11.38L33.12 -11.38L33.00 -11.25L32.75 -11.25L32.62 -11.12L30.62 -10.50L29.12 -9.00L29.00 -9.12L29.00 -10.38L29.12 -10.50L29.12 -10.88L29.25 -11.00L29.62 -12.88L30.38 -14.50L32.00 -16.25L33.50 -17.00L35.88 -17.00L37.25 -16.25L37.50 -15.62L36.38 -14.62L36.25 -14.00L37.38 -12.88L38.00 -13.00L38.88 -13.88L39.00 -14.12L39.00 -15.25L38.75 -15.50L38.12 -16.75L38.12 -17.00ZM34.00 -10.38L35.75 -9.50L37.12 -8.12L37.75 -6.12L37.88 -6.00L37.88 -4.88L37.75 -4.75L37.12 -2.75L35.62 -1.25L34.12 -0.50L32.75 -0.50L31.25 -1.25L29.75 -2.75L29.00 -4.75L29.00 -6.12L29.75 -8.12L31.25 -9.62L31.50 -9.62L33.12 -10.25ZM7.38 -18.12L6.62 -17.75L4.88 -17.25L4.50 -17.00L4.38 -16.62L2.75 -14.25L2.75 -13.62L2.62 -13.50L2.62 -13.00L2.50 -12.88L2.50 -12.38L2.38 -12.25L2.38 -11.75L2.25 -11.62L2.25 -11.12L2.12 -11.00L2.12 -10.50L2.00 -10.38L2.00 -7.12L2.12 -7.00L2.12 -6.50L2.25 -6.38L2.25 -5.88L2.38 -5.75L2.38 -5.25L2.50 -5.12L2.50 -4.62L2.62 -4.50L2.62 -4.00L2.75 -3.88L2.75 -3.25L4.38 -0.75L5.00 -0.25L6.75 0.25L7.12 0.50L9.50 0.50L9.62 0.38L9.88 0.38L10.00 0.25L12.00 -0.38L13.88 -3.12L14.00 -4.00L14.12 -4.12L14.12 -4.62L14.25 -4.75L14.25 -5.25L14.38 -5.38L14.38 -5.88L14.50 -6.00L14.50 -6.50L14.62 -6.62L14.62 -7.12L14.75 -7.25L14.75 -10.25L14.62 -10.38L14.62 -10.88L14.50 -11.00L14.50 -11.50L14.38 -11.62L14.38 -12.12L14.25 -12.25L14.25 -12.75L14.12 -12.88L14.12 -13.38L14.00 -13.50L13.88 -14.50L13.50 -14.88L12.25 -16.88L11.88 -17.25L9.75 -17.88L9.38 -18.12ZM7.62 -17.00L9.12 -17.00L10.62 -16.25L11.25 -15.62L12.12 -13.75L12.25 -12.75L12.38 -12.62L12.38 -12.12L12.50 -12.00L12.50 -11.50L12.62 -11.38L12.62 -10.88L12.75 -10.75L12.75 -10.12L12.88 -10.00L12.88 -7.62L12.75 -7.50L12.75 -6.88L12.62 -6.75L12.62 -6.25L12.50 -6.12L12.50 -5.62L12.38 -5.50L12.38 -5.00L12.25 -4.88L12.25 -4.38L12.12 -4.25L12.00 -3.38L11.38 -2.12L10.50 -1.25L9.00 -0.50L7.75 -0.50L7.62 -0.62L7.38 -0.62L6.38 -1.12L5.62 -1.75L4.62 -3.62L4.50 -4.62L4.38 -4.75L4.38 -5.25L4.25 -5.38L4.25 -5.88L4.12 -6.00L4.12 -6.50L4.00 -6.62L4.00 -7.12L3.88 -7.25L3.88 -10.25L4.00 -10.38L4.00 -10.88L4.12 -11.00L4.12 -11.50L4.25 -11.62L4.25 -12.12L4.38 -12.25L4.38 -12.75L4.50 -12.88L4.50 -13.38L4.62 -13.50L4.75 -14.25L5.50 -15.62L6.12 -16.25Z"/><path transform="translate(626.03 774.18) scale(1.0158 1)" d="M20.88 -2.25L19.75 -1.25L19.62 -1.25L19.50 -0.75L20.50 0.38L21.12 0.50L22.25 -0.62L22.25 -1.00L21.38 -2.00ZM31.62 -18.12L30.88 -17.75L29.12 -17.25L28.75 -17.00L27.88 -15.25L27.88 -12.38L28.75 -10.62L29.00 -10.38L29.50 -10.25L29.88 -10.00L29.75 -9.88L29.12 -9.75L28.75 -9.50L27.88 -8.62L27.88 -8.38L27.00 -6.75L27.00 -3.25L28.00 -1.25L28.12 -1.25L29.25 -0.25L31.00 0.25L31.38 0.50L35.38 0.50L35.50 0.38L35.75 0.38L35.88 0.25L37.88 -0.38L39.00 -1.50L39.88 -3.38L39.75 -3.62L39.75 -6.38L39.88 -6.50L39.75 -7.00L38.88 -8.75L38.75 -8.75L37.75 -9.75L37.50 -9.75L37.00 -10.00L37.25 -10.25L37.62 -10.25L38.12 -10.62L39.00 -12.38L39.00 -15.25L38.75 -15.50L38.12 -16.75L38.12 -17.00L37.75 -17.25L35.62 -17.88L35.25 -18.12ZM31.88 -9.50L35.00 -9.50L36.50 -8.75L37.12 -8.12L37.88 -6.75L37.88 -3.38L37.00 -1.75L36.25 -1.12L35.25 -0.62L35.00 -0.62L34.88 -0.50L32.00 -0.50L31.88 -0.62L31.62 -0.62L30.25 -1.38L29.75 -1.88L29.00 -3.25L29.00 -6.75L29.62 -8.00L30.38 -8.75ZM30.38 -16.12L30.75 -16.50L31.75 -17.00L35.00 -17.00L36.12 -16.50L36.50 -16.12L37.12 -14.75L37.12 -12.75L36.50 -11.50L36.12 -11.12L34.75 -10.50L32.12 -10.50L32.00 -10.62L31.38 -10.75L30.50 -11.25L29.75 -12.75L29.75 -14.88ZM7.38 -18.12L6.62 -17.75L4.88 -17.25L4.50 -17.00L4.38 -16.62L2.75 -14.25L2.75 -13.62L2.62 -13.50L2.62 -13.00L2.50 -12.88L2.50 -12.38L2.38 -12.25L2.38 -11.75L2.25 -11.62L2.25 -11.12L2.12 -11.00L2.12 -10.50L2.00 -10.38L2.00 -7.12L2.12 -7.00L2.12 -6.50L2.25 -6.38L2.25 -5.88L2.38 -5.75L2.38 -5.25L2.50 -5.12L2.50 -4.62L2.62 -4.50L2.62 -4.00L2.75 -3.88L2.75 -3.25L4.38 -0.75L5.00 -0.25L6.75 0.25L7.12 0.50L9.50 0.50L9.62 0.38L9.88 0.38L10.00 0.25L12.00 -0.38L13.88 -3.12L14.00 -4.00L14.12 -4.12L14.12 -4.62L14.25 -4.75L14.25 -5.25L14.38 -5.38L14.38 -5.88L14.50 -6.00L14.50 -6.50L14.62 -6.62L14.62 -7.12L14.75 -7.25L14.75 -10.25L14.62 -10.38L14.62 -10.88L14.50 -11.00L14.50 -11.50L14.38 -11.62L14.38 -12.12L14.25 -12.25L14.25 -12.75L14.12 -12.88L14.12 -13.38L14.00 -13.50L13.88 -14.50L13.50 -14.88L12.25 -16.88L11.88 -17.25L9.75 -17.88L9.38 -18.12ZM7.62 -17.00L9.12 -17.00L10.62 -16.25L11.25 -15.62L12.12 -13.75L12.25 -12.75L12.38 -12.62L12.38 -12.12L12.50 -12.00L12.50 -11.50L12.62 -11.38L12.62 -10.88L12.75 -10.75L12.75 -10.12L12.88 -10.00L12.88 -7.62L12.75 -7.50L12.75 -6.88L12.62 -6.75L12.62 -6.25L12.50 -6.12L12.50 -5.62L12.38 -5.50L12.38 -5.00L12.25 -4.88L12.25 -4.38L12.12 -4.25L12.00 -3.38L11.38 -2.12L10.50 -1.25L9.00 -0.50L7.75 -0.50L7.62 -0.62L7.38 -0.62L6.38 -1.12L5.62 -1.75L4.62 -3.62L4.50 -4.62L4.38 -4.75L4.38 -5.25L4.25 -5.38L4.25 -5.88L4.12 -6.00L4.12 -6.50L4.00 -6.62L4.00 -7.12L3.88 -7.25L3.88 -10.25L4.00 -10.38L4.00 -10.88L4.12 -11.00L4.12 -11.50L4.25 -11.62L4.25 -12.12L4.38 -12.25L4.38 -12.75L4.50 -12.88L4.50 -13.38L4.62 -13.50L4.75 -14.25L5.50 -15.62L6.12 -16.25Z"/><path transform="translate(778.57 774.18) scale(0.9391 1)" d="M9.25 -18.12L8.88 -18.00L6.25 -15.38L4.88 -14.75L4.50 -14.38L4.50 -14.00L4.75 -13.75L5.38 -13.75L6.88 -14.50L7.75 -15.38L7.88 -15.25L7.88 -0.62L7.75 -0.50L4.88 -0.50L4.50 -0.25L4.50 0.25L4.88 0.50L12.75 0.50L13.00 0.25L13.00 -0.25L12.75 -0.50L9.88 -0.50L9.75 -0.62L9.75 -17.62L9.62 -17.88Z"/><path transform="translate(58.12 750.33) scale(0.9905 1)" d="M7.50 -18.38L6.75 -18.00L6.50 -18.00L5.25 -17.50L4.88 -17.50L4.50 -17.12L4.38 -16.75L2.88 -14.62L2.75 -13.62L2.62 -13.50L2.62 -13.00L2.50 -12.88L2.50 -12.38L2.38 -12.25L2.38 -11.75L2.25 -11.62L2.25 -11.12L2.12 -11.00L2.12 -10.50L2.00 -10.38L2.00 -7.38L2.12 -7.25L2.12 -6.75L2.25 -6.62L2.25 -6.12L2.38 -6.00L2.38 -5.50L2.50 -5.38L2.50 -4.88L2.62 -4.75L2.62 -4.25L2.75 -4.12L2.88 -3.12L4.62 -0.50L5.00 -0.25L5.38 -0.25L5.50 -0.12L6.88 0.25L7.25 0.50L9.62 0.50L9.75 0.38L10.00 0.38L10.12 0.25L12.12 -0.38L12.50 -0.75L14.12 -3.25L14.12 -3.75L14.25 -3.88L14.25 -4.38L14.38 -4.50L14.38 -5.00L14.50 -5.12L14.50 -5.62L14.62 -5.75L14.62 -6.25L14.75 -6.38L14.75 -6.88L15.00 -7.50L15.00 -7.88L14.88 -8.00L14.88 -9.88L15.00 -10.00L15.00 -10.25L14.75 -10.88L14.75 -11.38L14.62 -11.50L14.62 -12.00L14.50 -12.12L14.50 -12.62L14.38 -12.75L14.12 -14.50L12.50 -16.88L12.38 -17.25L12.00 -17.50L9.88 -18.12L9.50 -18.38ZM7.62 -17.25L9.25 -17.25L10.75 -16.50L11.38 -15.88L12.25 -14.12L12.38 -13.12L12.50 -13.00L12.50 -12.50L12.62 -12.38L12.62 -11.88L12.75 -11.75L12.75 -11.25L12.88 -11.12L12.88 -10.62L13.00 -10.50L13.00 -7.25L12.88 -7.12L12.88 -6.62L12.75 -6.50L12.75 -6.00L12.62 -5.88L12.62 -5.38L12.50 -5.25L12.50 -4.75L12.38 -4.62L12.25 -3.62L11.50 -2.12L10.50 -1.12L9.12 -0.50L7.88 -0.50L7.75 -0.62L7.50 -0.62L6.12 -1.38L5.50 -2.00L4.62 -3.88L4.62 -4.38L4.50 -4.50L4.50 -5.00L4.38 -5.12L4.38 -5.62L4.25 -5.75L4.25 -6.25L4.12 -6.38L4.12 -6.88L4.00 -7.00L4.00 -7.62L3.88 -7.75L3.88 -10.00L4.00 -10.12L4.00 -10.75L4.12 -10.88L4.12 -11.38L4.25 -11.50L4.25 -12.00L4.38 -12.12L4.38 -12.62L4.50 -12.75L4.50 -13.25L4.62 -13.38L4.62 -13.88L4.75 -14.00L4.88 -14.62L5.38 -15.62L6.38 -16.62Z"/><path transform="translate(32.90 501.72) scale(1.0000 1)" d="M21.12 -2.25L19.88 -1.12L19.88 -0.50L20.12 -0.38L20.75 0.38L21.38 0.50L22.50 -0.50L22.50 -1.12L21.38 -2.25ZM29.62 -18.38L29.12 -18.00L29.12 -17.50L29.00 -17.38L29.00 -16.88L28.88 -16.75L28.88 -16.25L28.75 -16.12L28.75 -15.62L28.62 -15.50L28.62 -15.00L28.50 -14.88L28.50 -14.38L28.38 -14.25L28.38 -13.75L28.25 -13.62L28.25 -13.12L28.12 -13.00L28.12 -12.50L28.00 -12.38L28.00 -11.88L27.88 -11.75L27.62 -10.00L27.38 -9.50L27.50 -9.00L27.88 -8.75L28.25 -8.88L29.88 -10.50L31.88 -11.25L32.25 -11.25L32.38 -11.38L34.50 -11.38L34.62 -11.25L34.88 -11.25L36.25 -10.50L37.62 -9.12L38.38 -7.12L38.38 -6.75L38.50 -6.62L38.50 -5.25L38.38 -5.12L38.38 -4.75L37.62 -2.75L36.12 -1.25L34.62 -0.50L32.38 -0.50L32.25 -0.62L31.88 -0.62L31.75 -0.75L30.00 -1.25L29.25 -2.00L28.88 -2.75L29.25 -3.00L29.25 -3.12L30.00 -3.88L30.12 -3.88L30.12 -4.50L28.88 -5.62L28.50 -5.50L27.50 -4.50L27.38 -4.25L27.50 -4.00L27.38 -3.38L28.25 -1.75L28.25 -1.50L29.38 -0.38L31.38 0.25L31.50 0.38L31.75 0.38L31.88 0.50L35.12 0.50L35.50 0.25L35.75 0.25L37.00 -0.25L37.38 -0.25L39.50 -2.25L39.50 -2.50L40.38 -4.88L40.38 -7.00L39.38 -9.75L39.12 -9.88L37.88 -11.12L37.75 -11.38L37.25 -11.62L35.50 -12.12L35.12 -12.38L31.88 -12.38L31.50 -12.12L31.25 -12.12L30.00 -11.62L29.62 -11.62L29.00 -11.12L28.88 -11.38L29.00 -11.50L29.00 -12.00L29.12 -12.12L29.12 -12.62L29.25 -12.75L29.25 -13.25L29.38 -13.38L29.38 -13.88L29.50 -14.00L29.75 -15.75L30.00 -16.38L34.00 -16.38L34.12 -16.50L34.62 -16.50L34.75 -16.62L35.25 -16.62L35.38 -16.75L35.88 -16.75L36.00 -16.88L37.75 -17.12L37.88 -17.25L38.25 -17.25L38.62 -17.50L38.75 -17.75L38.62 -17.88L38.62 -18.12L38.25 -18.38ZM7.50 -18.38L6.75 -18.00L6.50 -18.00L5.25 -17.50L4.88 -17.50L4.50 -17.12L4.38 -16.75L2.88 -14.62L2.75 -13.62L2.62 -13.50L2.62 -13.00L2.50 -12.88L2.50 -12.38L2.38 -12.25L2.38 -11.75L2.25 -11.62L2.25 -11.12L2.12 -11.00L2.12 -10.50L2.00 -10.38L2.00 -7.38L2.12 -7.25L2.12 -6.75L2.25 -6.62L2.25 -6.12L2.38 -6.00L2.38 -5.50L2.50 -5.38L2.50 -4.88L2.62 -4.75L2.62 -4.25L2.75 -4.12L2.88 -3.12L4.62 -0.50L5.00 -0.25L5.38 -0.25L5.50 -0.12L6.88 0.25L7.25 0.50L9.62 0.50L9.75 0.38L10.00 0.38L10.12 0.25L12.12 -0.38L12.50 -0.75L14.12 -3.25L14.12 -3.75L14.25 -3.88L14.25 -4.38L14.38 -4.50L14.38 -5.00L14.50 -5.12L14.50 -5.62L14.62 -5.75L14.62 -6.25L14.75 -6.38L14.75 -6.88L15.00 -7.50L15.00 -7.88L14.88 -8.00L14.88 -9.88L15.00 -10.00L15.00 -10.25L14.75 -10.88L14.75 -11.38L14.62 -11.50L14.62 -12.00L14.50 -12.12L14.50 -12.62L14.38 -12.75L14.12 -14.50L12.50 -16.88L12.38 -17.25L12.00 -17.50L9.88 -18.12L9.50 -18.38ZM7.62 -17.25L9.25 -17.25L10.75 -16.50L11.38 -15.88L12.25 -14.12L12.38 -13.12L12.50 -13.00L12.50 -12.50L12.62 -12.38L12.62 -11.88L12.75 -11.75L12.75 -11.25L12.88 -11.12L12.88 -10.62L13.00 -10.50L13.00 -7.25L12.88 -7.12L12.88 -6.62L12.75 -6.50L12.75 -6.00L12.62 -5.88L12.62 -5.38L12.50 -5.25L12.50 -4.75L12.38 -4.62L12.25 -3.62L11.50 -2.12L10.50 -1.12L9.12 -0.50L7.88 -0.50L7.75 -0.62L7.50 -0.62L6.12 -1.38L5.50 -2.00L4.62 -3.88L4.62 -4.38L4.50 -4.50L4.50 -5.00L4.38 -5.12L4.38 -5.62L4.25 -5.75L4.25 -6.25L4.12 -6.38L4.12 -6.88L4.00 -7.00L4.00 -7.62L3.88 -7.75L3.88 -10.00L4.00 -10.12L4.00 -10.75L4.12 -10.88L4.12 -11.38L4.25 -11.50L4.25 -12.00L4.38 -12.12L4.38 -12.62L4.50 -12.75L4.50 -13.25L4.62 -13.38L4.62 -13.88L4.75 -14.00L4.88 -14.62L5.38 -15.62L6.38 -16.62Z"/><path transform="translate(58.89 253.07) scale(0.9127 1)" d="M9.38 -18.38L9.25 -18.25L9.00 -18.25L6.38 -15.62L5.00 -15.00L4.62 -14.62L4.62 -14.12L5.00 -13.88L5.25 -13.88L7.00 -14.75L7.75 -15.50L8.00 -15.38L8.00 -0.75L7.75 -0.50L4.88 -0.50L4.50 0.00L4.88 0.50L12.88 0.50L13.25 0.12L13.25 -0.12L12.88 -0.50L10.00 -0.50L9.88 -0.62L9.88 -18.00Z"/><path transform="translate(145.35 465.17) scale(0.9737 1)" d="M43.25 -18.75L42.88 -18.38L42.88 -18.00L42.75 -17.88L42.75 -17.62L42.62 -17.50L42.62 -17.25L42.50 -17.12L42.50 -16.88L42.38 -16.75L42.38 -16.50L42.25 -16.38L42.25 -16.12L42.12 -16.00L42.12 -15.75L42.00 -15.62L42.00 -15.38L41.88 -15.25L41.88 -15.00L41.75 -14.88L41.75 -14.62L41.62 -14.50L41.62 -14.25L41.50 -14.12L41.50 -13.88L41.38 -13.75L41.38 -13.50L41.25 -13.38L41.25 -13.12L41.12 -13.00L41.12 -12.75L41.00 -12.62L41.00 -12.38L40.88 -12.25L40.88 -12.00L40.75 -11.88L40.75 -11.62L40.62 -11.50L40.62 -11.25L40.50 -11.12L40.50 -10.88L40.38 -10.75L40.38 -10.50L40.25 -10.38L40.25 -10.12L40.12 -10.00L38.75 -5.62L38.50 -5.25L38.50 -4.88L38.38 -4.75L37.12 -0.75L36.88 -0.50L35.38 -0.50L35.12 -0.25L35.12 0.25L35.38 0.50L41.00 0.50L41.38 0.12L41.38 -0.12L41.00 -0.50L38.25 -0.50L38.12 -0.62L38.75 -2.62L38.88 -2.75L38.88 -3.00L39.00 -3.12L39.00 -3.38L39.12 -3.50L39.12 -3.75L39.25 -3.88L39.25 -4.12L39.38 -4.25L39.38 -4.50L39.75 -4.75L46.38 -4.75L46.75 -4.25L47.88 -0.62L47.75 -0.50L45.88 -0.50L45.50 0.00L45.88 0.50L51.50 0.50L51.75 0.25L51.75 -0.25L51.50 -0.50L50.00 -0.50L49.75 -0.88L49.75 -1.12L49.62 -1.25L49.62 -1.50L49.50 -1.62L49.50 -1.88L49.38 -2.00L49.38 -2.25L49.25 -2.38L49.25 -2.62L49.12 -2.75L49.12 -3.00L49.00 -3.12L49.00 -3.38L48.88 -3.50L48.88 -3.75L48.75 -3.88L48.75 -4.12L48.62 -4.25L48.62 -4.50L48.50 -4.62L48.50 -4.88L48.38 -5.00L48.38 -5.25L48.25 -5.38L48.25 -5.62L48.12 -5.75L48.12 -6.00L48.00 -6.12L48.00 -6.38L47.88 -6.50L47.88 -6.75L47.75 -6.88L47.75 -7.12L47.62 -7.25L47.62 -7.50L47.50 -7.62L47.50 -7.88L47.38 -8.00L47.38 -8.25L47.25 -8.38L47.25 -8.62L47.12 -8.75L47.12 -9.00L47.00 -9.12L47.00 -9.38L46.88 -9.50L46.88 -9.75L46.75 -9.88L46.75 -10.12L46.62 -10.25L46.62 -10.50L46.50 -10.62L46.50 -10.88L46.38 -11.00L46.38 -11.25L46.25 -11.38L46.25 -11.62L46.12 -11.75L46.12 -12.00L46.00 -12.12L46.00 -12.38L45.88 -12.50L45.88 -12.75L45.75 -12.88L45.75 -13.12L45.62 -13.25L45.62 -13.50L45.50 -13.62L45.50 -13.88L45.38 -14.00L45.38 -14.25L45.25 -14.38L45.25 -14.62L45.12 -14.75L45.12 -15.00L45.00 -15.12L45.00 -15.38L44.00 -18.12L44.00 -18.50L43.62 -18.75ZM43.00 -15.12L43.25 -14.75L43.25 -14.50L43.38 -14.38L43.38 -14.12L43.50 -14.00L43.50 -13.75L43.62 -13.62L43.62 -13.38L43.75 -13.25L43.75 -13.00L43.88 -12.88L43.88 -12.62L44.00 -12.50L44.00 -12.25L44.12 -12.12L44.12 -11.88L44.25 -11.75L44.25 -11.50L44.38 -11.38L44.38 -11.12L44.50 -11.00L44.50 -10.75L44.62 -10.62L44.62 -10.38L44.75 -10.25L44.75 -10.00L44.88 -9.88L44.88 -9.62L45.00 -9.50L45.00 -9.25L45.12 -9.12L45.12 -8.88L46.12 -6.12L46.12 -5.88L46.00 -5.75L40.00 -5.75L39.88 -5.88L40.50 -7.88L40.62 -8.00L40.62 -8.25L40.75 -8.38L40.75 -8.62L40.88 -8.75L40.88 -9.00L41.00 -9.12L41.00 -9.38L41.12 -9.50L41.12 -9.75L41.25 -9.88L41.25 -10.12L41.38 -10.25L41.38 -10.50L41.50 -10.62L41.50 -10.88L41.62 -11.00L41.62 -11.25L41.75 -11.38L41.75 -11.62L41.88 -11.75L41.88 -12.00L42.00 -12.12L42.00 -12.38L42.12 -12.50L42.12 -12.75L42.25 -12.88L42.25 -13.12L42.38 -13.25L42.38 -13.50L42.50 -13.62L42.50 -13.88L42.62 -14.00L42.62 -14.25L42.75 -14.38L42.75 -14.62L42.88 -14.75L42.88 -15.00ZM25.88 -18.75L25.50 -18.38L25.50 -18.12L25.38 -18.00L25.38 -17.75L25.25 -17.62L25.25 -17.38L25.12 -17.25L25.12 -17.00L25.00 -16.88L25.00 -16.62L24.88 -16.50L24.88 -16.25L24.75 -16.12L24.75 -15.88L24.62 -15.75L24.62 -15.50L24.50 -15.38L24.50 -15.12L24.38 -15.00L24.38 -14.75L24.25 -14.62L24.25 -14.38L24.12 -14.25L24.12 -14.00L24.00 -13.88L24.00 -13.62L23.88 -13.50L23.88 -13.25L23.75 -13.12L23.75 -12.88L23.62 -12.75L23.62 -12.50L23.50 -12.38L23.50 -12.12L23.38 -12.00L23.38 -11.75L23.25 -11.62L23.25 -11.38L23.12 -11.25L23.12 -11.00L23.00 -10.88L23.00 -10.62L22.88 -10.50L22.88 -10.25L22.75 -10.12L22.75 -9.88L22.62 -9.75L22.62 -9.50L22.50 -9.38L22.50 -9.12L22.38 -9.00L22.38 -8.75L22.25 -8.62L22.25 -8.38L22.12 -8.25L22.12 -8.00L22.00 -7.88L22.00 -7.62L21.88 -7.50L21.88 -7.25L21.75 -7.12L21.75 -6.88L21.62 -6.75L21.62 -6.50L21.50 -6.38L21.50 -6.12L21.38 -6.00L21.38 -5.75L21.25 -5.62L21.25 -5.38L21.12 -5.25L19.75 -0.88L19.50 -0.50L18.00 -0.50L17.75 -0.25L17.75 0.25L18.00 0.50L23.62 0.50L24.00 0.12L24.00 -0.12L23.62 -0.50L20.88 -0.50L20.75 -0.62L21.38 -2.62L21.50 -2.75L21.50 -3.00L21.62 -3.12L21.62 -3.38L21.75 -3.50L21.75 -3.75L21.88 -3.88L21.88 -4.12L22.00 -4.25L22.00 -4.50L22.25 -4.75L29.00 -4.75L29.38 -4.25L30.50 -0.62L30.38 -0.50L28.50 -0.50L28.12 -0.12L28.12 0.12L28.50 0.50L34.12 0.50L34.38 0.25L34.38 -0.25L34.12 -0.50L32.62 -0.50L32.38 -0.88L32.38 -1.12L32.25 -1.25L32.25 -1.50L32.12 -1.62L32.12 -1.88L32.00 -2.00L32.00 -2.25L31.88 -2.38L31.88 -2.62L31.75 -2.75L31.75 -3.00L31.62 -3.12L31.62 -3.38L31.50 -3.50L31.50 -3.75L31.38 -3.88L31.38 -4.12L31.25 -4.25L31.25 -4.50L31.12 -4.62L31.12 -4.88L31.00 -5.00L31.00 -5.25L30.88 -5.38L30.88 -5.62L30.75 -5.75L30.75 -6.00L30.62 -6.12L30.62 -6.38L30.50 -6.50L30.50 -6.75L30.38 -6.88L30.38 -7.12L30.25 -7.25L30.25 -7.50L30.12 -7.62L30.12 -7.88L30.00 -8.00L30.00 -8.25L29.88 -8.38L29.88 -8.62L29.75 -8.75L29.75 -9.00L29.62 -9.12L29.62 -9.38L29.50 -9.50L29.50 -9.75L29.38 -9.88L29.38 -10.12L29.25 -10.25L29.25 -10.50L29.12 -10.62L29.12 -10.88L29.00 -11.00L29.00 -11.25L28.88 -11.38L28.88 -11.62L28.75 -11.75L28.75 -12.00L28.62 -12.12L28.62 -12.38L28.50 -12.50L28.50 -12.75L28.38 -12.88L28.38 -13.12L28.25 -13.25L28.25 -13.50L28.12 -13.62L28.12 -13.88L28.00 -14.00L28.00 -14.25L27.88 -14.38L27.88 -14.62L27.75 -14.75L27.75 -15.00L27.62 -15.12L27.62 -15.38L26.62 -18.12L26.62 -18.50L26.25 -18.75ZM25.62 -15.12L25.88 -14.75L25.88 -14.50L26.00 -14.38L26.00 -14.12L26.12 -14.00L26.12 -13.75L26.25 -13.62L26.25 -13.38L26.38 -13.25L26.38 -13.00L26.50 -12.88L26.50 -12.62L26.62 -12.50L26.62 -12.25L26.75 -12.12L26.75 -11.88L26.88 -11.75L26.88 -11.50L27.00 -11.38L27.00 -11.12L27.12 -11.00L27.12 -10.75L27.25 -10.62L27.25 -10.38L27.38 -10.25L27.38 -10.00L27.50 -9.88L27.50 -9.62L27.62 -9.50L27.62 -9.25L27.75 -9.12L27.75 -8.88L28.75 -6.12L28.75 -5.88L28.62 -5.75L22.62 -5.75L22.50 -5.88L23.12 -7.88L23.25 -8.00L23.25 -8.25L23.38 -8.38L23.38 -8.62L23.50 -8.75L23.50 -9.00L23.62 -9.12L23.62 -9.38L23.75 -9.50L23.75 -9.75L23.88 -9.88L23.88 -10.12L24.00 -10.25L24.00 -10.50L24.12 -10.62L24.12 -10.88L24.25 -11.00L24.25 -11.25L24.38 -11.38L24.38 -11.62L24.50 -11.75L24.50 -12.00L24.62 -12.12L24.62 -12.38L24.75 -12.50L24.75 -12.75L24.88 -12.88L24.88 -13.12L25.00 -13.25L25.00 -13.50L25.12 -13.62L25.12 -13.88L25.25 -14.00L25.25 -14.25L25.38 -14.38L25.38 -14.62L25.50 -14.75L25.50 -15.00ZM15.00 -18.75L14.62 -18.75L14.25 -18.50L13.88 -17.12L13.62 -16.75L13.50 -16.75L12.62 -17.62L12.62 -17.75L9.88 -18.75L6.62 -18.75L6.50 -18.62L6.25 -18.62L6.12 -18.50L4.12 -17.88L2.12 -15.88L2.00 -15.62L2.12 -15.50L2.12 -14.12L2.00 -13.88L3.00 -11.88L4.00 -10.88L5.62 -10.12L5.88 -9.88L6.25 -9.88L6.38 -9.75L10.75 -8.38L12.75 -7.38L14.25 -5.88L14.25 -2.88L12.62 -1.25L12.38 -1.25L10.38 -0.50L8.00 -0.50L7.88 -0.62L7.50 -0.62L7.38 -0.75L5.62 -1.25L3.88 -3.00L3.25 -5.12L2.75 -5.75L2.50 -5.75L2.12 -5.50L2.12 -5.25L2.00 -5.12L2.12 -5.00L2.12 -0.12L2.00 0.00L2.38 0.50L2.75 0.50L3.12 0.25L3.12 0.00L3.75 -1.62L5.00 -0.38L7.00 0.25L7.12 0.38L7.38 0.38L7.50 0.50L10.75 0.50L10.88 0.38L11.12 0.38L11.25 0.25L13.25 -0.38L15.25 -2.38L15.38 -2.62L15.25 -2.88L15.25 -5.75L15.38 -5.88L15.38 -6.12L14.38 -8.12L13.38 -9.12L11.75 -9.88L11.50 -10.12L11.12 -10.12L11.00 -10.25L6.62 -11.62L6.25 -11.88L6.00 -11.88L4.62 -12.62L3.12 -14.12L3.12 -15.38L4.75 -17.00L5.00 -17.00L6.62 -17.62L7.00 -17.62L7.12 -17.75L9.50 -17.75L9.62 -17.62L11.75 -17.00L13.50 -15.25L14.00 -13.62L14.12 -13.50L14.12 -13.12L14.62 -12.50L14.88 -12.50L15.12 -12.62L15.38 -13.00L15.38 -13.25L15.25 -13.38L15.25 -18.00L15.38 -18.25ZM60.88 -18.88L60.75 -18.75L60.50 -18.75L60.38 -18.62L60.12 -18.62L60.00 -18.50L58.00 -17.88L56.00 -15.88L55.38 -14.50L55.12 -14.25L55.00 -13.38L54.88 -13.25L54.88 -12.88L54.75 -12.75L54.75 -12.38L54.62 -12.25L54.62 -11.88L54.50 -11.75L54.50 -11.38L54.25 -10.75L54.25 -7.50L54.38 -7.38L54.38 -7.00L54.50 -6.88L54.50 -6.50L54.62 -6.38L54.62 -6.00L54.75 -5.88L55.12 -4.00L55.38 -3.75L56.00 -2.38L58.00 -0.38L60.00 0.25L60.12 0.38L60.38 0.38L60.50 0.50L62.88 0.50L65.62 -0.50L65.75 -0.75L67.12 -2.12L67.38 -2.25L68.38 -4.25L68.38 -4.75L68.50 -4.88L68.50 -5.25L68.62 -5.38L69.00 -7.25L69.25 -7.75L69.25 -8.00L69.12 -8.12L69.12 -10.12L69.25 -10.25L69.25 -10.50L69.00 -11.00L69.00 -11.38L68.88 -11.50L68.88 -11.88L68.75 -12.00L68.75 -12.38L68.62 -12.50L68.62 -12.88L68.38 -13.50L68.38 -14.00L67.38 -16.00L67.12 -16.12L65.75 -17.50L65.62 -17.75L65.12 -18.00L64.88 -18.00L62.88 -18.75L61.00 -18.75ZM61.00 -17.75L62.38 -17.75L62.50 -17.62L62.75 -17.62L64.12 -16.88L65.50 -15.50L66.38 -13.88L66.38 -13.62L66.62 -13.12L66.62 -12.75L66.75 -12.62L66.75 -12.25L66.88 -12.12L66.88 -11.75L67.00 -11.62L67.00 -11.25L67.12 -11.12L67.12 -10.75L67.25 -10.62L67.25 -7.62L67.12 -7.50L67.12 -7.12L67.00 -7.00L67.00 -6.62L66.88 -6.50L66.88 -6.12L66.75 -6.00L66.75 -5.62L66.62 -5.50L66.62 -5.12L66.50 -5.00L66.38 -4.38L65.50 -2.75L64.12 -1.38L62.38 -0.50L61.00 -0.50L59.50 -1.25L57.75 -3.00L56.88 -4.75L56.88 -5.12L56.75 -5.25L56.75 -5.62L56.62 -5.75L56.62 -6.12L56.50 -6.25L56.50 -6.62L56.25 -7.25L56.25 -7.75L56.12 -7.88L56.12 -10.38L56.25 -10.50L56.25 -11.00L56.38 -11.12L56.38 -11.50L56.50 -11.62L56.88 -13.50L57.75 -15.25L59.50 -17.00Z"/><path transform="translate(147.54 499.47) scale(0.9520 1)" d="M59.50 -18.75L59.12 -18.50L58.88 -18.50L58.75 -18.38L56.75 -17.75L54.75 -15.75L54.75 -15.50L54.12 -14.25L53.88 -14.00L53.88 -13.50L53.75 -13.38L53.75 -13.00L53.62 -12.88L53.25 -11.00L53.00 -10.50L53.00 -7.62L53.25 -7.12L53.25 -6.75L53.38 -6.62L53.38 -6.25L53.50 -6.12L53.50 -5.75L53.62 -5.62L53.62 -5.25L53.88 -4.62L53.88 -4.12L54.12 -3.88L54.88 -2.25L56.62 -0.50L57.00 -0.25L57.38 -0.25L57.50 -0.12L58.88 0.25L59.25 0.50L61.75 0.50L62.12 0.25L62.38 0.25L63.62 -0.25L64.00 -0.25L66.12 -2.25L66.88 -3.88L67.12 -4.12L67.12 -4.62L67.25 -4.75L67.25 -5.12L67.38 -5.25L67.75 -7.12L68.00 -7.62L68.00 -10.50L67.75 -11.00L67.75 -11.38L67.62 -11.50L67.62 -11.88L67.50 -12.00L67.50 -12.38L67.38 -12.50L67.38 -12.88L67.12 -13.50L67.12 -14.00L66.88 -14.25L66.25 -15.50L66.25 -15.75L64.25 -17.75L62.25 -18.38L62.12 -18.50L61.88 -18.50L61.75 -18.62L61.50 -18.62L61.38 -18.75L61.12 -18.62L59.88 -18.62L59.75 -18.75ZM59.75 -17.62L61.25 -17.62L62.75 -16.88L64.38 -15.25L65.12 -13.88L65.12 -13.62L65.38 -13.12L65.38 -12.75L65.50 -12.62L65.50 -12.25L65.62 -12.12L65.62 -11.75L65.75 -11.62L65.75 -11.25L65.88 -11.12L65.88 -10.75L66.00 -10.62L66.00 -7.50L65.88 -7.38L65.88 -7.00L65.75 -6.88L65.75 -6.50L65.62 -6.38L65.62 -6.00L65.50 -5.88L65.25 -4.62L64.38 -2.88L62.75 -1.25L61.12 -0.50L59.88 -0.50L58.25 -1.25L56.62 -2.88L55.75 -4.62L55.50 -5.88L55.38 -6.00L55.38 -6.38L55.25 -6.50L55.25 -6.88L55.12 -7.00L55.12 -7.38L55.00 -7.50L55.00 -10.62L55.12 -10.75L55.12 -11.12L55.25 -11.25L55.25 -11.62L55.38 -11.75L55.38 -12.12L55.50 -12.25L55.50 -12.62L55.62 -12.75L55.62 -13.12L55.75 -13.25L55.88 -13.88L56.62 -15.25L58.25 -16.88ZM36.62 -18.38L36.62 -18.00L37.00 -17.62L39.12 -17.62L39.25 -17.50L39.25 -0.62L39.12 -0.50L37.00 -0.50L36.62 -0.12L36.62 0.12L37.00 0.50L50.38 0.50L50.62 0.25L50.62 -5.38L50.12 -5.75L49.88 -5.62L49.50 -5.12L49.50 -4.25L49.38 -4.12L49.38 -3.50L49.25 -3.38L49.00 -1.25L48.88 -1.12L48.88 -0.62L48.75 -0.50L41.25 -0.50L41.12 -0.62L41.12 -17.50L41.25 -17.62L43.38 -17.62L43.75 -18.00L43.75 -18.38L43.25 -18.75L43.00 -18.62L40.88 -18.62L40.75 -18.75L40.50 -18.75L40.38 -18.62L40.00 -18.62L39.88 -18.75L39.62 -18.75L39.50 -18.62L37.38 -18.62L37.12 -18.75ZM26.75 -18.75L26.25 -18.38L26.12 -17.62L26.00 -17.50L26.00 -17.25L25.88 -17.12L25.88 -16.88L25.75 -16.75L25.75 -16.50L25.62 -16.38L25.62 -16.12L25.50 -16.00L25.50 -15.75L25.38 -15.62L25.38 -15.38L25.25 -15.25L25.25 -15.00L25.12 -14.88L25.12 -14.62L25.00 -14.50L25.00 -14.25L24.88 -14.12L24.88 -13.88L24.75 -13.75L24.75 -13.50L24.62 -13.38L24.62 -13.12L24.50 -13.00L24.50 -12.75L24.38 -12.62L24.38 -12.38L24.25 -12.25L24.25 -12.00L24.12 -11.88L24.12 -11.62L24.00 -11.50L24.00 -11.25L23.88 -11.12L23.88 -10.88L23.75 -10.75L23.75 -10.50L23.62 -10.38L23.62 -10.12L23.50 -10.00L22.12 -5.62L21.88 -5.25L21.88 -4.88L21.75 -4.75L20.50 -0.75L20.25 -0.50L18.88 -0.50L18.50 -0.25L18.50 0.25L18.88 0.50L24.38 0.50L24.75 0.12L24.75 -0.12L24.38 -0.50L21.62 -0.50L21.50 -0.62L22.12 -2.62L22.25 -2.75L22.25 -3.00L22.38 -3.12L22.38 -3.38L22.50 -3.50L22.50 -3.75L22.62 -3.88L22.62 -4.12L22.75 -4.25L22.75 -4.50L22.88 -4.62L29.75 -4.62L30.00 -4.38L30.00 -4.12L30.12 -4.00L30.12 -3.75L30.25 -3.62L30.25 -3.38L31.25 -0.62L31.12 -0.50L29.25 -0.50L28.88 -0.25L28.88 0.25L29.25 0.50L34.75 0.50L35.12 0.12L35.12 -0.12L34.75 -0.50L33.38 -0.50L33.12 -0.75L33.12 -1.00L33.00 -1.12L33.00 -1.38L32.88 -1.50L32.88 -1.75L32.75 -1.88L32.75 -2.12L32.62 -2.25L32.62 -2.50L32.50 -2.62L32.50 -2.88L32.38 -3.00L32.38 -3.25L32.25 -3.38L32.25 -3.62L32.12 -3.75L32.12 -4.00L32.00 -4.12L32.00 -4.38L31.88 -4.50L31.88 -4.75L31.75 -4.88L31.75 -5.12L31.62 -5.25L31.62 -5.50L31.50 -5.62L31.50 -5.88L31.38 -6.00L31.38 -6.25L31.25 -6.38L31.25 -6.62L31.12 -6.75L31.12 -7.00L31.00 -7.12L31.00 -7.38L30.88 -7.50L30.88 -7.75L30.75 -7.88L30.75 -8.12L30.62 -8.25L30.62 -8.50L30.50 -8.62L30.50 -8.88L30.38 -9.00L30.38 -9.25L30.25 -9.38L30.25 -9.62L30.12 -9.75L30.12 -10.00L30.00 -10.12L30.00 -10.38L29.88 -10.50L29.88 -10.75L29.75 -10.88L29.75 -11.12L29.62 -11.25L29.62 -11.50L29.50 -11.62L29.50 -11.88L29.38 -12.00L29.38 -12.25L29.25 -12.38L29.25 -12.62L29.12 -12.75L29.12 -13.00L29.00 -13.12L29.00 -13.38L28.88 -13.50L28.88 -13.75L28.75 -13.88L27.25 -18.50ZM26.38 -15.00L26.50 -14.88L26.50 -14.62L26.62 -14.50L26.62 -14.25L26.75 -14.12L26.75 -13.88L26.88 -13.75L26.88 -13.50L27.00 -13.38L27.00 -13.12L27.12 -13.00L27.12 -12.75L27.25 -12.62L27.25 -12.38L27.38 -12.25L27.38 -12.00L27.50 -11.88L27.50 -11.62L27.62 -11.50L27.62 -11.25L27.75 -11.12L27.75 -10.88L27.88 -10.75L27.88 -10.50L28.00 -10.38L28.00 -10.12L28.12 -10.00L28.12 -9.75L28.25 -9.62L28.25 -9.38L28.38 -9.25L28.38 -9.00L28.50 -8.88L28.50 -8.62L29.50 -5.88L29.38 -5.75L23.38 -5.75L23.25 -5.88L23.88 -7.88L24.00 -8.00L24.00 -8.25L24.12 -8.38L24.12 -8.62L24.25 -8.75L24.25 -9.00L24.38 -9.12L24.38 -9.38L24.50 -9.50L24.50 -9.75L24.62 -9.88L24.62 -10.12L24.75 -10.25L24.75 -10.50L24.88 -10.62L24.88 -10.88L25.00 -11.00L25.00 -11.25L25.12 -11.38L25.12 -11.62L25.25 -11.75L25.25 -12.00L25.38 -12.12L25.38 -12.38L25.50 -12.50L25.50 -12.75L25.62 -12.88L25.62 -13.12L25.75 -13.25L25.75 -13.50L25.88 -13.62L25.88 -13.88L26.00 -14.00L26.00 -14.25L26.12 -14.38L26.12 -14.62ZM0.62 -18.62L0.38 -18.38L0.38 -17.88L0.75 -17.62L2.25 -17.62L2.50 -17.38L8.12 -8.50L8.12 -0.62L8.00 -0.50L5.88 -0.50L5.50 -0.12L5.50 0.12L5.88 0.50L12.25 0.50L12.62 0.25L12.62 -0.25L12.25 -0.50L10.12 -0.50L10.00 -0.62L10.00 -8.38L15.88 -17.62L17.38 -17.62L17.75 -17.88L17.75 -18.38L17.25 -18.75L17.12 -18.62L15.75 -18.62L15.62 -18.75L15.38 -18.62L12.25 -18.62L12.12 -18.75L11.62 -18.38L11.62 -17.88L12.00 -17.62L14.38 -17.62L14.50 -17.38L13.75 -16.38L13.62 -16.00L12.88 -15.00L12.75 -14.62L12.00 -13.62L11.88 -13.25L11.12 -12.25L11.00 -11.88L10.25 -10.88L10.12 -10.50L9.50 -9.75L8.50 -11.12L8.38 -11.50L7.62 -12.50L7.50 -12.88L6.75 -13.88L6.62 -14.25L5.88 -15.25L5.75 -15.62L4.50 -17.50L4.62 -17.62L6.25 -17.62L6.62 -18.12L6.50 -18.38L6.00 -18.75L5.88 -18.62L3.62 -18.62L3.50 -18.75L3.25 -18.62L2.75 -18.62L2.62 -18.75L2.38 -18.62L1.12 -18.62L1.00 -18.75Z"/><path transform="translate(145.46 531.48) scale(1.0191 1)" d="M109.38 -12.12L107.88 -11.38L106.88 -10.38L106.75 -10.38L106.75 -10.12L106.62 -10.00L106.62 -8.25L106.75 -8.00L107.75 -7.00L109.12 -6.38L109.38 -6.12L110.00 -6.00L110.38 -5.75L110.62 -5.75L111.00 -5.50L111.25 -5.50L111.62 -5.25L111.88 -5.25L112.25 -5.00L113.12 -4.75L115.12 -3.75L115.75 -3.12L115.75 -1.88L115.00 -1.12L113.62 -0.50L110.62 -0.50L109.00 -1.38L108.38 -2.12L107.75 -3.50L107.50 -3.75L107.12 -3.88L106.88 -3.75L106.62 -3.38L106.62 0.00L107.00 0.50L107.38 0.50L107.75 0.12L108.00 -0.50L108.25 -0.62L108.75 -0.25L110.25 0.50L114.12 0.50L115.62 -0.25L116.62 -1.25L116.75 -1.25L116.88 -1.50L116.88 -4.38L115.75 -5.50L114.00 -6.38L113.75 -6.38L113.38 -6.62L113.12 -6.62L112.75 -6.88L112.50 -6.88L112.12 -7.12L111.88 -7.12L111.50 -7.38L110.62 -7.62L108.50 -8.62L107.75 -9.38L107.75 -9.75L108.75 -10.62L109.88 -11.12L112.88 -11.12L114.38 -10.38L115.25 -9.38L115.88 -8.00L116.38 -7.75L116.88 -8.12L116.88 -11.75L116.50 -12.12L116.12 -12.12L115.75 -11.75L115.50 -11.12L115.25 -11.00L115.00 -11.25L113.25 -12.12ZM20.38 -10.38L20.25 -10.12L20.25 -9.00L20.62 -8.62L21.75 -8.62L22.12 -9.00L22.12 -10.12L22.00 -10.38L23.38 -11.12L26.50 -11.12L27.75 -10.50L28.50 -9.75L28.50 -8.50L27.75 -7.88L27.12 -7.88L27.00 -7.75L26.38 -7.75L26.25 -7.62L25.62 -7.62L25.50 -7.50L24.88 -7.50L24.75 -7.38L24.12 -7.38L24.00 -7.25L23.25 -7.25L23.12 -7.12L20.62 -6.38L20.25 -6.00L19.38 -4.25L19.38 -2.50L20.25 -0.62L20.50 -0.38L22.50 0.25L22.88 0.50L26.00 0.50L27.75 -0.38L28.88 -1.50L29.62 -0.38L31.00 0.25L31.25 0.50L32.62 0.50L32.88 0.25L32.88 -0.25L32.62 -0.50L31.88 -0.50L31.12 -1.25L30.50 -2.50L30.50 -8.38L29.62 -10.00L29.62 -10.25L28.38 -11.38L26.88 -12.12L23.00 -12.12L21.50 -11.38ZM28.50 -6.88L28.50 -2.62L27.12 -1.25L25.62 -0.50L23.50 -0.50L22.12 -1.12L21.88 -1.38L21.25 -2.75L21.25 -3.88L21.88 -5.25L22.12 -5.50L23.75 -6.25L24.38 -6.25L24.50 -6.38L25.12 -6.38L25.25 -6.50L25.88 -6.50L26.00 -6.62L26.62 -6.62L26.75 -6.75L27.38 -6.75L27.50 -6.88L28.25 -6.88L28.38 -7.00ZM87.50 -11.62L87.88 -11.12L89.88 -11.12L90.00 -11.00L90.00 -2.50L90.88 -0.62L91.12 -0.38L93.12 0.25L93.25 0.38L93.50 0.38L93.62 0.50L95.88 0.50L96.00 0.38L98.12 -0.25L99.12 -1.12L99.25 -1.00L99.25 -0.38L99.12 -0.25L99.12 0.00L99.50 0.50L103.25 0.50L103.50 0.25L103.50 -0.25L103.25 -0.50L101.25 -0.50L101.12 -0.62L101.12 -11.75L100.75 -12.12L100.50 -12.25L100.38 -12.12L97.00 -12.12L96.75 -11.88L96.75 -11.38L97.00 -11.12L99.00 -11.12L99.25 -10.88L99.25 -2.88L99.12 -2.62L97.75 -1.25L97.50 -1.25L95.50 -0.50L94.12 -0.50L92.75 -1.12L92.50 -1.38L91.88 -2.75L91.88 -11.38L92.00 -11.50L91.88 -11.88L91.38 -12.25L91.25 -12.12L87.88 -12.12ZM81.75 -11.25L79.75 -11.88L79.62 -12.00L79.38 -12.00L79.00 -12.25L78.75 -12.12L77.00 -12.12L75.12 -11.12L74.62 -10.50L74.50 -10.62L74.50 -11.88L74.00 -12.25L73.75 -12.12L70.38 -12.12L70.12 -11.88L70.12 -11.38L70.50 -11.12L72.50 -11.12L72.62 -11.00L72.62 5.12L72.50 5.25L70.62 5.25L70.12 5.62L70.12 6.00L70.62 6.38L76.50 6.38L77.00 6.00L77.00 5.62L76.50 5.25L74.62 5.25L74.50 5.12L74.50 -1.00L74.62 -1.12L75.50 -0.25L77.00 0.50L79.25 0.50L79.38 0.38L79.62 0.38L79.75 0.25L81.75 -0.38L83.62 -2.25L83.62 -2.50L84.50 -4.88L84.50 -6.75L84.38 -6.88L83.62 -9.38ZM77.38 -11.12L78.75 -11.12L80.25 -10.38L81.88 -8.75L81.88 -8.50L82.50 -6.88L82.50 -6.50L82.62 -6.38L82.62 -5.25L82.50 -5.12L82.50 -4.75L82.38 -4.62L81.88 -2.88L80.25 -1.25L78.75 -0.50L77.50 -0.50L76.12 -1.12L74.50 -2.75L74.50 -8.88L74.62 -9.12L75.75 -10.25ZM59.75 -12.25L59.38 -12.00L57.25 -11.38L55.12 -9.38L55.12 -9.00L54.25 -6.62L54.38 -6.38L54.38 -5.25L54.25 -5.00L55.12 -2.62L55.12 -2.25L56.88 -0.50L57.25 -0.25L57.50 -0.25L59.50 0.50L61.88 0.50L62.25 0.25L64.25 -0.38L66.12 -2.25L66.75 -4.25L66.88 -4.38L66.88 -4.62L67.00 -4.75L67.00 -6.88L66.88 -7.00L66.88 -7.25L66.75 -7.38L66.12 -9.38L64.12 -11.38L63.75 -11.38L63.62 -11.50L62.25 -11.88L61.50 -12.25L61.38 -12.12L60.00 -12.12ZM60.00 -11.12L61.38 -11.12L63.00 -10.25L64.25 -9.00L65.12 -6.62L65.12 -5.00L64.25 -2.62L63.00 -1.38L61.25 -0.50L60.00 -0.50L58.50 -1.25L57.00 -2.75L56.25 -4.75L56.25 -6.88L57.00 -8.88L58.50 -10.38ZM35.25 -11.88L35.25 -11.38L35.50 -11.12L37.62 -11.12L37.75 -11.00L37.75 -0.75L37.50 -0.50L35.50 -0.50L35.25 -0.25L35.25 0.25L35.50 0.50L41.75 0.50L42.12 0.00L41.75 -0.50L39.75 -0.50L39.62 -0.62L39.62 -9.00L40.88 -10.25L43.25 -11.12L44.75 -11.12L46.00 -10.50L46.25 -10.25L46.88 -9.00L46.88 -0.62L46.75 -0.50L44.62 -0.50L44.38 -0.25L44.38 0.25L44.62 0.50L50.88 0.50L51.25 0.00L50.88 -0.50L48.88 -0.50L48.75 -0.62L48.75 -9.38L48.50 -9.62L47.88 -11.00L47.50 -11.38L47.12 -11.38L47.00 -11.50L45.62 -11.88L44.88 -12.25L44.75 -12.12L42.88 -12.12L42.75 -12.00L40.62 -11.38L39.75 -10.62L39.62 -10.75L39.62 -11.75L39.00 -12.25L38.88 -12.12L35.50 -12.12ZM15.00 -18.00L14.50 -17.75L14.00 -16.12L13.88 -16.00L12.88 -17.00L12.38 -17.25L12.12 -17.25L10.12 -18.00L8.12 -18.00L5.38 -17.00L5.38 -16.88L3.88 -15.38L3.62 -15.25L3.62 -15.00L3.00 -13.75L2.75 -13.50L2.75 -13.12L2.00 -11.12L2.00 -6.38L2.75 -4.38L2.75 -4.00L3.62 -2.25L5.50 -0.38L7.50 0.25L7.62 0.38L7.88 0.38L8.00 0.50L10.25 0.50L10.38 0.38L10.62 0.38L10.75 0.25L12.75 -0.38L14.62 -2.25L15.50 -4.00L15.50 -4.25L15.25 -4.62L14.75 -4.62L14.38 -4.25L13.75 -2.88L12.12 -1.25L11.88 -1.25L9.88 -0.50L8.50 -0.50L7.00 -1.25L5.38 -2.88L4.50 -4.62L4.50 -4.88L3.88 -6.50L3.88 -10.88L4.00 -11.00L4.62 -13.12L5.50 -14.75L6.88 -16.12L8.25 -16.88L10.12 -16.88L10.25 -16.75L12.25 -16.12L13.62 -14.75L14.25 -12.75L14.38 -12.62L14.38 -12.38L14.75 -12.00L15.25 -12.00L15.50 -12.25L15.50 -17.62Z"/><path transform="translate(146.79 569.58) scale(0.9826 1)" d="M35.88 -12.25L35.62 -12.00L35.62 -11.62L36.00 -11.25L38.00 -11.25L38.12 -11.12L38.12 -0.62L38.00 -0.50L36.00 -0.50L35.62 -0.25L35.62 0.25L36.00 0.50L42.25 0.50L42.50 0.25L42.50 -0.25L42.25 -0.50L40.12 -0.50L40.00 -0.62L40.00 -6.62L40.12 -6.75L40.75 -8.88L42.75 -10.75L43.88 -11.25L45.50 -11.25L45.62 -11.12L44.88 -10.38L44.88 -9.88L46.00 -8.75L46.38 -8.75L47.50 -9.75L47.62 -10.00L47.62 -11.00L46.50 -12.25L43.88 -12.25L43.75 -12.38L41.88 -11.50L40.12 -9.75L40.00 -9.88L40.00 -12.00L39.50 -12.38L39.25 -12.25L38.75 -12.25L38.62 -12.38L38.50 -12.25ZM46.12 -10.12L46.25 -10.25L46.38 -10.12L46.25 -10.00ZM46.25 -10.25L46.38 -10.38L46.50 -10.25L46.38 -10.12ZM26.00 -12.38L25.25 -12.00L23.25 -11.38L21.38 -9.50L20.75 -7.50L20.62 -7.38L20.62 -7.12L20.50 -7.00L20.50 -4.75L20.62 -4.62L20.62 -4.38L20.75 -4.25L21.38 -2.25L23.25 -0.38L25.25 0.25L25.38 0.38L25.62 0.38L25.75 0.50L28.00 0.50L28.12 0.38L28.38 0.38L28.50 0.25L30.50 -0.38L32.25 -2.12L32.38 -2.12L32.50 -2.62L32.12 -3.00L31.75 -3.00L31.50 -2.88L29.88 -1.25L28.25 -0.75L28.12 -0.62L27.75 -0.62L27.62 -0.50L26.25 -0.50L26.12 -0.62L25.88 -0.62L24.75 -1.25L23.12 -2.88L22.50 -4.88L22.38 -5.00L22.38 -6.12L22.50 -6.25L30.88 -6.25L31.00 -6.12L31.25 -6.25L31.75 -6.25L31.88 -6.12L32.50 -6.62L32.50 -8.50L31.62 -10.12L31.62 -10.38L30.38 -11.50L28.88 -12.25L26.25 -12.25ZM22.62 -7.50L23.12 -8.88L24.88 -10.62L26.25 -11.25L28.50 -11.25L29.75 -10.62L30.00 -10.38L30.62 -9.00L30.62 -7.38L30.50 -7.25L22.75 -7.25ZM52.75 -18.12L52.38 -17.62L52.38 -12.38L52.25 -12.25L50.25 -12.25L49.88 -11.88L49.88 -11.62L50.25 -11.25L52.25 -11.25L52.38 -11.12L52.38 -3.25L52.50 -3.12L53.25 -0.62L53.50 -0.38L55.25 0.50L57.38 0.50L59.12 -0.38L59.38 -0.62L60.25 -2.50L59.88 -3.00L59.25 -2.88L58.62 -1.50L58.25 -1.12L57.00 -0.50L55.75 -0.50L55.12 -1.12L54.88 -1.62L54.88 -1.88L54.38 -3.12L54.38 -11.12L54.50 -11.25L57.38 -11.25L57.62 -11.50L57.62 -12.00L57.12 -12.38L57.00 -12.25L54.50 -12.25L54.38 -12.38L54.38 -17.62L54.00 -18.12L53.62 -18.12L53.50 -18.00ZM62.75 -18.12L62.50 -17.88L62.50 -17.50L62.88 -17.12L64.88 -17.12L65.00 -17.00L65.00 -0.62L64.88 -0.50L62.88 -0.50L62.50 -0.12L62.50 0.12L62.88 0.50L69.12 0.50L69.50 0.00L69.12 -0.50L67.12 -0.50L66.88 -0.75L66.88 -8.88L67.00 -9.12L68.38 -10.50L68.62 -10.50L70.62 -11.25L72.12 -11.25L73.25 -10.75L73.75 -10.25L74.25 -9.25L74.25 -0.62L74.12 -0.50L72.12 -0.50L71.75 -0.12L71.75 0.12L72.12 0.50L78.38 0.50L78.75 0.00L78.38 -0.50L76.25 -0.50L76.12 -0.62L76.12 -9.50L75.25 -11.25L74.88 -11.50L74.62 -11.50L72.25 -12.38L72.12 -12.25L70.75 -12.25L70.62 -12.38L70.50 -12.25L68.00 -11.50L67.00 -10.62L66.88 -10.75L66.88 -17.38L67.00 -17.50L66.88 -17.88L66.38 -18.25L66.12 -18.12L65.75 -18.12L65.62 -18.25L65.38 -18.12L63.25 -18.12L63.12 -18.25ZM1.75 -18.25L1.12 -17.75L1.12 -17.50L1.50 -17.12L3.50 -17.12L3.62 -17.00L3.62 -0.62L3.50 -0.50L1.50 -0.50L1.12 -0.12L1.12 0.12L1.50 0.50L7.75 0.50L8.12 0.00L7.75 -0.50L5.75 -0.50L5.62 -0.62L5.62 -7.75L5.75 -7.88L12.00 -7.88L12.12 -8.00L12.38 -8.00L12.50 -8.12L14.50 -8.75L15.75 -10.00L15.75 -10.25L16.25 -11.25L16.50 -11.50L16.50 -14.50L15.62 -16.25L14.62 -17.25L12.62 -17.88L12.50 -18.00L12.25 -18.00L11.88 -18.25L11.62 -18.25L11.50 -18.12L5.25 -18.12L5.12 -18.25L4.88 -18.12L4.38 -18.12L4.25 -18.25L4.00 -18.12L1.88 -18.12ZM5.62 -17.00L5.75 -17.12L11.62 -17.12L13.12 -16.38L13.88 -15.62L14.62 -14.12L14.62 -11.88L13.75 -10.25L12.88 -9.50L11.50 -8.88L5.75 -8.88L5.62 -9.00Z"/><path transform="translate(146.68 604.48) scale(0.9765 1)" d="M71.12 -18.62L70.62 -18.62L70.38 -18.38L69.88 -16.75L69.62 -16.62L68.88 -17.38L68.88 -17.50L68.38 -17.88L68.00 -17.88L65.62 -18.75L65.50 -18.62L63.25 -18.62L63.12 -18.75L63.00 -18.62L62.75 -18.62L62.62 -18.50L62.38 -18.50L62.25 -18.38L60.25 -17.75L58.25 -15.75L58.25 -13.50L58.50 -13.25L59.12 -11.88L60.25 -10.75L62.25 -9.75L62.50 -9.75L62.62 -9.62L62.88 -9.62L63.00 -9.50L67.38 -8.12L68.62 -7.50L70.38 -5.75L70.38 -2.88L68.75 -1.25L68.50 -1.25L66.50 -0.50L64.12 -0.50L64.00 -0.62L63.62 -0.62L63.50 -0.75L61.75 -1.25L60.12 -2.88L59.38 -4.88L59.38 -5.25L58.75 -5.75L58.25 -5.38L58.25 0.25L58.38 0.38L59.00 0.50L59.25 0.25L59.75 -1.38L60.00 -1.50L61.12 -0.38L63.12 0.25L63.25 0.38L63.50 0.38L63.62 0.50L66.88 0.50L67.00 0.38L67.25 0.38L67.38 0.25L69.38 -0.38L71.38 -2.38L71.38 -6.38L71.12 -6.62L70.50 -8.00L69.25 -9.25L69.00 -9.25L68.00 -9.75L67.75 -10.00L67.50 -10.00L67.38 -10.12L67.12 -10.12L67.00 -10.25L62.62 -11.62L60.88 -12.50L59.25 -14.12L59.25 -15.25L60.88 -16.88L62.50 -17.38L62.62 -17.50L63.00 -17.50L63.12 -17.62L65.75 -17.62L68.12 -16.75L69.62 -15.12L69.62 -14.88L69.75 -14.75L70.38 -12.75L70.62 -12.50L71.12 -12.50L71.38 -12.75L71.38 -18.38ZM45.75 -18.75L45.00 -18.38L44.75 -18.38L43.50 -17.88L43.12 -17.88L41.00 -15.88L40.12 -14.12L39.88 -12.88L39.75 -12.75L39.75 -12.38L39.62 -12.25L39.62 -11.88L39.50 -11.75L39.50 -11.38L39.38 -11.25L39.38 -10.88L39.25 -10.75L39.25 -7.50L39.38 -7.38L39.38 -7.00L39.50 -6.88L39.50 -6.50L39.62 -6.38L39.62 -6.00L39.75 -5.88L39.75 -5.50L40.00 -4.88L40.00 -4.38L40.88 -2.75L40.88 -2.50L43.00 -0.38L45.00 0.25L45.12 0.38L45.38 0.38L45.50 0.50L47.88 0.50L48.00 0.38L48.25 0.38L48.38 0.25L50.38 -0.38L52.38 -2.38L53.25 -4.12L53.25 -4.50L53.38 -4.62L53.38 -5.00L53.50 -5.12L53.88 -7.00L54.12 -7.50L54.12 -10.62L54.00 -10.75L54.00 -11.12L53.88 -11.25L53.88 -11.62L53.75 -11.75L53.75 -12.12L53.62 -12.25L53.25 -14.12L53.00 -14.38L52.38 -15.75L50.38 -17.75L48.38 -18.38L48.25 -18.50L48.00 -18.50L47.62 -18.75L47.38 -18.75L47.25 -18.62L46.12 -18.62L46.00 -18.75ZM46.00 -17.62L47.38 -17.62L48.75 -17.00L50.62 -15.12L51.50 -13.25L51.50 -12.88L51.62 -12.75L51.62 -12.38L51.75 -12.25L51.75 -11.88L51.88 -11.75L51.88 -11.38L52.12 -10.75L52.12 -10.25L52.25 -10.12L52.25 -8.12L52.12 -8.00L52.12 -7.38L52.00 -7.25L52.00 -6.88L51.88 -6.75L51.88 -6.38L51.75 -6.25L51.75 -5.88L51.62 -5.75L51.38 -4.50L50.62 -3.00L48.88 -1.25L47.38 -0.50L46.00 -0.50L44.62 -1.12L42.62 -3.12L41.88 -4.75L41.88 -5.12L41.75 -5.25L41.75 -5.62L41.62 -5.75L41.62 -6.12L41.50 -6.25L41.50 -6.62L41.25 -7.25L41.25 -7.75L41.12 -7.88L41.12 -10.25L41.25 -10.38L41.25 -10.88L41.38 -11.00L41.38 -11.38L41.50 -11.50L41.50 -11.88L41.62 -12.00L41.62 -12.38L41.75 -12.50L42.00 -13.75L42.88 -15.38L44.25 -16.75ZM19.62 -18.62L19.38 -18.38L19.38 -17.88L19.75 -17.62L21.88 -17.62L22.00 -17.50L22.00 -0.75L21.75 -0.50L19.62 -0.50L19.38 -0.25L19.38 0.25L19.62 0.50L26.12 0.50L26.50 0.00L26.12 -0.50L24.00 -0.50L23.88 -0.62L23.88 -8.88L24.00 -9.00L27.50 -9.00L28.75 -8.38L29.12 -8.00L29.88 -6.50L29.88 -6.12L30.12 -5.62L30.12 -5.25L30.38 -4.75L30.38 -4.38L30.62 -3.88L30.62 -3.50L30.88 -3.00L30.88 -2.62L31.12 -2.12L31.12 -1.75L31.25 -1.62L31.50 -0.62L32.62 0.50L34.75 0.50L35.12 0.12L35.75 -1.25L36.00 -1.50L36.00 -2.62L35.62 -3.12L35.25 -3.12L34.88 -2.62L34.88 -1.88L34.38 -1.38L34.00 -1.38L33.25 -2.12L32.88 -2.88L32.88 -3.12L32.50 -3.75L32.50 -4.00L32.12 -4.62L32.12 -4.88L31.75 -5.50L31.75 -5.75L31.38 -6.38L31.38 -6.62L31.00 -7.25L31.00 -7.50L30.75 -8.00L29.88 -8.88L30.00 -9.00L30.62 -9.00L31.00 -9.25L31.25 -9.25L32.50 -9.75L32.88 -9.75L34.25 -11.00L34.25 -11.25L34.88 -12.50L35.12 -12.75L35.12 -14.88L34.25 -16.62L33.12 -17.75L31.12 -18.38L31.00 -18.50L30.75 -18.50L30.62 -18.62L30.38 -18.62L30.25 -18.75L30.00 -18.62L23.50 -18.62L23.38 -18.75L23.12 -18.62L22.62 -18.62L22.50 -18.75L22.25 -18.62L20.12 -18.62L20.00 -18.75ZM32.88 -0.75L33.00 -0.88L33.12 -0.75L33.00 -0.62ZM32.75 -0.88L32.88 -1.00L33.00 -0.88L32.88 -0.75ZM32.62 -1.00L32.75 -1.12L32.88 -1.00L32.75 -0.88ZM32.50 -1.12L32.62 -1.25L32.75 -1.12L32.62 -1.00ZM23.88 -17.50L24.00 -17.62L30.12 -17.62L31.62 -16.88L32.38 -16.12L33.12 -14.75L33.12 -12.88L32.38 -11.50L31.62 -10.75L30.00 -10.00L24.00 -10.00L23.88 -10.12ZM1.25 -18.38L1.25 -17.88L1.62 -17.62L3.62 -17.62L3.75 -17.50L3.75 -0.62L3.62 -0.50L1.50 -0.50L1.25 -0.25L1.25 0.25L1.50 0.50L15.75 0.50L16.12 0.00L16.12 -5.25L16.00 -5.50L15.62 -5.75L15.25 -5.62L15.00 -5.38L15.00 -4.75L14.88 -4.62L14.88 -4.00L14.75 -3.88L14.75 -3.25L14.62 -3.12L14.38 -1.00L14.12 -0.50L5.88 -0.50L5.75 -0.62L5.75 -8.88L5.88 -9.00L9.75 -9.00L9.88 -8.88L9.88 -5.88L10.25 -5.50L10.50 -5.50L10.88 -5.88L10.88 -13.12L10.50 -13.50L10.25 -13.50L9.88 -13.25L9.88 -10.12L9.75 -10.00L5.88 -10.00L5.75 -10.12L5.75 -17.50L5.88 -17.62L14.12 -17.62L14.38 -17.12L14.38 -16.50L14.50 -16.38L14.50 -15.75L14.62 -15.62L14.62 -15.00L14.75 -14.88L14.75 -14.25L14.88 -14.12L15.00 -12.88L15.12 -12.62L15.75 -12.50L16.00 -12.62L16.12 -12.88L16.12 -18.25L15.50 -18.75L15.38 -18.62L14.88 -18.62L14.75 -18.75L14.50 -18.62L5.38 -18.62L5.25 -18.75L5.00 -18.62L4.50 -18.62L4.38 -18.75L4.12 -18.62L1.88 -18.62L1.75 -18.75Z"/><path transform="translate(14.18 643.20) scale(0.9631 1)" d="M0.62 -14.25L0.12 -13.88L0.12 -13.25L0.50 -13.00L1.38 -13.00L1.62 -12.62L1.62 -12.38L1.75 -12.25L1.75 -12.00L1.88 -11.88L1.88 -11.62L2.00 -11.50L2.00 -11.25L2.12 -11.12L2.12 -10.88L2.25 -10.75L2.25 -10.50L2.38 -10.38L2.38 -10.12L2.50 -10.00L2.50 -9.75L2.62 -9.62L2.62 -9.38L2.75 -9.25L2.75 -9.00L2.88 -8.88L2.88 -8.62L3.00 -8.50L3.00 -8.25L3.12 -8.12L3.12 -7.88L3.25 -7.75L3.25 -7.50L3.38 -7.38L3.38 -7.12L3.50 -7.00L3.50 -6.75L3.62 -6.62L3.62 -6.38L3.75 -6.25L3.75 -6.00L3.88 -5.88L3.88 -5.62L4.00 -5.50L4.00 -5.25L4.12 -5.12L4.12 -4.88L4.25 -4.75L4.25 -4.50L4.38 -4.38L5.75 0.00L6.12 0.50L6.62 0.62L7.12 0.25L7.12 0.00L7.25 -0.12L7.25 -0.38L7.38 -0.50L7.38 -0.75L7.50 -0.88L7.50 -1.12L7.62 -1.25L7.62 -1.50L7.75 -1.62L7.75 -1.88L7.88 -2.00L7.88 -2.25L8.00 -2.38L8.00 -2.62L8.12 -2.75L8.12 -3.00L8.25 -3.12L8.25 -3.38L8.38 -3.50L8.38 -3.75L8.50 -3.88L8.50 -4.12L8.62 -4.25L8.62 -4.50L8.75 -4.62L8.75 -4.88L8.88 -5.00L8.88 -5.25L9.00 -5.38L9.00 -5.62L9.12 -5.75L9.12 -6.00L9.25 -6.12L9.25 -6.38L9.38 -6.50L9.38 -6.75L9.50 -6.88L9.50 -7.12L9.62 -7.25L9.62 -7.50L9.75 -7.62L9.75 -7.88L9.88 -8.00L9.88 -8.25L10.00 -8.38L11.38 -12.75L11.62 -13.00L12.38 -13.00L12.88 -13.38L12.88 -13.88L12.38 -14.25L8.38 -14.25L7.88 -13.88L7.88 -13.38L8.25 -13.00L9.88 -13.00L10.00 -12.88L10.00 -12.50L9.88 -12.38L9.88 -12.12L9.75 -12.00L9.75 -11.75L9.62 -11.62L9.62 -11.38L9.50 -11.25L9.50 -11.00L9.38 -10.88L9.38 -10.62L9.25 -10.50L9.25 -10.25L9.12 -10.12L9.12 -9.88L9.00 -9.75L9.00 -9.50L8.88 -9.38L8.88 -9.12L8.75 -9.00L8.75 -8.75L8.62 -8.62L8.62 -8.38L8.50 -8.25L8.50 -8.00L8.38 -7.88L7.00 -3.50L6.75 -3.25L6.62 -3.38L6.62 -3.62L6.50 -3.75L6.50 -4.00L6.38 -4.12L6.38 -4.38L6.25 -4.50L6.25 -4.75L6.12 -4.88L6.12 -5.12L6.00 -5.25L6.00 -5.50L5.88 -5.62L5.88 -5.88L5.75 -6.00L5.75 -6.25L5.62 -6.38L5.62 -6.62L5.50 -6.75L5.50 -7.00L5.38 -7.12L5.38 -7.38L5.25 -7.50L5.25 -7.75L5.12 -7.88L5.12 -8.12L5.00 -8.25L5.00 -8.50L4.88 -8.62L4.88 -8.88L4.75 -9.00L4.75 -9.25L4.62 -9.38L4.62 -9.62L4.50 -9.75L4.50 -10.00L3.50 -12.75L3.75 -13.00L4.62 -13.00L5.12 -13.38L5.12 -13.75L4.62 -14.25Z"/><path transform="translate(9.98 661.10) scale(0.9864 1)" d="M0.62 -14.25L0.12 -13.88L0.12 -13.25L0.50 -13.00L1.38 -13.00L1.62 -12.62L1.62 -12.38L1.75 -12.25L1.75 -12.00L1.88 -11.88L1.88 -11.62L2.00 -11.50L2.00 -11.25L2.12 -11.12L2.12 -10.88L2.25 -10.75L2.25 -10.50L2.38 -10.38L2.38 -10.12L2.50 -10.00L2.50 -9.75L2.62 -9.62L2.62 -9.38L2.75 -9.25L2.75 -9.00L2.88 -8.88L2.88 -8.62L3.00 -8.50L3.00 -8.25L3.12 -8.12L3.12 -7.88L3.25 -7.75L3.25 -7.50L3.38 -7.38L3.38 -7.12L3.50 -7.00L3.50 -6.75L3.62 -6.62L3.62 -6.38L3.75 -6.25L3.75 -6.00L3.88 -5.88L3.88 -5.62L4.00 -5.50L4.00 -5.25L4.12 -5.12L4.12 -4.88L4.25 -4.75L4.25 -4.50L4.38 -4.38L5.75 0.00L6.12 0.50L6.62 0.62L7.12 0.25L7.12 0.00L7.25 -0.12L7.25 -0.38L7.38 -0.50L7.38 -0.75L7.50 -0.88L7.50 -1.12L7.62 -1.25L7.62 -1.50L7.75 -1.62L7.75 -1.88L7.88 -2.00L7.88 -2.25L8.00 -2.38L8.00 -2.62L8.12 -2.75L8.12 -3.00L8.25 -3.12L8.25 -3.38L8.38 -3.50L8.38 -3.75L8.50 -3.88L8.50 -4.12L8.62 -4.25L8.62 -4.50L8.75 -4.62L8.75 -4.88L8.88 -5.00L8.88 -5.25L9.00 -5.38L9.00 -5.62L9.12 -5.75L9.12 -6.00L9.25 -6.12L9.25 -6.38L9.38 -6.50L9.38 -6.75L9.50 -6.88L9.50 -7.12L9.62 -7.25L9.62 -7.50L9.75 -7.62L9.75 -7.88L9.88 -8.00L9.88 -8.25L10.00 -8.38L11.38 -12.75L11.62 -13.00L12.38 -13.00L12.88 -13.38L12.88 -13.88L12.38 -14.25L8.38 -14.25L7.88 -13.88L7.88 -13.38L8.25 -13.00L9.88 -13.00L10.00 -12.88L10.00 -12.50L9.88 -12.38L9.88 -12.12L9.75 -12.00L9.75 -11.75L9.62 -11.62L9.62 -11.38L9.50 -11.25L9.50 -11.00L9.38 -10.88L9.38 -10.62L9.25 -10.50L9.25 -10.25L9.12 -10.12L9.12 -9.88L9.00 -9.75L9.00 -9.50L8.88 -9.38L8.88 -9.12L8.75 -9.00L8.75 -8.75L8.62 -8.62L8.62 -8.38L8.50 -8.25L8.50 -8.00L8.38 -7.88L7.00 -3.50L6.75 -3.25L6.62 -3.38L6.62 -3.62L6.50 -3.75L6.50 -4.00L6.38 -4.12L6.38 -4.38L6.25 -4.50L6.25 -4.75L6.12 -4.88L6.12 -5.12L6.00 -5.25L6.00 -5.50L5.88 -5.62L5.88 -5.88L5.75 -6.00L5.75 -6.25L5.62 -6.38L5.62 -6.62L5.50 -6.75L5.50 -7.00L5.38 -7.12L5.38 -7.38L5.25 -7.50L5.25 -7.75L5.12 -7.88L5.12 -8.12L5.00 -8.25L5.00 -8.50L4.88 -8.62L4.88 -8.88L4.75 -9.00L4.75 -9.25L4.62 -9.38L4.62 -9.62L4.50 -9.75L4.50 -10.00L3.50 -12.75L3.75 -13.00L4.62 -13.00L5.12 -13.38L5.12 -13.75L4.62 -14.25Z"/><path transform="translate(23.77 668.30) scale(0.9108 1)" d="M0.62 -9.38L0.25 -9.00L0.25 -8.62L0.62 -8.25L0.88 -8.12L1.38 -8.12L1.50 -8.00L1.50 -0.88L1.25 -0.62L0.75 -0.62L0.25 -0.25L0.25 0.25L0.75 0.62L7.62 0.62L7.88 0.50L8.25 0.00L8.25 -2.50L8.12 -2.75L7.62 -3.12L7.25 -3.00L6.88 -2.62L6.75 -1.38L6.62 -1.25L6.62 -0.75L6.50 -0.62L3.25 -0.62L3.12 -0.75L3.12 -3.75L3.38 -4.00L4.25 -4.00L4.38 -3.88L4.38 -2.88L4.75 -2.38L5.25 -2.38L5.62 -2.75L5.62 -6.50L5.38 -6.75L4.88 -6.88L4.50 -6.62L4.38 -6.38L4.38 -5.38L4.25 -5.25L3.25 -5.25L3.12 -5.38L3.12 -8.00L3.25 -8.12L6.50 -8.12L6.62 -8.00L6.62 -7.50L6.75 -7.38L6.88 -6.12L7.25 -5.75L7.75 -5.75L8.25 -6.38L8.25 -8.75L8.12 -9.00L7.50 -9.50L0.88 -9.50Z"/><path transform="translate(13.26 689.50) scale(0.8511 1)" d="M1.25 -14.50L0.75 -14.12L0.75 -13.62L1.25 -13.25L2.50 -13.25L2.62 -13.12L2.62 -0.75L2.50 -0.62L1.25 -0.62L0.75 -0.25L0.75 0.25L1.25 0.62L6.00 0.62L6.50 0.25L6.50 -0.25L6.00 -0.62L4.75 -0.62L4.62 -0.75L4.62 -13.12L4.75 -13.25L6.00 -13.25L6.50 -13.62L6.50 -14.12L6.12 -14.50Z"/><path transform="translate(20.36 696.00) scale(0.9651 1)" d="M0.25 -8.88L0.25 -8.38L0.75 -8.00L1.25 -8.00L1.38 -7.88L1.38 -0.75L1.25 -0.62L0.75 -0.62L0.25 -0.25L0.25 0.25L0.75 0.62L7.50 0.62L8.00 0.00L8.00 -2.50L7.62 -3.00L7.12 -3.00L6.75 -2.62L6.62 -2.38L6.50 -0.88L6.25 -0.62L3.25 -0.62L3.12 -0.75L3.12 -3.75L3.25 -3.88L4.12 -3.88L4.25 -3.75L4.25 -2.88L4.38 -2.62L4.88 -2.25L5.25 -2.38L5.62 -2.88L5.62 -6.12L5.25 -6.62L4.88 -6.75L4.62 -6.62L4.25 -6.12L4.25 -5.25L4.12 -5.12L3.25 -5.12L3.12 -5.25L3.12 -7.88L3.25 -8.00L6.25 -8.00L6.50 -7.75L6.62 -6.25L6.75 -6.00L7.38 -5.50L7.62 -5.62L8.00 -6.12L8.00 -8.62L7.88 -8.88L7.38 -9.25L0.75 -9.25Z"/><path transform="translate(17.25 713.40) scale(0.8667 1)" d="M1.25 -14.62L0.75 -14.25L0.75 -13.75L1.25 -13.38L2.50 -13.38L2.62 -13.25L2.62 -0.75L2.50 -0.62L1.25 -0.62L0.75 -0.25L0.75 0.25L1.25 0.62L6.12 0.62L6.62 0.00L6.25 -0.50L6.00 -0.62L4.75 -0.62L4.62 -0.75L4.62 -13.25L4.75 -13.38L6.12 -13.38L6.62 -14.00L6.50 -14.25L6.00 -14.62Z"/><path transform="translate(13.19 734.50) scale(0.9424 1)" d="M1.25 -14.75L0.75 -14.25L0.75 -13.88L1.25 -13.50L2.50 -13.50L2.75 -13.25L2.75 -0.75L2.62 -0.62L1.25 -0.62L0.75 -0.25L0.75 0.25L1.25 0.62L6.12 0.62L6.62 0.25L6.62 -0.25L6.12 -0.62L4.88 -0.62L4.62 -0.88L4.62 -6.50L4.88 -6.75L11.25 -6.75L11.38 -6.62L11.38 -0.75L11.25 -0.62L10.00 -0.62L9.50 -0.25L9.50 0.25L10.00 0.62L14.88 0.62L15.12 0.50L15.38 0.12L15.38 -0.12L15.12 -0.50L14.88 -0.62L13.50 -0.62L13.38 -0.75L13.38 -13.25L13.62 -13.50L14.88 -13.50L15.38 -13.88L15.38 -14.25L14.75 -14.75L10.00 -14.75L9.50 -14.38L9.50 -13.88L10.00 -13.50L11.25 -13.50L11.38 -13.38L11.38 -8.12L11.25 -8.00L4.88 -8.00L4.62 -8.25L4.62 -13.25L4.88 -13.50L6.12 -13.50L6.62 -13.88L6.62 -14.38L6.12 -14.75Z"/><path transform="translate(313.17 78.18) scale(0.9134 1)" d="M0.88 -17.75L0.62 -17.62L0.25 -17.12L0.62 -16.62L2.00 -16.62L2.25 -16.25L2.25 -16.00L2.38 -15.88L2.38 -15.62L2.50 -15.50L2.50 -15.25L2.62 -15.12L2.62 -14.88L2.75 -14.75L2.75 -14.50L2.88 -14.38L2.88 -14.12L3.00 -14.00L3.00 -13.75L3.12 -13.62L3.12 -13.38L3.25 -13.25L3.25 -13.00L3.38 -12.88L3.38 -12.62L3.50 -12.50L3.50 -12.25L3.62 -12.12L3.62 -11.88L3.75 -11.75L3.75 -11.50L3.88 -11.38L3.88 -11.12L4.00 -11.00L4.00 -10.75L4.12 -10.62L4.12 -10.38L4.25 -10.25L4.25 -10.00L4.38 -9.88L4.38 -9.62L4.50 -9.50L4.50 -9.25L4.62 -9.12L4.62 -8.88L4.75 -8.75L4.75 -8.50L4.88 -8.38L4.88 -8.12L5.00 -8.00L5.00 -7.75L5.12 -7.62L5.12 -7.38L5.25 -7.25L5.25 -7.00L5.38 -6.88L5.38 -6.62L5.50 -6.50L5.50 -6.25L5.62 -6.12L5.62 -5.88L5.75 -5.75L5.75 -5.50L5.88 -5.38L5.88 -5.12L6.00 -5.00L6.00 -4.75L6.12 -4.62L6.12 -4.38L6.25 -4.25L6.25 -4.00L6.38 -3.88L6.38 -3.62L6.50 -3.50L6.50 -3.25L6.62 -3.12L6.62 -2.88L7.62 -0.12L7.62 0.25L7.88 0.50L8.38 0.50L8.75 0.12L8.75 -0.25L8.88 -0.38L8.88 -0.62L9.00 -0.75L9.00 -1.00L9.12 -1.12L9.12 -1.38L9.25 -1.50L9.25 -1.75L9.38 -1.88L9.38 -2.12L9.50 -2.25L9.50 -2.50L9.62 -2.62L9.62 -2.88L9.75 -3.00L9.75 -3.25L9.88 -3.38L9.88 -3.62L10.00 -3.75L10.00 -4.00L10.12 -4.12L10.12 -4.38L10.25 -4.50L10.25 -4.75L10.38 -4.88L10.38 -5.12L10.50 -5.25L10.50 -5.50L10.62 -5.62L10.62 -5.88L10.75 -6.00L10.75 -6.25L10.88 -6.38L10.88 -6.62L11.00 -6.75L11.00 -7.00L11.12 -7.12L11.12 -7.38L11.25 -7.50L11.25 -7.75L11.38 -7.88L11.38 -8.12L11.50 -8.25L11.50 -8.50L11.62 -8.62L11.62 -8.88L11.75 -9.00L11.75 -9.25L11.88 -9.38L11.88 -9.62L12.00 -9.75L12.00 -10.00L12.12 -10.12L12.12 -10.38L12.25 -10.50L12.25 -10.75L12.38 -10.88L12.38 -11.12L12.50 -11.25L12.50 -11.50L12.62 -11.62L12.62 -11.88L12.75 -12.00L14.12 -16.38L14.38 -16.62L15.62 -16.62L16.00 -16.88L16.00 -17.38L15.50 -17.75L15.38 -17.62L14.12 -17.62L14.00 -17.75L13.75 -17.62L10.88 -17.62L10.62 -17.75L10.12 -17.38L10.12 -16.88L10.50 -16.62L13.00 -16.62L13.12 -16.38L13.00 -16.25L13.00 -16.00L12.88 -15.88L12.88 -15.62L12.75 -15.50L12.75 -15.25L12.62 -15.12L12.62 -14.88L12.50 -14.75L12.50 -14.50L12.38 -14.38L12.38 -14.12L12.25 -14.00L12.25 -13.75L12.12 -13.62L12.12 -13.38L12.00 -13.25L12.00 -13.00L11.88 -12.88L11.88 -12.62L11.75 -12.50L11.75 -12.25L11.62 -12.12L11.62 -11.88L11.50 -11.75L11.50 -11.50L11.38 -11.38L11.38 -11.12L11.25 -11.00L11.25 -10.75L11.12 -10.62L11.12 -10.38L11.00 -10.25L11.00 -10.00L10.88 -9.88L10.88 -9.62L10.75 -9.50L10.75 -9.25L10.62 -9.12L10.62 -8.88L10.50 -8.75L10.50 -8.50L10.38 -8.38L10.38 -8.12L10.25 -8.00L10.25 -7.75L10.12 -7.62L10.12 -7.38L10.00 -7.25L10.00 -7.00L9.88 -6.88L9.88 -6.62L9.75 -6.50L9.75 -6.25L9.62 -6.12L9.62 -5.88L8.62 -3.12L8.38 -3.38L8.38 -3.62L8.25 -3.75L8.25 -4.00L8.12 -4.12L8.12 -4.38L8.00 -4.50L8.00 -4.75L7.88 -4.88L7.88 -5.12L7.75 -5.25L7.75 -5.50L7.62 -5.62L7.62 -5.88L7.50 -6.00L7.50 -6.25L7.38 -6.38L7.38 -6.62L7.25 -6.75L7.25 -7.00L7.12 -7.12L7.12 -7.38L7.00 -7.50L7.00 -7.75L6.88 -7.88L6.88 -8.12L6.75 -8.25L6.75 -8.50L6.62 -8.62L6.62 -8.88L6.50 -9.00L6.50 -9.25L6.38 -9.38L6.38 -9.62L6.25 -9.75L6.25 -10.00L6.12 -10.12L6.12 -10.38L6.00 -10.50L6.00 -10.75L5.88 -10.88L5.88 -11.12L5.75 -11.25L5.75 -11.50L5.62 -11.62L5.62 -11.88L5.50 -12.00L5.50 -12.25L5.38 -12.38L5.38 -12.62L5.25 -12.75L5.25 -13.00L5.12 -13.12L5.12 -13.38L5.00 -13.50L5.00 -13.75L4.00 -16.50L4.12 -16.62L5.88 -16.62L6.25 -17.00L6.25 -17.38L5.75 -17.75L5.50 -17.62L3.50 -17.62L3.38 -17.75L3.12 -17.62L2.62 -17.62L2.50 -17.75L2.25 -17.62L1.00 -17.62Z"/><path transform="translate(146.85 113.88) scale(0.9250 1)" d="M0.75 -18.00L0.38 -17.75L0.38 -17.12L0.75 -16.88L2.00 -16.88L2.25 -16.62L2.25 -16.38L2.38 -16.25L2.38 -16.00L2.50 -15.88L2.50 -15.62L2.62 -15.50L2.62 -15.25L2.75 -15.12L2.75 -14.88L2.88 -14.75L2.88 -14.50L3.00 -14.38L3.00 -14.12L3.12 -14.00L3.12 -13.75L3.25 -13.62L3.25 -13.38L3.38 -13.25L3.38 -13.00L3.50 -12.88L3.50 -12.62L3.62 -12.50L3.62 -12.25L3.75 -12.12L3.75 -11.88L3.88 -11.75L3.88 -11.50L4.00 -11.38L4.00 -11.12L4.12 -11.00L4.12 -10.75L4.25 -10.62L4.25 -10.38L4.38 -10.25L4.38 -10.00L4.50 -9.88L4.50 -9.62L4.62 -9.50L4.62 -9.25L4.75 -9.12L4.75 -8.88L4.88 -8.75L4.88 -8.50L5.00 -8.38L5.00 -8.12L5.12 -8.00L5.12 -7.75L5.25 -7.62L5.25 -7.38L5.38 -7.25L5.38 -7.00L5.50 -6.88L5.50 -6.62L5.62 -6.50L5.62 -6.25L5.75 -6.12L5.75 -5.88L5.88 -5.75L5.88 -5.50L6.00 -5.38L6.00 -5.12L6.12 -5.00L6.12 -4.75L6.25 -4.62L6.25 -4.38L6.38 -4.25L6.38 -4.00L6.50 -3.88L6.50 -3.62L6.62 -3.50L6.62 -3.25L6.75 -3.12L6.75 -2.88L7.75 -0.12L7.75 0.25L8.12 0.50L8.50 0.50L8.88 0.12L8.88 -0.12L9.00 -0.25L9.00 -0.50L9.12 -0.62L9.12 -0.88L9.25 -1.00L9.25 -1.25L9.38 -1.38L9.38 -1.62L9.50 -1.75L9.50 -2.00L9.62 -2.12L9.62 -2.38L9.75 -2.50L9.75 -2.75L9.88 -2.88L9.88 -3.12L10.00 -3.25L10.00 -3.50L10.12 -3.62L10.12 -3.88L10.25 -4.00L10.25 -4.25L10.38 -4.38L10.38 -4.62L10.50 -4.75L10.50 -5.00L10.62 -5.12L10.62 -5.38L10.75 -5.50L10.75 -5.75L10.88 -5.88L10.88 -6.12L11.00 -6.25L11.00 -6.50L11.12 -6.62L11.12 -6.88L11.25 -7.00L11.25 -7.25L11.38 -7.38L11.38 -7.62L11.50 -7.75L11.50 -8.00L11.62 -8.12L11.62 -8.38L11.75 -8.50L11.75 -8.75L11.88 -8.88L11.88 -9.12L12.00 -9.25L12.00 -9.50L12.12 -9.62L12.12 -9.88L12.25 -10.00L12.25 -10.25L12.38 -10.38L12.38 -10.62L12.50 -10.75L12.50 -11.00L12.62 -11.12L12.62 -11.38L12.75 -11.50L12.75 -11.75L12.88 -11.88L12.88 -12.12L13.00 -12.25L14.38 -16.62L14.62 -16.88L15.88 -16.88L16.25 -17.12L16.25 -17.75L15.88 -18.00L10.75 -18.00L10.25 -17.62L10.38 -17.12L10.75 -16.88L13.25 -16.88L13.38 -16.75L13.25 -16.62L13.25 -16.38L13.12 -16.25L13.12 -16.00L13.00 -15.88L13.00 -15.62L12.88 -15.50L12.88 -15.25L12.75 -15.12L12.75 -14.88L12.62 -14.75L12.62 -14.50L12.50 -14.38L12.50 -14.12L12.38 -14.00L12.38 -13.75L12.25 -13.62L12.25 -13.38L12.12 -13.25L12.12 -13.00L12.00 -12.88L12.00 -12.62L11.88 -12.50L11.88 -12.25L11.75 -12.12L11.75 -11.88L11.62 -11.75L11.62 -11.50L11.50 -11.38L11.50 -11.12L11.38 -11.00L11.38 -10.75L11.25 -10.62L11.25 -10.38L11.12 -10.25L11.12 -10.00L11.00 -9.88L11.00 -9.62L10.88 -9.50L10.88 -9.25L10.75 -9.12L10.75 -8.88L10.62 -8.75L10.62 -8.50L10.50 -8.38L10.50 -8.12L10.38 -8.00L10.38 -7.75L10.25 -7.62L10.25 -7.38L10.12 -7.25L10.12 -7.00L10.00 -6.88L10.00 -6.62L9.88 -6.50L9.88 -6.25L9.75 -6.12L9.75 -5.88L8.75 -3.12L8.50 -3.50L8.50 -3.75L8.38 -3.88L8.38 -4.12L8.25 -4.25L8.25 -4.50L8.12 -4.62L8.12 -4.88L8.00 -5.00L8.00 -5.25L7.88 -5.38L7.88 -5.62L7.75 -5.75L7.75 -6.00L7.62 -6.12L7.62 -6.38L7.50 -6.50L7.50 -6.75L7.38 -6.88L7.38 -7.12L7.25 -7.25L7.25 -7.50L7.12 -7.62L7.12 -7.88L7.00 -8.00L7.00 -8.25L6.88 -8.38L6.88 -8.62L6.75 -8.75L6.75 -9.00L6.62 -9.12L6.62 -9.38L6.50 -9.50L6.50 -9.75L6.38 -9.88L6.38 -10.12L6.25 -10.25L6.25 -10.50L6.12 -10.62L6.12 -10.88L6.00 -11.00L6.00 -11.25L5.88 -11.38L5.88 -11.62L5.75 -11.75L5.75 -12.00L5.62 -12.12L5.62 -12.38L5.50 -12.50L5.50 -12.75L5.38 -12.88L5.38 -13.12L5.25 -13.25L5.25 -13.50L5.12 -13.62L5.12 -13.88L4.12 -16.62L4.25 -16.88L5.88 -16.88L6.25 -17.12L6.38 -17.62L5.88 -18.00Z"/><path transform="translate(163.71 122.28) scale(1.0286 1)" d="M0.75 -10.38L0.50 -10.12L0.38 -9.75L1.00 -9.25L1.12 -9.38L1.62 -9.38L1.88 -9.12L1.88 -0.75L1.62 -0.50L0.75 -0.50L0.38 0.00L0.75 0.50L8.62 0.50L9.00 0.12L9.00 -2.88L8.88 -3.12L8.50 -3.38L8.12 -3.25L7.88 -2.88L7.62 -0.75L7.38 -0.50L3.50 -0.50L3.38 -0.62L3.38 -4.50L3.50 -4.62L5.00 -4.62L5.12 -4.50L5.12 -3.12L5.50 -2.75L5.75 -2.75L6.12 -3.00L6.12 -7.25L5.88 -7.50L5.38 -7.50L5.12 -7.25L5.12 -5.88L4.88 -5.62L3.50 -5.62L3.38 -5.75L3.38 -9.25L3.50 -9.38L7.38 -9.38L7.62 -9.00L7.88 -6.88L8.12 -6.62L8.62 -6.50L9.00 -6.88L9.00 -10.00L8.62 -10.38Z"/><path transform="translate(255.04 129.47) scale(0.8561 1)" d="M1.50 -18.25L1.12 -17.75L1.50 -17.25L3.50 -17.25L3.75 -17.00L3.75 -0.75L3.50 -0.50L1.50 -0.50L1.12 0.00L1.50 0.50L7.75 0.50L8.12 0.25L8.12 -0.25L7.75 -0.50L5.75 -0.50L5.62 -0.62L5.62 -17.12L5.75 -17.25L7.75 -17.25L8.12 -17.50L8.12 -18.00L7.75 -18.25Z"/><path transform="translate(264.84 136.78) scale(0.9600 1)" d="M0.75 -10.38L0.50 -10.12L0.38 -9.75L1.00 -9.25L1.12 -9.38L1.62 -9.38L1.88 -9.12L1.88 -0.75L1.62 -0.50L0.75 -0.50L0.38 0.00L0.75 0.50L8.62 0.50L9.00 0.12L9.00 -2.88L8.88 -3.12L8.50 -3.38L8.12 -3.25L7.88 -2.88L7.62 -0.75L7.38 -0.50L3.50 -0.50L3.38 -0.62L3.38 -4.50L3.50 -4.62L5.00 -4.62L5.12 -4.50L5.12 -3.12L5.50 -2.75L5.75 -2.75L6.12 -3.00L6.12 -7.25L5.88 -7.50L5.38 -7.50L5.12 -7.25L5.12 -5.88L4.88 -5.62L3.50 -5.62L3.38 -5.75L3.38 -9.25L3.50 -9.38L7.38 -9.38L7.62 -9.00L7.88 -6.88L8.12 -6.62L8.62 -6.50L9.00 -6.88L9.00 -10.00L8.62 -10.38Z"/><path transform="translate(120.74 160.38) scale(0.9455 1)" d="M1.62 -17.75L1.12 -17.38L1.12 -16.88L1.50 -16.62L3.38 -16.62L3.50 -16.50L3.50 -0.62L3.38 -0.50L1.50 -0.50L1.12 -0.25L1.12 0.25L1.50 0.50L7.50 0.50L7.88 0.25L7.88 -0.25L7.50 -0.50L5.62 -0.50L5.38 -0.75L5.38 -16.50L5.50 -16.62L7.50 -16.62L7.88 -17.00L7.88 -17.38L7.38 -17.75L7.12 -17.62L5.12 -17.62L5.00 -17.75L4.75 -17.62L4.25 -17.62L4.12 -17.75L3.88 -17.62L1.88 -17.62Z"/><path transform="translate(185.03 213.47) scale(0.9545 1)" d="M1.50 -18.25L1.12 -17.75L1.50 -17.25L3.50 -17.25L3.75 -17.00L3.75 -0.75L3.50 -0.50L1.50 -0.50L1.12 0.00L1.50 0.50L7.75 0.50L8.12 0.25L8.12 -0.25L7.75 -0.50L5.75 -0.50L5.62 -0.62L5.62 -8.62L5.75 -8.75L14.50 -8.75L14.75 -8.50L14.75 -0.75L14.50 -0.50L12.50 -0.50L12.12 -0.12L12.12 0.12L12.50 0.50L18.75 0.50L19.12 0.12L19.12 -0.12L18.75 -0.50L16.75 -0.50L16.62 -0.62L16.62 -17.12L16.75 -17.25L18.75 -17.25L19.12 -17.62L19.12 -17.88L18.75 -18.25L12.50 -18.25L12.12 -17.88L12.12 -17.62L12.50 -17.25L14.50 -17.25L14.75 -17.00L14.75 -10.00L14.62 -9.88L5.75 -9.88L5.62 -10.00L5.62 -17.12L5.75 -17.25L7.75 -17.25L8.12 -17.50L8.12 -18.00L7.75 -18.25Z"/></g>
<path d="M608.56 808.50L608.07 810.35L607.58 811.80L607.03 813.07L606.43 814.20L605.78 815.17L605.09 815.97L604.35 816.61L603.58 817.08L602.75 817.36L601.77 817.45L600.83 817.36L600.14 817.08L599.59 816.61L599.16 815.97L598.84 815.17L598.65 814.20L598.59 813.07L598.65 811.80L598.85 810.35L599.24 808.50L599.73 806.65L600.22 805.20L600.77 803.93L601.37 802.80L602.02 801.83L602.71 801.03L603.45 800.39L604.22 799.92L605.05 799.64L606.03 799.55L606.97 799.64L607.66 799.92L608.21 800.39L608.64 801.03L608.96 801.83L609.15 802.80L609.21 803.93L609.15 805.20L608.95 806.65L608.56 808.50ZM607.86 808.50L607.38 810.35L606.91 811.80L606.40 813.07L605.85 814.20L605.26 815.17L604.64 815.97L603.99 816.61L603.32 817.08L602.61 817.36L601.77 817.45L600.97 817.36L600.40 817.08L599.95 816.61L599.60 815.97L599.37 815.17L599.24 814.20L599.22 813.07L599.32 811.80L599.54 810.35L599.94 808.50L600.42 806.65L600.89 805.20L601.40 803.93L601.95 802.80L602.54 801.83L603.16 801.03L603.81 800.39L604.48 799.92L605.19 799.64L606.03 799.55L606.83 799.64L607.40 799.92L607.85 800.39L608.20 801.03L608.43 801.83L608.56 802.80L608.58 803.93L608.48 805.20L608.26 806.65L607.86 808.50ZM599.54 808.40L608.26 808.40" fill="none" stroke="#3a3a3a" stroke-width="0.95"/>
<g transform="translate(25.3 424.2) rotate(-90)"><g fill="#3a3a3a" fill-rule="evenodd"><path transform="translate(-2.00 -0.50)" d="M14.75 -18.12L14.12 -18.25L13.88 -18.00L13.38 -16.38L13.25 -16.25L12.12 -17.38L10.12 -18.00L10.00 -18.12L9.75 -18.12L9.62 -18.25L6.50 -18.25L6.38 -18.12L6.12 -18.12L6.00 -18.00L4.00 -17.38L2.25 -15.62L2.12 -15.62L2.00 -15.38L2.00 -13.25L2.25 -13.00L2.88 -11.62L4.12 -10.38L4.38 -10.38L5.38 -9.88L5.62 -9.62L5.88 -9.62L6.00 -9.50L6.25 -9.50L6.38 -9.38L10.75 -8.00L12.25 -7.25L13.88 -5.62L13.88 -2.88L13.75 -2.62L12.50 -1.38L10.50 -0.62L10.12 -0.62L10.00 -0.50L7.75 -0.50L7.62 -0.62L7.25 -0.62L5.25 -1.38L3.88 -2.75L3.00 -5.38L2.62 -5.62L2.25 -5.50L2.00 -5.25L2.00 0.12L2.38 0.50L2.75 0.50L3.00 0.25L3.50 -1.38L3.62 -1.50L5.00 -0.25L5.38 -0.25L7.38 0.50L10.38 0.50L12.38 -0.25L12.75 -0.25L14.88 -2.25L14.88 -6.25L14.62 -6.50L14.00 -7.88L12.88 -9.00L11.12 -9.88L10.75 -9.88L10.62 -10.00L6.62 -11.25L6.25 -11.50L6.00 -11.50L4.38 -12.38L3.12 -13.62L3.00 -13.88L3.00 -14.88L4.62 -16.50L4.88 -16.50L6.88 -17.25L9.12 -17.25L9.25 -17.12L9.62 -17.12L11.62 -16.38L13.00 -15.00L13.25 -14.50L13.88 -12.38L14.25 -12.12L14.50 -12.12L14.88 -12.50L14.88 -18.00Z"/><path transform="translate(25.02 -0.50)" d="M9.12 -21.62L8.88 -21.50L7.00 -19.62L6.88 -19.25L5.38 -17.12L3.75 -13.88L3.62 -13.00L3.50 -12.88L3.50 -12.38L3.38 -12.25L3.38 -11.75L3.25 -11.62L3.25 -11.12L3.12 -11.00L3.12 -10.50L3.00 -10.38L3.00 -9.88L2.88 -9.75L2.88 -5.50L3.00 -5.38L3.00 -4.88L3.12 -4.75L3.12 -4.25L3.25 -4.12L3.25 -3.62L3.38 -3.50L3.38 -3.00L3.50 -2.88L3.50 -2.38L3.62 -2.25L3.62 -1.62L5.38 1.88L6.88 4.00L7.00 4.38L9.00 6.38L9.50 6.38L9.88 5.88L9.75 5.62L8.12 4.00L6.38 0.62L6.38 0.38L5.50 -2.00L5.50 -2.50L5.38 -2.62L5.38 -3.12L5.25 -3.25L5.25 -3.75L5.12 -3.88L5.12 -4.38L5.00 -4.50L5.00 -5.00L4.88 -5.12L4.88 -5.62L4.75 -5.75L4.75 -9.50L4.88 -9.62L4.88 -10.12L5.00 -10.25L5.00 -10.75L5.12 -10.88L5.12 -11.38L5.25 -11.50L5.25 -12.00L5.38 -12.12L5.38 -12.62L5.50 -12.75L5.62 -13.62L5.75 -13.75L6.25 -15.50L6.50 -15.88L6.50 -16.12L8.12 -19.25L9.62 -20.75L9.75 -20.75L9.75 -21.00L9.88 -21.12L9.50 -21.62Z"/><path transform="translate(52.40 -0.50)" d="M2.38 -21.62L2.00 -21.25L2.12 -20.75L3.88 -19.00L5.62 -15.38L5.62 -15.12L6.25 -13.50L6.25 -13.12L6.38 -13.00L6.38 -12.50L6.50 -12.38L6.50 -11.88L6.62 -11.75L6.62 -11.25L6.75 -11.12L6.75 -10.62L6.88 -10.50L6.88 -10.00L7.00 -9.88L7.00 -9.12L7.12 -9.00L7.12 -6.12L7.00 -6.00L7.00 -5.38L6.88 -5.25L6.88 -4.75L6.75 -4.62L6.75 -4.12L6.62 -4.00L6.62 -3.50L6.50 -3.38L6.50 -2.88L6.38 -2.75L6.25 -1.75L6.12 -1.62L5.50 0.50L3.62 4.12L2.25 5.50L2.12 5.50L2.00 5.75L2.00 6.12L2.25 6.38L2.75 6.38L3.00 6.25L4.75 4.50L4.88 4.12L6.38 2.00L7.88 -1.12L8.12 -1.38L8.12 -1.88L8.25 -2.00L8.25 -2.50L8.38 -2.62L8.38 -3.12L8.50 -3.25L8.50 -3.75L8.62 -3.88L8.62 -4.38L8.75 -4.50L8.75 -5.00L8.88 -5.12L8.88 -5.62L9.00 -5.75L9.00 -9.50L8.88 -9.62L8.88 -10.12L8.75 -10.25L8.75 -10.75L8.62 -10.88L8.62 -11.38L8.50 -11.50L8.50 -12.00L8.38 -12.12L8.38 -12.62L8.25 -12.75L8.12 -13.75L6.38 -17.25L4.88 -19.38L4.75 -19.75L4.62 -19.75L2.75 -21.62Z"/></g><path d="M47.96 -9.40L47.48 -7.55L47.01 -6.10L46.50 -4.83L45.96 -3.70L45.37 -2.73L44.76 -1.93L44.12 -1.29L43.45 -0.82L42.75 -0.54L41.92 -0.45L41.13 -0.54L40.57 -0.82L40.12 -1.29L39.78 -1.93L39.55 -2.73L39.43 -3.70L39.42 -4.83L39.52 -6.10L39.74 -7.55L40.14 -9.40L40.62 -11.25L41.09 -12.70L41.60 -13.97L42.14 -15.10L42.73 -16.07L43.34 -16.87L43.98 -17.51L44.65 -17.98L45.35 -18.26L46.18 -18.35L46.97 -18.26L47.53 -17.98L47.98 -17.51L48.32 -16.87L48.55 -16.07L48.67 -15.10L48.68 -13.97L48.58 -12.70L48.36 -11.25L47.96 -9.40ZM47.26 -9.40L46.78 -7.55L46.34 -6.10L45.87 -4.83L45.37 -3.70L44.85 -2.73L44.31 -1.93L43.76 -1.29L43.19 -0.82L42.60 -0.54L41.92 -0.45L41.28 -0.54L40.83 -0.82L40.48 -1.29L40.23 -1.93L40.07 -2.73L40.02 -3.70L40.05 -4.83L40.19 -6.10L40.44 -7.55L40.84 -9.40L41.32 -11.25L41.76 -12.70L42.23 -13.97L42.73 -15.10L43.25 -16.07L43.79 -16.87L44.34 -17.51L44.91 -17.98L45.50 -18.26L46.18 -18.35L46.82 -18.26L47.27 -17.98L47.62 -17.51L47.87 -16.87L48.03 -16.07L48.08 -15.10L48.05 -13.97L47.91 -12.70L47.66 -11.25L47.26 -9.40ZM40.44 -9.50L47.66 -9.50" fill="none" stroke="#3a3a3a" stroke-width="0.95"/><path d="M16.3 -2.9 L17.6 -2.9 L18.6 -1.6 L22.6 7.8 L23.6 8.0 L24.0 7.4 M19.9 1.5 L16.1 7.9" fill="none" stroke="#3a3a3a" stroke-width="0.95"/></g>
</svg>
</body></html>
